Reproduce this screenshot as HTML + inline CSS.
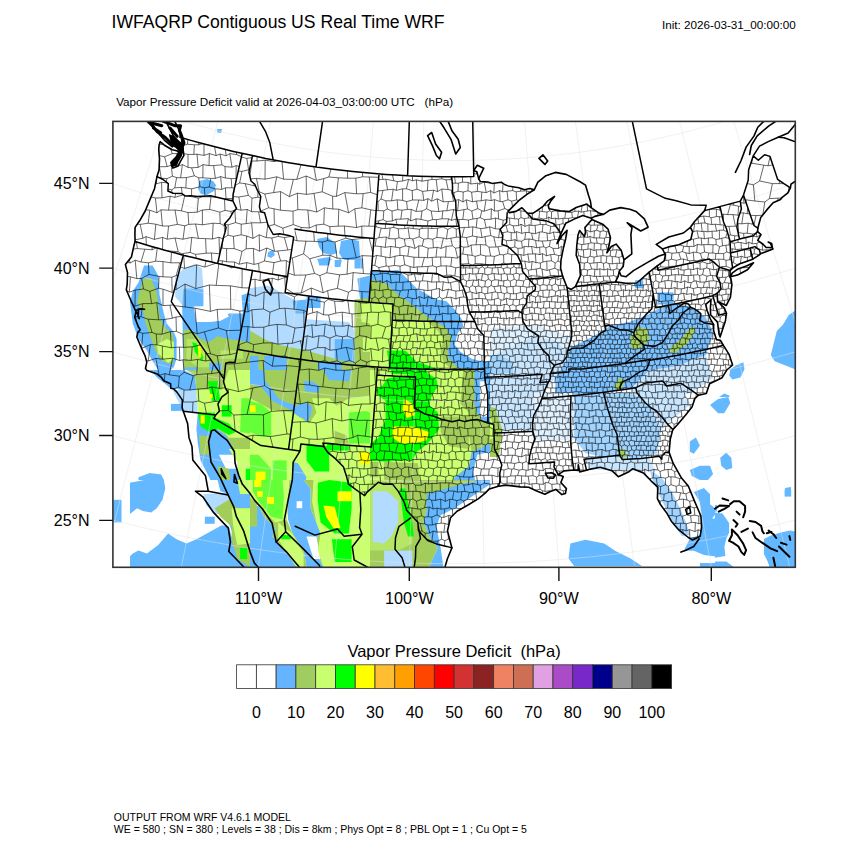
<!DOCTYPE html>
<html><head><meta charset="utf-8"><style>html,body{margin:0;padding:0;background:#fff;width:850px;height:850px;overflow:hidden}</style></head>
<body><svg width="850" height="850" viewBox="0 0 850 850" style="position:absolute;left:0;top:0"><defs><clipPath id="fr"><rect x="112.9" y="121.4" width="682.4" height="445.9"/></clipPath></defs><g clip-path="url(#fr)"><defs><clipPath id="ft0"><rect x="113" y="121" width="170" height="139"/></clipPath><clipPath id="ft1"><rect x="283" y="121" width="170" height="139"/></clipPath><clipPath id="ft2"><rect x="113" y="260" width="137" height="110"/></clipPath><clipPath id="ft3"><rect x="250" y="260" width="120" height="110"/></clipPath><clipPath id="ft4"><rect x="370" y="260" width="120" height="110"/></clipPath><clipPath id="ft5"><rect x="113" y="370" width="137" height="110"/></clipPath><clipPath id="ft6"><rect x="250" y="370" width="120" height="110"/></clipPath><clipPath id="ft7"><rect x="370" y="370" width="120" height="110"/></clipPath><clipPath id="ft8"><rect x="113" y="480" width="137" height="87"/></clipPath><clipPath id="ft9"><rect x="250" y="480" width="120" height="87"/></clipPath><clipPath id="ft10"><rect x="370" y="480" width="120" height="87"/></clipPath><clipPath id="ft11"><rect x="490" y="260" width="305" height="307"/></clipPath><clipPath id="ft12"><rect x="623" y="260" width="172" height="137"/></clipPath><clipPath id="ft13"><rect x="623" y="397" width="172" height="170"/></clipPath><clipPath id="ft14"><rect x="715" y="490" width="80" height="77"/></clipPath></defs><g clip-path="url(#ft0)"><path d="M199.0,181.0 L207.0,179.0 L213.0,181.0 L216.0,185.0 L214.0,191.0 L207.0,195.0 L201.0,194.0 L198.0,189.0Z" fill="#63b8ff"/><path d="M268.0,252.0 L273.0,250.0 L275.0,255.0 L271.0,258.0 L267.4,256.6Z" fill="#63b8ff"/><path d="M217.0,129.0 L222.0,129.0 L221.0,133.0 L217.4,132.6Z" fill="#63b8ff"/><path d="M143.0,265.0 L153.0,265.0 L156.0,281.0 L145.0,281.0Z" fill="#63b8ff"/></g><g clip-path="url(#ft1)"><path d="M317.0,239.0 L327.0,237.0 L335.0,243.0 L337.0,253.0 L331.0,255.0 L323.0,253.0 L319.0,247.0Z" fill="#63b8ff"/><path d="M317.0,259.0 L329.0,257.0 L333.0,261.0 L329.0,265.0 L319.0,265.0Z" fill="#63b8ff"/><path d="M334.0,261.0 L341.0,259.0 L342.0,267.0 L336.0,269.0Z" fill="#63b8ff"/><path d="M341.0,241.0 L351.0,239.0 L359.0,241.0 L360.0,257.0 L365.0,261.0 L364.0,269.0 L357.0,269.0 L351.0,263.0 L343.0,259.0 L339.0,253.0Z" fill="#63b8ff"/></g><g clip-path="url(#ft2)"><path d="M144.1,265.6 L152.6,265.6 L158.2,275.5 L159.6,295.3 L163.9,313.6 L166.7,323.5 L173.8,332.0 L176.6,339.1 L176.6,358.8 L173.8,367.3 L166.7,372.9 L158.2,370.1 L151.2,358.8 L146.9,350.4 L138.5,339.1 L132.8,323.5 L130.0,302.4 L132.8,291.1 L138.5,282.6Z" fill="#63b8ff"/><path d="M175.2,276.9 L183.6,268.5 L194.9,264.2 L202.0,268.5 L203.4,288.2 L200.6,306.6 L183.6,306.6 L175.2,296.7Z" fill="#b1dbff"/><path d="M183.6,288.2 L203.4,289.6 L203.4,306.6 L194.9,306.6 L196.4,322.1 L206.2,322.1 L220.4,320.7 L228.8,313.6 L242.9,313.6 L250.0,309.4 L250.0,380.0 L183.6,380.0 L182.2,306.6Z" fill="#63b8ff"/><path d="M193.5,306.6 L209.1,306.6 L226.0,310.8 L228.8,316.5 L220.4,320.7 L206.2,322.1 L196.4,322.1Z" fill="#ffffff"/><path d="M241.5,295.3 L250.0,292.5 L250.0,313.6 L242.9,313.6Z" fill="#63b8ff"/><path d="M143.4,278.4 L151.2,278.4 L156.8,292.5 L159.6,316.5 L163.9,326.4 L172.4,333.4 L173.8,341.9 L173.8,358.8 L172.4,364.5 L162.5,361.6 L155.4,350.4 L151.2,339.1 L145.5,323.5 L144.1,313.6 L137.1,302.4 L138.5,295.3Z" fill="#a2cd5a"/><path d="M183.6,329.2 L192.1,330.6 L200.6,339.1 L209.1,341.9 L217.5,336.2 L228.8,339.1 L250.0,341.9 L250.0,380.0 L183.6,380.0Z" fill="#a2cd5a"/><path d="M185.1,367.3 L197.8,367.3 L197.8,380.0 L185.1,380.0Z" fill="#63b8ff"/><path d="M209.1,363.1 L221.8,363.1 L221.8,380.0 L209.1,380.0Z" fill="#63b8ff"/><path d="M156.8,344.7 L166.7,339.1 L173.8,341.9 L173.8,358.8 L168.1,363.1 L158.2,353.2Z" fill="#caff70"/><path d="M186.5,339.1 L197.8,339.1 L209.1,350.4 L209.1,367.3 L197.8,367.3 L186.5,358.8Z" fill="#b6e665"/><path d="M220.4,350.4 L242.9,350.4 L242.9,358.8 L220.4,358.8Z" fill="#b6e665"/><path d="M192.1,341.9 L196.4,343.3 L203.4,357.4 L202.0,361.6 L194.9,351.8Z" fill="#00ff00"/><path d="M197.8,346.1 L200.6,346.1 L201.3,357.4 L198.5,357.4Z" fill="#ffff00"/></g><g clip-path="url(#ft3)"><path d="M317.8,260.0 L330.5,260.0 L329.1,265.6 L319.2,265.6Z" fill="#63b8ff"/><path d="M334.7,260.0 L341.8,260.0 L340.4,267.1 L334.7,267.1Z" fill="#63b8ff"/><path d="M354.5,260.0 L362.9,260.0 L362.9,268.5 L354.5,268.5Z" fill="#63b8ff"/><path d="M357.3,278.4 L370.0,275.5 L370.0,299.5 L360.1,299.5Z" fill="#63b8ff"/><path d="M250.0,288.2 L268.4,285.4 L296.6,300.9 L306.5,299.5 L306.5,351.8 L250.0,351.8Z" fill="#b1dbff"/><path d="M250.0,288.2 L261.3,286.8 L266.9,302.4 L265.5,322.1 L258.5,339.1 L250.0,339.1Z" fill="#b1dbff"/><path d="M292.4,300.9 L306.5,299.5 L306.5,313.6 L295.2,313.6Z" fill="#63b8ff"/><path d="M278.2,319.3 L296.6,319.3 L302.2,334.8 L292.4,344.7 L275.4,343.3Z" fill="#b1dbff"/><path d="M306.5,319.3 L329.1,320.7 L348.8,322.1 L354.5,330.6 L354.5,363.1 L306.5,358.8Z" fill="#b1dbff"/><path d="M334.7,339.1 L354.5,339.1 L354.5,363.1 L334.7,363.1Z" fill="#63b8ff"/><path d="M306.5,296.7 L320.6,296.7 L320.6,308.0 L306.5,308.0Z" fill="#63b8ff"/><path d="M354.5,299.5 L370.0,298.1 L370.0,380.0 L354.5,380.0Z" fill="#a2cd5a"/><path d="M250.0,330.6 L264.1,339.1 L278.2,344.7 L306.5,350.4 L334.7,358.8 L354.5,363.1 L354.5,380.0 L250.0,380.0Z" fill="#a2cd5a"/><path d="M250.0,356.0 L258.5,356.0 L258.5,380.0 L250.0,380.0Z" fill="#63b8ff"/><path d="M264.1,356.0 L286.7,356.0 L286.7,380.0 L264.1,380.0Z" fill="#63b8ff"/><path d="M317.8,361.6 L341.8,361.6 L341.8,380.0 L317.8,380.0Z" fill="#63b8ff"/><path d="M360.1,302.4 L370.0,302.4 L370.0,323.5 L361.5,322.1Z" fill="#caff70"/><path d="M362.9,337.6 L370.0,337.6 L370.0,351.8 L362.9,351.8Z" fill="#caff70"/></g><g clip-path="url(#ft4)"><path d="M370.0,271.3 L378.5,271.3 L398.2,269.9 L406.7,278.4 L416.6,288.2 L426.5,293.9 L436.4,299.5 L446.2,300.9 L454.7,309.4 L461.8,319.3 L463.2,326.4 L457.5,333.4 L454.7,344.7 L460.4,351.8 L471.6,358.8 L482.9,361.6 L490.0,361.6 L490.0,380.0 L370.0,380.0Z" fill="#63b8ff"/><path d="M370.0,279.8 L378.5,281.2 L386.9,284.0 L395.4,292.5 L405.3,299.5 L416.6,308.0 L426.5,316.5 L436.4,322.1 L446.2,327.8 L451.9,339.1 L447.6,351.8 L449.1,358.8 L457.5,367.3 L468.8,370.1 L477.3,380.0 L370.0,380.0Z" fill="#a2cd5a"/><path d="M370.0,302.4 L391.2,302.4 L392.6,319.3 L426.5,320.7 L437.8,330.6 L443.4,339.1 L440.6,351.8 L443.4,361.6 L449.1,367.3 L370.0,367.3Z" fill="#caff70"/><path d="M386.9,350.4 L405.3,350.4 L416.6,361.6 L440.6,370.1 L443.4,380.0 L389.8,380.0 L388.4,361.6Z" fill="#00ff00"/></g><g clip-path="url(#ft5)"><path d="M149.8,370.0 L183.6,370.0 L194.9,375.6 L196.4,389.8 L186.5,392.6 L176.6,388.4 L172.4,389.8 L165.3,384.1 L158.2,378.5Z" fill="#63b8ff"/><path d="M172.4,389.8 L196.4,389.8 L197.8,412.4 L183.6,410.9 L176.6,398.2Z" fill="#b1dbff"/><path d="M170.9,403.9 L182.2,403.9 L182.2,410.9 L170.9,410.9Z" fill="#63b8ff"/><path d="M197.8,412.4 L210.5,416.6 L217.5,429.3 L226.0,434.9 L231.6,443.4 L237.3,454.7 L237.3,468.8 L242.9,477.3 L245.8,490.0 L214.7,490.0 L209.1,477.3 L200.6,460.4 L197.8,443.4 L196.4,429.3Z" fill="#63b8ff"/><path d="M138.5,477.3 L149.8,473.1 L161.1,474.5 L165.3,482.9 L165.3,490.0 L138.5,490.0Z" fill="#63b8ff"/><path d="M218.9,454.7 L237.3,454.7 L237.3,468.8 L226.0,468.8Z" fill="#ffffff"/><path d="M186.5,370.0 L250.0,370.0 L250.0,490.0 L245.8,490.0 L242.9,477.3 L237.3,454.7 L226.0,434.9 L217.5,429.3 L210.5,416.6 L199.2,412.4 L196.4,389.8 L194.9,375.6Z" fill="#a2cd5a"/><path d="M199.2,434.9 L209.1,436.4 L209.1,454.7 L200.6,454.7Z" fill="#a2cd5a"/><path d="M217.5,466.0 L228.8,468.8 L231.6,490.0 L221.8,490.0Z" fill="#a2cd5a"/><path d="M196.4,389.8 L221.8,389.8 L228.8,370.0 L250.0,370.0 L250.0,437.8 L228.8,437.8 L220.4,426.5 L211.9,418.0 L197.8,412.4Z" fill="#caff70"/><path d="M228.8,449.1 L250.0,449.1 L250.0,490.0 L240.1,490.0 L237.3,461.8Z" fill="#caff70"/><path d="M207.6,381.3 L217.5,381.3 L220.4,401.1 L211.9,401.1Z" fill="#00ff00"/><path d="M197.8,412.4 L214.7,412.4 L217.5,429.3 L209.1,432.1 L200.6,426.5Z" fill="#00ff00"/><path d="M211.9,416.6 L228.8,423.6 L235.9,432.1 L228.8,434.9 L214.7,426.5Z" fill="#00ff00"/><path d="M241.5,398.2 L250.0,398.2 L250.0,433.5 L240.1,432.1Z" fill="#65ff38"/><path d="M245.8,468.8 L250.0,468.8 L250.0,490.0 L245.8,490.0Z" fill="#00ff00"/><path d="M221.8,405.3 L231.6,405.3 L231.6,416.6 L221.8,416.6Z" fill="#00ff00"/><path d="M200.6,415.2 L204.8,415.2 L204.8,423.6 L200.6,423.6Z" fill="#ffff00"/><path d="M209.8,394.0 L212.6,394.0 L212.6,398.2 L209.8,398.2Z" fill="#ffff00"/></g><g clip-path="url(#ft6)"><path d="M250.0,370.0 L370.0,370.0 L370.0,490.0 L250.0,490.0Z" fill="#a2cd5a"/><path d="M250.0,370.0 L264.1,370.0 L265.5,381.3 L272.6,389.8 L278.2,398.2 L286.7,402.5 L296.6,405.3 L306.5,402.5 L312.1,406.7 L310.7,415.2 L306.5,423.6 L303.6,418.0 L296.6,416.6 L292.4,410.9 L283.9,406.7 L272.6,401.1 L261.3,386.9 L250.0,384.1Z" fill="#63b8ff"/><path d="M303.6,381.3 L312.1,381.3 L320.6,386.9 L317.8,392.6 L305.1,391.2Z" fill="#63b8ff"/><path d="M323.4,370.0 L351.6,370.0 L348.8,381.3 L329.1,379.9Z" fill="#63b8ff"/><path d="M334.7,420.8 L340.4,420.8 L340.4,432.1 L334.7,432.1Z" fill="#63b8ff"/><path d="M292.4,461.8 L298.0,463.2 L306.5,477.3 L303.6,490.0 L292.4,490.0Z" fill="#63b8ff"/><path d="M250.0,398.2 L271.2,409.5 L292.4,412.4 L309.3,423.6 L316.4,412.4 L334.7,406.7 L348.8,398.2 L370.0,395.4 L370.0,490.0 L303.6,490.0 L306.5,477.3 L298.0,463.2 L292.4,461.8 L292.4,490.0 L250.0,490.0Z" fill="#caff70"/><path d="M312.1,398.2 L329.1,398.2 L337.5,406.7 L316.4,412.4Z" fill="#caff70"/><path d="M334.7,430.7 L346.0,434.9 L348.8,443.4 L334.7,443.4Z" fill="#a2cd5a"/><path d="M250.0,401.1 L261.3,403.9 L271.2,412.4 L271.2,436.4 L261.3,436.4 L250.0,432.1Z" fill="#65ff38"/><path d="M306.5,443.4 L329.1,446.2 L329.1,471.6 L314.9,471.6 L306.5,460.4Z" fill="#00ff00"/><path d="M348.8,412.4 L365.8,410.9 L370.0,412.4 L370.0,443.4 L348.8,443.4Z" fill="#65ff38"/><path d="M250.0,454.7 L258.5,454.7 L271.2,468.8 L271.2,490.0 L250.0,490.0Z" fill="#65ff38"/><path d="M272.6,460.4 L286.7,460.4 L286.7,490.0 L272.6,490.0Z" fill="#65ff38"/><path d="M326.2,443.4 L348.8,446.2 L348.8,450.5 L329.1,450.5Z" fill="#00ff00"/><path d="M250.0,405.3 L255.6,405.3 L255.6,412.4 L250.0,412.4Z" fill="#ffff00"/><path d="M255.6,471.6 L265.5,471.6 L265.5,487.2 L255.6,487.2Z" fill="#ffff00"/><path d="M358.7,451.9 L370.0,451.9 L370.0,464.6 L360.1,464.6Z" fill="#ffff00"/><path d="M347.4,484.4 L351.6,484.4 L351.6,488.6 L347.4,488.6Z" fill="#ffff00"/></g><g clip-path="url(#ft7)"><path d="M370.0,370.0 L490.0,370.0 L490.0,490.0 L370.0,490.0Z" fill="#a2cd5a"/><path d="M474.5,370.0 L490.0,370.0 L490.0,423.6 L481.5,419.4 L477.3,412.4 L474.5,403.9Z" fill="#63b8ff"/><path d="M471.6,451.9 L490.0,443.4 L490.0,490.0 L446.2,490.0 L454.7,477.3 L468.8,466.0Z" fill="#63b8ff"/><path d="M477.3,454.7 L490.0,451.9 L490.0,490.0 L477.3,490.0 L473.1,471.6Z" fill="#ffffff"/><path d="M480.1,381.3 L487.2,381.3 L487.2,416.6 L480.1,416.6Z" fill="#ffffff"/><path d="M370.0,370.0 L463.2,370.0 L460.4,403.9 L468.8,412.4 L468.8,433.5 L471.6,451.9 L468.8,466.0 L454.7,477.3 L446.2,490.0 L370.0,490.0Z" fill="#caff70"/><path d="M440.6,416.6 L468.8,416.6 L468.8,449.1 L449.1,446.2 L440.6,432.1Z" fill="#a2cd5a"/><path d="M384.1,461.8 L418.0,463.2 L419.4,480.1 L405.3,490.0 L384.1,490.0Z" fill="#a2cd5a"/><path d="M370.0,461.8 L378.5,461.8 L378.5,477.3 L370.0,477.3Z" fill="#a2cd5a"/><path d="M386.9,378.5 L412.4,374.2 L416.6,370.0 L426.5,372.8 L436.4,378.5 L437.8,386.9 L432.1,394.0 L429.3,405.3 L437.8,412.4 L439.2,429.3 L426.5,444.8 L416.6,451.9 L412.4,460.4 L398.2,460.4 L386.9,461.8 L370.0,460.4 L370.0,443.4 L378.5,437.8 L381.3,429.3 L385.5,419.4 L385.5,401.1 L378.5,395.4 L375.6,389.8 L382.7,385.5Z" fill="#00ff00"/><path d="M391.2,370.0 L426.5,370.0 L426.5,374.2 L391.2,374.2Z" fill="#00ff00"/><path d="M416.6,378.5 L433.5,378.5 L434.9,391.2 L426.5,402.5 L416.6,399.6Z" fill="#00ff00"/><path d="M403.9,398.2 L412.4,403.9 L415.2,415.2 L406.7,418.0 L402.5,409.5Z" fill="#ffff00"/><path d="M392.6,426.5 L412.4,426.5 L429.3,432.1 L426.5,440.6 L412.4,443.4 L401.1,443.4 L392.6,437.8Z" fill="#ffff00"/></g><g clip-path="url(#ft8)"><path d="M130.0,482.8 L144.1,480.0 L163.9,480.0 L165.3,488.5 L162.5,499.8 L156.8,508.2 L151.2,512.5 L142.7,511.1 L137.1,508.2 L130.0,513.9Z" fill="#63b8ff"/><path d="M132.8,553.4 L138.5,550.6 L146.9,553.4 L158.2,544.9 L168.1,533.6 L176.6,539.3 L186.5,543.5 L196.4,539.3 L209.1,532.2 L221.8,525.2 L228.8,526.6 L231.6,536.5 L237.3,547.8 L250.0,559.1 L250.0,567.0 L130.0,567.0 L130.0,556.2Z" fill="#63b8ff"/><path d="M204.8,516.7 L214.7,516.7 L214.7,523.8 L204.8,523.8Z" fill="#63b8ff"/><path d="M203.4,494.1 L228.8,492.7 L231.6,513.9 L214.7,513.9 L206.2,505.4Z" fill="#b1dbff"/><path d="M217.5,480.0 L250.0,480.0 L250.0,522.4 L231.6,522.4 L228.8,494.1 L220.4,491.3Z" fill="#63b8ff"/><path d="M228.8,522.4 L240.1,522.4 L240.1,530.8 L231.6,530.8Z" fill="#63b8ff"/><path d="M113.1,499.8 L121.5,499.8 L121.5,522.4 L113.1,522.4Z" fill="#63b8ff"/><path d="M214.7,508.2 L228.8,499.8 L237.3,508.2 L250.0,508.2 L250.0,567.0 L237.3,559.1 L231.6,539.3 L231.6,526.6 L220.4,516.7Z" fill="#a2cd5a"/><path d="M240.1,480.0 L250.0,480.0 L250.0,494.1 L240.1,494.1Z" fill="#a2cd5a"/><path d="M231.6,508.2 L250.0,508.2 L250.0,543.5 L237.3,544.9 L233.1,525.2Z" fill="#caff70"/><path d="M237.3,480.0 L250.0,480.0 L250.0,494.1 L240.1,494.1Z" fill="#caff70"/><path d="M240.1,547.8 L247.2,547.8 L247.2,559.1 L240.1,559.1Z" fill="#00ff00"/></g><g clip-path="url(#ft9)"><path d="M250.0,508.2 L258.5,505.4 L264.1,516.7 L275.4,528.0 L272.6,536.5 L285.3,550.6 L296.6,567.0 L250.0,567.0Z" fill="#63b8ff"/><path d="M290.9,480.0 L303.6,480.0 L310.7,488.5 L310.7,508.2 L316.4,522.4 L320.6,533.6 L313.5,542.1 L317.8,556.2 L323.4,567.0 L306.5,567.0 L303.6,550.6 L292.4,533.6 L288.1,519.5 L286.7,501.2Z" fill="#63b8ff"/><path d="M250.0,480.0 L290.9,480.0 L288.1,501.2 L286.7,519.5 L292.4,533.6 L303.6,550.6 L306.5,567.0 L296.6,567.0 L285.3,550.6 L272.6,536.5 L275.4,528.0 L264.1,516.7 L258.5,505.4 L250.0,498.4Z" fill="#a2cd5a"/><path d="M250.0,498.4 L257.1,498.4 L257.1,526.6 L250.0,526.6Z" fill="#a2cd5a"/><path d="M303.6,480.0 L370.0,480.0 L370.0,567.0 L323.4,567.0 L317.8,556.2 L313.5,542.1 L320.6,533.6 L316.4,522.4 L310.7,508.2 L310.7,488.5Z" fill="#a2cd5a"/><path d="M365.8,504.0 L370.0,504.0 L370.0,511.1 L365.8,511.1Z" fill="#63b8ff"/><path d="M364.4,529.4 L370.0,529.4 L370.0,539.3 L364.4,539.3Z" fill="#63b8ff"/><path d="M296.6,501.2 L302.2,501.2 L302.2,508.2 L296.6,508.2Z" fill="#ffffff"/><path d="M306.5,536.5 L316.4,536.5 L320.6,559.1 L313.5,559.1Z" fill="#ffffff"/><path d="M250.0,480.0 L289.5,480.0 L286.7,519.5 L275.4,522.4 L258.5,505.4 L250.0,496.9Z" fill="#caff70"/><path d="M278.2,522.4 L292.4,533.6 L303.6,553.4 L303.6,567.0 L296.6,567.0 L285.3,550.6 L278.2,539.3Z" fill="#caff70"/><path d="M313.5,480.0 L370.0,480.0 L370.0,567.0 L323.4,567.0 L317.8,550.6 L320.6,533.6 L316.4,522.4 L312.1,501.2Z" fill="#caff70"/><path d="M252.8,480.0 L282.5,480.0 L283.9,496.9 L282.5,519.5 L271.2,516.7 L258.5,501.2 L252.8,491.3Z" fill="#65ff38"/><path d="M317.8,482.8 L329.1,480.0 L351.6,482.8 L351.6,508.2 L348.8,533.6 L334.7,533.6 L320.6,522.4 L317.8,501.2Z" fill="#00ff00"/><path d="M331.9,539.3 L351.6,539.3 L351.6,561.9 L334.7,561.9Z" fill="#00ff00"/><path d="M281.1,535.1 L290.9,535.1 L290.9,539.3 L281.1,539.3Z" fill="#00ff00"/><path d="M254.2,480.0 L261.3,480.0 L261.3,487.1 L254.2,487.1Z" fill="#ffff00"/><path d="M257.1,491.3 L262.7,491.3 L262.7,496.9 L257.1,496.9Z" fill="#ffff00"/><path d="M266.9,496.9 L274.0,496.9 L274.0,504.0 L266.9,504.0Z" fill="#ffff00"/><path d="M337.5,491.3 L351.6,491.3 L351.6,501.2 L337.5,501.2Z" fill="#ffff00"/><path d="M323.4,505.4 L334.7,506.8 L340.4,528.0 L333.3,528.0 L326.2,516.7Z" fill="#ffff00"/></g><g clip-path="url(#ft10)"><path d="M370.0,480.0 L477.3,480.0 L449.1,494.1 L432.1,502.6 L426.5,511.1 L423.6,522.4 L429.3,536.5 L437.8,547.8 L429.3,567.0 L370.0,567.0Z" fill="#a2cd5a"/><path d="M426.5,494.1 L477.3,480.0 L490.0,480.0 L490.0,484.2 L454.7,508.2 L440.6,515.3 L436.4,526.6 L440.6,547.8 L443.4,567.0 L429.3,567.0 L437.8,547.8 L429.3,536.5 L423.6,522.4 L426.5,511.1Z" fill="#63b8ff"/><path d="M370.0,480.0 L402.5,480.0 L412.4,515.3 L412.4,543.5 L398.2,550.6 L370.0,550.6Z" fill="#b6e665"/><path d="M372.8,491.3 L386.9,491.3 L398.2,501.2 L398.2,522.4 L391.2,536.5 L384.1,543.5 L372.8,542.1Z" fill="#b1dbff"/><path d="M384.1,550.6 L412.4,550.6 L412.4,567.0 L384.1,567.0Z" fill="#b1dbff"/><path d="M399.6,488.5 L405.3,488.5 L412.4,522.4 L413.8,536.5 L408.1,536.5 L403.9,522.4Z" fill="#00ff00"/></g><g clip-path="url(#ft11)"><path d="M480.0,328.9 L536.5,325.2 L570.4,336.5 L574.1,355.3 L555.3,370.4 L480.0,366.6Z" fill="#e0f1ff"/><path d="M555.3,370.4 L570.4,347.8 L592.9,336.5 L611.8,325.2 L630.6,321.4 L649.4,313.9 L668.2,302.6 L690.8,306.4 L705.9,317.6 L713.4,332.7 L705.9,355.3 L675.8,366.6 L649.4,370.4 L630.6,389.2 L604.2,392.9 L574.1,394.8 L555.3,392.9Z" fill="#7dc2ff"/><path d="M630.6,389.2 L649.4,370.4 L675.8,366.6 L705.9,355.3 L713.4,377.9 L690.8,392.9 L660.7,400.5 L638.1,400.5Z" fill="#c9e6ff"/><path d="M480.0,359.1 L502.6,351.5 L532.7,336.5 L555.3,340.2 L570.4,355.3 L555.3,377.9 L544.0,392.9 L532.7,430.6 L502.6,430.6 L480.0,430.6Z" fill="#c9e6ff"/><path d="M532.7,392.9 L574.1,392.9 L574.1,440.0 L532.7,440.0Z" fill="#e0f1ff"/><path d="M574.1,394.8 L604.2,392.9 L630.6,392.9 L649.4,404.2 L660.7,430.6 L656.9,453.2 L630.6,460.7 L604.2,456.9 L585.4,453.2 L574.1,438.1Z" fill="#a1d4ff"/><path d="M638.1,400.5 L660.7,400.5 L683.3,392.9 L690.8,404.2 L668.2,423.1 L660.7,430.6 L649.4,404.2Z" fill="#c9e6ff"/><path d="M649.8,470.1 L661.8,478.0 L672.0,492.0 L679.9,508.1 L685.9,522.1 L690.1,534.9 L681.8,536.0 L672.0,522.1 L664.1,505.1 L656.9,490.1 L652.0,478.0Z" fill="#a1d4ff"/><path d="M585.0,455.8 L649.8,458.8 L655.1,470.9 L620.0,470.9 L589.9,469.0Z" fill="#c9e6ff"/><path d="M570.4,543.5 L585.4,539.8 L604.2,543.5 L615.5,551.1 L630.6,558.6 L641.9,566.1 L574.1,566.1 L568.5,558.6Z" fill="#63b8ff"/><path d="M484.9,356.8 L500.0,354.9 L513.1,362.1 L513.1,373.0 L484.9,373.0Z" fill="#a1d4ff"/><path d="M630.6,336.5 L638.1,327.1 L647.5,328.9 L649.4,340.2 L638.1,349.6 L630.6,347.8Z" fill="#a2cd5a"/><path d="M668.2,349.6 L679.5,340.2 L690.8,327.1 L696.5,328.9 L687.1,344.0 L673.9,353.4Z" fill="#a2cd5a"/><path d="M613.6,387.3 L619.3,377.9 L624.9,379.8 L621.2,391.1Z" fill="#a2cd5a"/><path d="M617.4,449.4 L624.9,449.4 L626.8,456.9 L619.3,457.7Z" fill="#a2cd5a"/><path d="M480.0,404.2 L495.1,408.0 L502.6,430.6 L498.8,456.9 L480.0,456.9Z" fill="#a2cd5a"/><path d="M480.0,415.5 L491.3,419.3 L495.1,438.1 L480.0,441.9Z" fill="#caff70"/></g><g clip-path="url(#ft12)"><path d="M770.8,355.1 L776.8,330.9 L782.9,324.8 L789.0,314.7 L795.1,310.6 L795.1,369.3 L784.9,365.3 L774.8,361.2Z" fill="#63b8ff"/><path d="M730.3,369.3 L736.4,365.3 L743.4,362.2 L744.5,369.3 L740.4,377.4 L732.3,379.4 L729.3,375.4Z" fill="#63b8ff"/><path d="M712.1,405.7 L718.1,397.7 L724.2,393.6 L729.3,395.6 L730.3,403.7 L724.2,409.8 L720.2,413.8 L714.1,409.8Z" fill="#63b8ff"/><path d="M657.4,292.4 L673.6,292.4 L673.6,304.5 L657.4,304.5Z" fill="#63b8ff"/><path d="M635.1,280.2 L643.2,280.2 L643.2,288.3 L635.1,288.3Z" fill="#63b8ff"/></g><g clip-path="url(#ft13)"><path d="M710.0,405.1 L718.1,399.0 L728.3,397.0 L730.3,403.1 L724.2,413.2 L718.1,413.2Z" fill="#63b8ff"/><path d="M689.8,441.5 L695.9,437.5 L699.9,445.6 L693.9,453.7 L689.8,451.7Z" fill="#63b8ff"/><path d="M720.2,457.7 L726.2,452.7 L731.3,457.7 L732.3,467.9 L726.2,469.9 L721.2,465.8Z" fill="#63b8ff"/><path d="M689.8,469.9 L699.9,465.8 L710.0,465.8 L713.1,473.9 L708.0,480.0 L699.9,480.0 L691.8,475.9Z" fill="#63b8ff"/><path d="M693.9,492.1 L704.0,488.1 L710.0,494.2 L710.0,504.3 L718.1,510.4 L712.1,518.5 L722.2,518.5 L728.3,526.6 L732.3,538.7 L736.4,550.8 L724.2,554.9 L720.2,556.9 L704.0,554.9 L693.9,550.8 L683.7,550.8 L689.8,538.7 L699.9,534.7 L701.9,518.5 L699.9,502.3Z" fill="#63b8ff"/><path d="M764.7,538.7 L776.8,534.7 L789.0,530.6 L795.1,530.6 L795.1,567.0 L772.8,567.0 L768.7,554.9Z" fill="#63b8ff"/><path d="M784.9,488.1 L791.0,487.1 L791.0,496.2 L784.9,496.2Z" fill="#63b8ff"/><path d="M699.9,563.0 L736.4,563.0 L736.4,567.0 L699.9,567.0Z" fill="#63b8ff"/></g><g clip-path="url(#ft14)"><path d="M715.0,490.0 L795.0,490.0 L795.0,567.0 L715.0,567.0Z" fill="#ffffff"/><path d="M715.0,512.6 L722.5,513.5 L729.1,522.9 L729.1,532.4 L726.3,538.9 L724.4,546.5 L725.4,555.9 L715.0,557.8Z" fill="#63b8ff"/><path d="M715.0,561.5 L726.3,561.5 L733.8,567.0 L715.0,567.0Z" fill="#63b8ff"/><path d="M763.9,538.9 L771.5,535.2 L780.9,532.4 L790.3,530.5 L795.0,531.4 L795.0,567.0 L769.6,567.0 L767.7,561.5 L763.9,554.0Z" fill="#63b8ff"/><path d="M784.6,490.0 L791.2,490.0 L791.2,496.6 L784.6,496.6Z" fill="#63b8ff"/><path d="M715.0,505.1 L716.9,505.1 L716.9,511.6 L715.0,511.6Z" fill="#63b8ff"/></g><path d="M-240.5,564.9 L-225.6,572.5 L-210.5,579.9 L-195.4,587.1 L-180.2,594.2 L-164.9,601.1 L-149.5,607.8 L-134.1,614.3 L-118.5,620.7 L-103.0,626.9 L-87.3,633.0 L-71.6,638.9 L-55.8,644.6 L-40.0,650.1 L-24.1,655.4 L-8.1,660.6 L7.9,665.6 L23.9,670.4 L40.0,675.1 L56.2,679.5 L72.4,683.8 L88.7,687.9 L105.0,691.9 L121.3,695.6 L137.7,699.2 L154.2,702.6 L170.6,705.8 L187.1,708.8 L203.6,711.7 L220.2,714.3 L236.8,716.8 L253.4,719.1 L270.0,721.2 L286.7,723.2 L303.4,724.9 L320.1,726.5 L336.8,727.9 L353.5,729.1 L370.3,730.1 L387.0,730.9 L403.8,731.6 L420.6,732.0 L437.3,732.3 L454.1,732.4 L470.9,732.3 L487.6,732.0 L504.4,731.6 L521.2,730.9 L537.9,730.1 L554.7,729.1 L571.4,727.9 L588.1,726.5 L604.8,724.9 L621.5,723.2 L638.2,721.2 L654.8,719.1 L671.4,716.8 L688.0,714.3 L704.6,711.7 L721.1,708.8 L737.6,705.8 L754.0,702.6 L770.5,699.2 L786.9,695.6 L803.2,691.9 L819.5,687.9 L835.8,683.8 L852.0,679.5 L868.2,675.1 L884.3,670.4 L900.3,665.6 L916.3,660.6 L932.3,655.4 L948.2,650.1 L964.0,644.6 L979.8,638.9 L995.5,633.0 L1011.2,626.9 L1026.7,620.7 L1042.3,614.3 L1057.7,607.8 L1073.1,601.1 L1088.4,594.2 L1103.6,587.1 L1118.7,579.9 L1133.8,572.5 M-201.6,488.8 L-187.4,496.0 L-173.2,502.9 L-158.9,509.8 L-144.6,516.4 L-130.2,522.9 L-115.6,529.3 L-101.1,535.5 L-86.4,541.5 L-71.7,547.4 L-57.0,553.1 L-42.1,558.6 L-27.2,564.0 L-12.3,569.2 L2.7,574.3 L17.8,579.2 L32.9,583.9 L48.1,588.4 L63.3,592.8 L78.5,597.0 L93.8,601.1 L109.2,605.0 L124.6,608.7 L140.0,612.2 L155.5,615.6 L171.0,618.8 L186.5,621.8 L202.1,624.7 L217.7,627.4 L233.3,629.9 L249.0,632.2 L264.7,634.4 L280.4,636.4 L296.1,638.2 L311.8,639.9 L327.6,641.3 L343.4,642.6 L359.2,643.8 L375.0,644.7 L390.8,645.5 L406.6,646.1 L422.4,646.6 L438.3,646.8 L454.1,646.9 L469.9,646.8 L485.8,646.6 L501.6,646.1 L517.4,645.5 L533.2,644.7 L549.0,643.8 L564.8,642.6 L580.6,641.3 L596.4,639.9 L612.1,638.2 L627.8,636.4 L643.5,634.4 L659.2,632.2 L674.9,629.9 L690.5,627.4 L706.1,624.7 L721.7,621.8 L737.2,618.8 L752.7,615.6 L768.2,612.2 L783.6,608.7 L799.0,605.0 L814.4,601.1 L829.7,597.0 L844.9,592.8 L860.1,588.4 L875.3,583.9 L890.4,579.2 L905.5,574.3 L920.5,569.2 L935.4,564.0 L950.3,558.6 L965.2,553.1 L979.9,547.4 L994.6,541.5 L1009.3,535.5 L1023.8,529.3 L1038.4,522.9 L1052.8,516.4 L1067.1,509.8 L1081.4,502.9 L1095.6,496.0 M-163.6,414.8 L-150.3,421.5 L-136.9,428.1 L-123.5,434.5 L-110.0,440.8 L-96.4,446.9 L-82.7,452.9 L-69.0,458.7 L-55.2,464.4 L-41.3,469.9 L-27.4,475.3 L-13.4,480.5 L0.6,485.6 L14.7,490.5 L28.8,495.3 L43.0,499.9 L57.2,504.3 L71.5,508.6 L85.9,512.7 L100.2,516.7 L114.7,520.5 L129.1,524.2 L143.6,527.7 L158.2,531.0 L172.7,534.2 L187.4,537.2 L202.0,540.0 L216.7,542.7 L231.4,545.3 L246.1,547.6 L260.8,549.8 L275.6,551.9 L290.4,553.8 L305.2,555.5 L320.1,557.1 L334.9,558.4 L349.8,559.7 L364.7,560.7 L379.6,561.6 L394.5,562.4 L409.4,563.0 L424.3,563.4 L439.2,563.6 L454.1,563.7 L469.0,563.6 L483.9,563.4 L498.8,563.0 L513.7,562.4 L528.6,561.6 L543.5,560.7 L558.4,559.7 L573.3,558.4 L588.1,557.1 L603.0,555.5 L617.8,553.8 L632.6,551.9 L647.4,549.8 L662.1,547.6 L676.8,545.3 L691.5,542.7 L706.2,540.0 L720.8,537.2 L735.5,534.2 L750.0,531.0 L764.6,527.7 L779.1,524.2 L793.5,520.5 L808.0,516.7 L822.3,512.7 L836.7,508.6 L851.0,504.3 L865.2,499.9 L879.4,495.3 L893.5,490.5 L907.6,485.6 L921.6,480.5 L935.6,475.3 L949.5,469.9 L963.4,464.4 L977.2,458.7 L990.9,452.9 L1004.6,446.9 L1018.2,440.8 L1031.7,434.5 L1045.1,428.1 L1058.5,421.5 M-126.5,342.1 L-114.0,348.5 L-101.4,354.6 L-88.7,360.7 L-76.0,366.6 L-63.2,372.4 L-50.4,378.0 L-37.5,383.5 L-24.5,388.8 L-11.5,394.0 L1.6,399.0 L14.7,404.0 L27.9,408.7 L41.1,413.3 L54.4,417.8 L67.7,422.1 L81.1,426.3 L94.6,430.3 L108.0,434.2 L121.5,438.0 L135.1,441.5 L148.7,445.0 L162.3,448.3 L176.0,451.4 L189.7,454.4 L203.4,457.2 L217.2,459.9 L231.0,462.4 L244.8,464.8 L258.6,467.0 L272.5,469.1 L286.4,471.0 L300.3,472.8 L314.2,474.4 L328.1,475.9 L342.1,477.2 L356.1,478.3 L370.0,479.3 L384.0,480.2 L398.0,480.9 L412.1,481.4 L426.1,481.8 L440.1,482.0 L454.1,482.1 L468.1,482.0 L482.1,481.8 L496.1,481.4 L510.2,480.9 L524.2,480.2 L538.2,479.3 L552.1,478.3 L566.1,477.2 L580.1,475.9 L594.0,474.4 L607.9,472.8 L621.8,471.0 L635.7,469.1 L649.6,467.0 L663.4,464.8 L677.2,462.4 L691.0,459.9 L704.8,457.2 L718.5,454.4 L732.2,451.4 L745.9,448.3 L759.5,445.0 L773.1,441.5 L786.7,438.0 L800.2,434.2 L813.6,430.3 L827.1,426.3 L840.5,422.1 L853.8,417.8 L867.1,413.3 L880.3,408.7 L893.5,404.0 L906.6,399.0 L919.7,394.0 L932.7,388.8 L945.7,383.5 L958.6,378.0 L971.4,372.4 L984.2,366.6 L996.9,360.7 L1009.6,354.6 L1022.2,348.5 M-89.8,270.5 L-78.1,276.4 L-66.3,282.2 L-54.4,287.9 L-42.5,293.4 L-30.5,298.8 L-18.5,304.1 L-6.4,309.2 L5.7,314.2 L17.9,319.1 L30.2,323.8 L42.5,328.4 L54.8,332.9 L67.2,337.2 L79.7,341.4 L92.2,345.4 L104.7,349.3 L117.3,353.1 L129.9,356.7 L142.6,360.2 L155.2,363.6 L168.0,366.8 L180.7,369.9 L193.6,372.8 L206.4,375.6 L219.2,378.3 L232.1,380.8 L245.1,383.2 L258.0,385.4 L271.0,387.5 L283.9,389.4 L297.0,391.2 L310.0,392.9 L323.0,394.4 L336.1,395.8 L349.2,397.0 L362.3,398.1 L375.4,399.0 L388.5,399.8 L401.6,400.5 L414.7,401.0 L427.8,401.3 L441.0,401.5 L454.1,401.6 L467.2,401.5 L480.4,401.3 L493.5,401.0 L506.6,400.5 L519.7,399.8 L532.8,399.0 L545.9,398.1 L559.0,397.0 L572.1,395.8 L585.2,394.4 L598.2,392.9 L611.2,391.2 L624.3,389.4 L637.2,387.5 L650.2,385.4 L663.1,383.2 L676.1,380.8 L689.0,378.3 L701.8,375.6 L714.6,372.8 L727.5,369.9 L740.2,366.8 L753.0,363.6 L765.6,360.2 L778.3,356.7 L790.9,353.1 L803.5,349.3 L816.0,345.4 L828.5,341.4 L841.0,337.2 L853.4,332.9 L865.7,328.4 L878.0,323.8 L890.3,319.1 L902.5,314.2 L914.6,309.2 L926.7,304.1 L938.7,298.8 L950.7,293.4 L962.6,287.9 L974.5,282.2 L986.3,276.4 M-53.3,199.3 L-42.4,204.8 L-31.4,210.2 L-20.3,215.5 L-9.2,220.6 L1.9,225.7 L13.2,230.6 L24.4,235.4 L35.8,240.0 L47.2,244.6 L58.6,249.0 L70.1,253.3 L81.6,257.4 L93.2,261.5 L104.8,265.4 L116.4,269.2 L128.1,272.8 L139.9,276.3 L151.6,279.7 L163.4,283.0 L175.3,286.1 L187.2,289.1 L199.1,292.0 L211.0,294.7 L223.0,297.4 L235.0,299.8 L247.0,302.2 L259.1,304.4 L271.1,306.5 L283.2,308.4 L295.4,310.2 L307.5,311.9 L319.6,313.5 L331.8,314.9 L344.0,316.1 L356.2,317.3 L368.4,318.3 L380.6,319.2 L392.9,319.9 L405.1,320.5 L417.3,321.0 L429.6,321.3 L441.8,321.5 L454.1,321.6 L466.4,321.5 L478.6,321.3 L490.9,321.0 L503.1,320.5 L515.3,319.9 L527.6,319.2 L539.8,318.3 L552.0,317.3 L564.2,316.1 L576.4,314.9 L588.6,313.5 L600.7,311.9 L612.8,310.2 L625.0,308.4 L637.1,306.5 L649.1,304.4 L661.2,302.2 L673.2,299.8 L685.2,297.4 L697.2,294.7 L709.1,292.0 L721.0,289.1 L732.9,286.1 L744.8,283.0 L756.6,279.7 L768.3,276.3 L780.1,272.8 L791.8,269.2 L803.4,265.4 L815.0,261.5 L826.6,257.4 L838.1,253.3 L849.6,249.0 L861.0,244.6 L872.4,240.0 L883.8,235.4 L895.0,230.6 L906.3,225.7 L917.4,220.6 L928.5,215.5 L939.6,210.2 L950.6,204.8 M-16.8,127.9 L-6.7,133.1 L3.5,138.1 L13.8,143.0 L24.1,147.8 L34.5,152.4 L44.9,157.0 L55.4,161.4 L65.9,165.8 L76.4,170.0 L87.1,174.1 L97.7,178.1 L108.4,181.9 L119.1,185.7 L129.9,189.3 L140.7,192.8 L151.6,196.2 L162.5,199.5 L173.4,202.6 L184.4,205.6 L195.4,208.5 L206.4,211.3 L217.4,214.0 L228.5,216.5 L239.6,219.0 L250.8,221.3 L261.9,223.4 L273.1,225.5 L284.3,227.4 L295.5,229.2 L306.8,230.9 L318.0,232.5 L329.3,233.9 L340.6,235.2 L351.9,236.4 L363.3,237.5 L374.6,238.4 L385.9,239.2 L397.3,239.9 L408.6,240.5 L420.0,240.9 L431.4,241.2 L442.7,241.4 L454.1,241.5 L465.5,241.4 L476.8,241.2 L488.2,240.9 L499.6,240.5 L510.9,239.9 L522.3,239.2 L533.6,238.4 L544.9,237.5 L556.3,236.4 L567.6,235.2 L578.9,233.9 L590.2,232.5 L601.4,230.9 L612.7,229.2 L623.9,227.4 L635.1,225.5 L646.3,223.4 L657.4,221.3 L668.6,219.0 L679.7,216.5 L690.8,214.0 L701.8,211.3 L712.8,208.5 L723.8,205.6 L734.8,202.6 L745.7,199.5 L756.6,196.2 L767.5,192.8 L778.3,189.3 L789.1,185.7 L799.8,181.9 L810.5,178.1 L821.1,174.1 L831.8,170.0 L842.3,165.8 L852.8,161.4 L863.3,157.0 L873.7,152.4 L884.1,147.8 L894.4,143.0 L904.7,138.1 L914.9,133.1 M20.1,55.9 L29.4,60.6 L38.8,65.3 L48.3,69.8 L57.8,74.2 L67.3,78.5 L76.9,82.7 L86.6,86.8 L96.3,90.8 L106.0,94.7 L115.8,98.5 L125.6,102.1 L135.5,105.7 L145.4,109.1 L155.3,112.5 L165.3,115.7 L175.3,118.8 L185.3,121.8 L195.4,124.8 L205.5,127.5 L215.6,130.2 L225.8,132.8 L236.0,135.2 L246.2,137.6 L256.4,139.8 L266.7,141.9 L277.0,143.9 L287.3,145.8 L297.6,147.6 L308.0,149.3 L318.3,150.8 L328.7,152.3 L339.1,153.6 L349.5,154.8 L359.9,155.9 L370.4,156.9 L380.8,157.7 L391.3,158.5 L401.7,159.1 L412.2,159.6 L422.7,160.0 L433.1,160.3 L443.6,160.5 L454.1,160.6 L464.6,160.5 L475.1,160.3 L485.5,160.0 L496.0,159.6 L506.5,159.1 L516.9,158.5 L527.4,157.7 L537.8,156.9 L548.3,155.9 L558.7,154.8 L569.1,153.6 L579.5,152.3 L589.9,150.8 L600.2,149.3 L610.6,147.6 L620.9,145.8 L631.2,143.9 L641.5,141.9 L651.8,139.8 L662.0,137.6 L672.2,135.2 L682.4,132.8 L692.6,130.2 L702.7,127.5 L712.8,124.8 L722.9,121.8 L732.9,118.8 L742.9,115.7 L752.9,112.5 L762.8,109.1 L772.7,105.7 L782.6,102.1 L792.4,98.5 L802.2,94.7 L811.9,90.8 L821.6,86.8 L831.3,82.7 L840.9,78.5 L850.4,74.2 L859.9,69.8 L869.4,65.3 L878.8,60.6 M57.6,-17.4 L66.2,-13.1 L74.8,-8.9 L83.4,-4.8 L92.1,-0.7 L100.8,3.2 L109.6,7.0 L118.4,10.8 L127.2,14.4 L136.1,18.0 L145.1,21.4 L154.0,24.8 L163.0,28.0 L172.1,31.2 L181.1,34.2 L190.3,37.2 L199.4,40.0 L208.6,42.8 L217.8,45.4 L227.0,48.0 L236.2,50.4 L245.5,52.8 L254.8,55.0 L264.2,57.2 L273.5,59.2 L282.9,61.1 L292.3,63.0 L301.7,64.7 L311.1,66.3 L320.6,67.8 L330.1,69.3 L339.5,70.6 L349.0,71.8 L358.6,72.9 L368.1,73.9 L377.6,74.8 L387.1,75.6 L396.7,76.3 L406.3,76.8 L415.8,77.3 L425.4,77.7 L435.0,77.9 L444.5,78.1 L454.1,78.1 L463.7,78.1 L473.2,77.9 L482.8,77.7 L492.4,77.3 L501.9,76.8 L511.5,76.3 L521.1,75.6 L530.6,74.8 L540.1,73.9 L549.6,72.9 L559.2,71.8 L568.7,70.6 L578.1,69.3 L587.6,67.8 L597.1,66.3 L606.5,64.7 L615.9,63.0 L625.3,61.1 L634.7,59.2 L644.0,57.2 L653.4,55.0 L662.7,52.8 L672.0,50.4 L681.2,48.0 L690.4,45.4 L699.6,42.8 L708.8,40.0 L717.9,37.2 L727.1,34.2 L736.1,31.2 L745.2,28.0 L754.2,24.8 L763.1,21.4 L772.1,18.0 L781.0,14.4 L789.8,10.8 L798.6,7.0 L807.4,3.2 L816.1,-0.7 L824.8,-4.8 L833.4,-8.9 L842.0,-13.1 M-280.8,643.6 L-264.5,611.8 L-248.5,580.4 L-232.6,549.5 L-217.0,519.0 L-201.6,488.8 L-186.3,459.0 L-171.2,429.4 L-156.2,400.1 L-141.3,371.0 L-126.5,342.1 L-111.8,313.4 L-97.1,284.8 L-82.5,256.2 L-67.9,227.7 L-53.3,199.3 L-38.7,170.8 L-24.1,142.2 L-9.5,113.6 L5.3,84.8 L20.1,55.9 L35.0,26.8 L50.0,-2.6 L65.2,-32.3 L80.7,-62.4 L96.3,-93.0 M-200.8,681.8 L-186.2,649.2 L-171.9,617.0 L-157.8,585.2 L-143.9,553.9 L-130.2,522.9 L-116.5,492.3 L-103.1,462.0 L-89.7,431.9 L-76.4,402.0 L-63.2,372.4 L-50.1,342.8 L-37.1,313.5 L-24.0,284.1 L-11.0,254.9 L1.9,225.7 L14.9,196.4 L28.0,167.1 L41.0,137.7 L54.1,108.2 L67.3,78.5 L80.6,48.6 L94.0,18.4 L107.6,-12.1 L121.3,-43.0 L135.3,-74.3 M-118.7,715.6 L-106.0,682.2 L-93.5,649.3 L-81.2,616.8 L-69.0,584.8 L-57.0,553.1 L-45.1,521.7 L-33.3,490.7 L-21.6,459.9 L-10.0,429.4 L1.6,399.0 L13.0,368.9 L24.5,338.8 L35.9,308.8 L47.2,278.9 L58.6,249.0 L70.0,219.1 L81.3,189.1 L92.8,159.0 L104.2,128.8 L115.8,98.5 L127.4,67.9 L139.2,37.0 L151.0,5.8 L163.0,-25.8 L175.2,-57.9 M-35.0,744.8 L-24.1,710.8 L-13.4,677.2 L-2.9,644.1 L7.5,611.4 L17.8,579.2 L27.9,547.2 L38.0,515.6 L48.0,484.2 L57.9,453.1 L67.7,422.1 L77.5,391.4 L87.3,360.7 L97.0,330.1 L106.7,299.6 L116.4,269.2 L126.1,238.7 L135.9,208.1 L145.6,177.5 L155.4,146.7 L165.3,115.7 L175.2,84.5 L185.2,53.0 L195.3,21.2 L205.6,-11.0 L216.0,-43.7 M50.3,769.4 L59.2,734.8 L68.1,700.7 L76.8,667.1 L85.3,633.9 L93.8,601.1 L102.2,568.6 L110.5,536.5 L118.8,504.6 L127.0,473.0 L135.1,441.5 L143.2,410.3 L151.2,379.1 L159.3,348.1 L167.3,317.1 L175.3,286.1 L183.3,255.1 L191.3,224.1 L199.4,193.0 L207.5,161.7 L215.6,130.2 L223.8,98.5 L232.1,66.5 L240.4,34.2 L248.9,1.5 L257.5,-31.7 M136.8,789.3 L143.8,754.2 L150.7,719.7 L157.6,685.6 L164.3,652.0 L171.0,618.8 L177.6,585.9 L184.1,553.4 L190.6,521.1 L197.0,489.0 L203.4,457.2 L209.8,425.6 L216.1,394.0 L222.4,362.6 L228.7,331.2 L235.0,299.8 L241.3,268.5 L247.6,237.0 L253.9,205.5 L260.3,173.8 L266.7,141.9 L273.1,109.8 L279.6,77.5 L286.2,44.7 L292.8,11.6 L299.6,-22.0 M224.2,804.3 L229.3,768.9 L234.3,734.1 L239.3,699.7 L244.1,665.8 L249.0,632.2 L253.8,599.0 L258.5,566.2 L263.2,533.6 L267.8,501.2 L272.5,469.1 L277.1,437.1 L281.7,405.3 L286.2,373.6 L290.8,341.9 L295.4,310.2 L299.9,278.6 L304.5,246.8 L309.1,215.0 L313.7,183.0 L318.3,150.8 L323.0,118.4 L327.7,85.7 L332.5,52.7 L337.3,19.2 L342.2,-14.7 M312.3,814.5 L315.5,778.9 L318.6,743.8 L321.6,709.2 L324.6,675.1 L327.6,641.3 L330.6,607.9 L333.5,574.9 L336.4,542.1 L339.2,509.5 L342.1,477.2 L344.9,445.0 L347.8,413.0 L350.6,381.0 L353.4,349.2 L356.2,317.3 L359.0,285.4 L361.8,253.5 L364.7,221.4 L367.5,189.2 L370.4,156.9 L373.2,124.3 L376.1,91.4 L379.1,58.1 L382.1,24.4 L385.1,-9.7 M400.9,819.9 L402.1,784.2 L403.2,749.0 L404.4,714.3 L405.5,680.0 L406.6,646.1 L407.7,612.6 L408.8,579.4 L409.9,546.5 L411.0,513.9 L412.1,481.4 L413.1,449.2 L414.2,417.0 L415.2,385.0 L416.3,353.0 L417.3,321.0 L418.4,289.0 L419.5,257.0 L420.5,224.8 L421.6,192.5 L422.7,160.0 L423.7,127.3 L424.8,94.3 L425.9,60.9 L427.1,27.2 L428.2,-7.1 M489.6,820.4 L488.8,784.7 L488.0,749.4 L487.3,714.7 L486.5,680.4 L485.8,646.6 L485.0,613.0 L484.3,579.9 L483.6,546.9 L482.9,514.3 L482.1,481.8 L481.4,449.5 L480.7,417.4 L480.0,385.3 L479.3,353.3 L478.6,321.3 L477.9,289.3 L477.2,257.3 L476.5,225.1 L475.8,192.8 L475.1,160.3 L474.3,127.6 L473.6,94.6 L472.9,61.2 L472.1,27.4 L471.4,-6.9 M578.2,816.0 L575.4,780.4 L572.7,745.2 L570.1,710.6 L567.4,676.4 L564.8,642.6 L562.2,609.2 L559.7,576.1 L557.1,543.3 L554.6,510.7 L552.1,478.3 L549.7,446.1 L547.2,414.1 L544.7,382.1 L542.2,350.2 L539.8,318.3 L537.3,286.4 L534.9,254.4 L532.4,222.4 L529.9,190.1 L527.4,157.7 L524.9,125.1 L522.3,92.2 L519.8,58.9 L517.2,25.2 L514.5,-9.0 M666.4,806.7 L661.7,771.3 L657.1,736.4 L652.5,702.0 L648.0,668.0 L643.5,634.4 L639.1,601.2 L634.8,568.2 L630.4,535.6 L626.1,503.2 L621.8,471.0 L617.6,439.0 L613.4,407.1 L609.1,375.3 L604.9,343.6 L600.7,311.9 L596.5,280.2 L592.3,248.4 L588.0,216.5 L583.8,184.5 L579.5,152.3 L575.2,119.8 L570.8,87.1 L566.4,54.0 L562.0,20.5 L557.5,-13.5 M754.0,792.7 L747.4,757.5 L740.8,722.9 L734.4,688.8 L728.0,655.1 L721.7,621.8 L715.4,588.9 L709.3,556.2 L703.2,523.9 L697.1,491.8 L691.0,459.9 L685.0,428.2 L679.0,396.6 L673.1,365.1 L667.1,333.6 L661.2,302.2 L655.2,270.7 L649.3,239.2 L643.3,207.6 L637.3,175.9 L631.2,143.9 L625.1,111.8 L619.0,79.3 L612.8,46.5 L606.5,13.3 L600.1,-20.4 M840.7,773.8 L832.1,739.0 L823.7,704.9 L815.4,671.1 L807.1,637.9 L799.0,605.0 L791.0,572.4 L783.0,540.2 L775.1,508.2 L767.3,476.5 L759.5,445.0 L751.8,413.6 L744.1,382.4 L736.4,351.3 L728.7,320.2 L721.0,289.1 L713.4,258.1 L705.7,226.9 L698.0,195.7 L690.2,164.3 L682.4,132.8 L674.6,101.0 L666.7,68.9 L658.7,36.5 L650.6,3.7 L642.3,-29.6 M926.2,750.1 L915.7,715.9 L905.4,682.3 L895.3,649.1 L885.2,616.3 L875.3,583.9 L865.5,551.8 L855.8,520.1 L846.1,488.6 L836.6,457.4 L827.1,426.3 L817.6,395.4 L808.2,364.7 L798.8,334.0 L789.4,303.4 L780.1,272.8 L770.7,242.2 L761.3,211.6 L751.9,180.8 L742.4,149.9 L732.9,118.8 L723.3,87.5 L713.7,55.9 L703.9,24.0 L694.0,-8.3 L684.0,-41.1 M1010.3,721.8 L998.0,688.3 L985.8,655.2 L973.8,622.6 L962.0,590.4 L950.3,558.6 L938.8,527.2 L927.3,496.0 L916.0,465.1 L904.7,434.4 L893.5,404.0 L882.4,373.6 L871.3,343.4 L860.2,313.3 L849.2,283.3 L838.1,253.3 L827.1,223.2 L816.0,193.1 L804.9,163.0 L793.8,132.6 L782.6,102.1 L771.3,71.4 L759.9,40.4 L748.4,9.0 L736.7,-22.7 L724.9,-54.9 M1092.7,689.0 L1078.5,656.1 L1064.6,623.8 L1050.8,591.9 L1037.3,560.4 L1023.8,529.3 L1010.6,498.5 L997.4,468.0 L984.4,437.8 L971.5,407.8 L958.6,378.0 L945.8,348.3 L933.1,318.8 L920.4,289.3 L907.7,260.0 L895.0,230.6 L882.4,201.2 L869.7,171.7 L856.9,142.2 L844.1,112.5 L831.3,82.7 L818.3,52.6 L805.2,22.3 L792.0,-8.3 L778.6,-39.4 L765.0,-70.9 M1173.2,651.6 L1157.2,619.6 L1141.5,588.1 L1126.0,557.0 L1110.7,526.3 L1095.6,496.0 L1080.7,466.0 L1065.9,436.2 L1051.2,406.8 L1036.6,377.5 L1022.2,348.5 L1007.8,319.6 L993.4,290.8 L979.1,262.1 L964.9,233.4 L950.6,204.8 L936.3,176.1 L922.0,147.4 L907.7,118.6 L893.3,89.7 L878.8,60.6 L864.2,31.3 L849.5,1.8 L834.6,-28.1 L819.5,-58.4 L804.2,-89.1" fill="none" stroke="#e3e3e3" stroke-width="0.5"/><defs>
<clipPath id="cWA"><path d="M160.1,141.7 L159.1,145.0 L158.7,149.4 L159.5,159.0 L159.2,165.7 L159.1,169.8 L157.0,176.6 L157.0,176.6 L163.1,179.5 L168.3,183.6 L167.9,191.0 L173.1,193.3 L181.8,193.6 L185.2,195.9 L191.1,195.8 L197.3,196.6 L206.7,196.0 L210.5,195.8 L232.9,201.0 L233.1,194.1 L242.2,153.4 L242.2,153.4 L233.4,151.4 L222.7,148.8 L212.1,146.1 L201.4,143.3 L190.8,140.4 L180.2,137.3 L183.3,138.2 L184.7,142.9 L182.8,147.4 L183.9,155.3 L180.6,161.1 L178.1,165.9 L172.9,168.1 L172.3,162.0 L176.8,156.6 L179.2,152.2 L176.8,150.7 L172.2,149.8 L164.4,145.2 L160.1,141.7 Z "/></clipPath>
<clipPath id="cOR"><path d="M157.0,176.6 L163.1,179.5 L168.3,183.6 L167.9,191.0 L173.1,193.3 L181.8,193.6 L185.2,195.9 L191.1,195.8 L197.3,196.6 L206.7,196.0 L210.5,195.8 L232.9,201.0 L232.9,201.0 L236.5,208.4 L232.9,212.6 L230.0,217.7 L224.5,223.9 L226.1,227.5 L224.8,233.0 L223.4,237.6 L217.7,263.4 L217.7,263.4 L216.6,263.2 L210.7,261.8 L204.8,260.5 L199.0,259.1 L193.1,257.6 L187.3,256.2 L181.4,254.7 L175.6,253.1 L169.8,251.6 L164.0,250.0 L158.2,248.3 L152.4,246.7 L146.6,245.0 L140.9,243.2 L135.1,241.5 L135.1,241.5 L134.9,233.9 L135.1,227.4 L139.9,220.3 L145.2,211.0 L148.9,202.1 L154.5,188.7 L157.0,176.6 Z "/></clipPath>
<clipPath id="cCA"><path d="M135.1,241.5 L140.9,243.2 L146.6,245.0 L152.4,246.7 L158.2,248.3 L164.0,250.0 L169.8,251.6 L175.6,253.1 L181.4,254.7 L183.3,255.1 L183.3,255.1 L171.3,301.6 L224.0,379.2 L224.0,379.2 L223.5,381.6 L225.6,388.5 L228.1,392.3 L221.9,396.8 L217.9,404.2 L219.5,411.1 L215.8,414.9 L183.3,411.2 L183.3,411.2 L182.2,408.1 L182.3,399.9 L176.9,392.1 L173.6,388.8 L170.8,388.3 L170.6,383.8 L163.7,380.8 L161.4,377.3 L156.7,373.7 L147.0,370.6 L145.5,368.5 L146.8,362.2 L145.1,355.9 L141.8,348.9 L136.8,337.0 L137.8,332.4 L140.2,329.7 L138.2,326.5 L134.7,317.2 L136.0,311.7 L131.6,302.2 L126.3,289.8 L127.2,284.2 L127.5,272.6 L125.4,264.6 L131.4,257.1 L134.0,245.3 L135.1,241.5 Z "/></clipPath>
<clipPath id="cNV"><path d="M183.3,255.1 L187.3,256.2 L193.1,257.6 L199.0,259.1 L204.8,260.5 L210.7,261.8 L216.6,263.2 L222.4,264.5 L228.3,265.8 L234.2,267.0 L240.1,268.2 L246.0,269.4 L252.0,270.5 L252.5,270.6 L252.5,270.6 L234.9,362.6 L229.1,362.3 L225.7,363.2 L224.9,371.2 L224.0,379.2 L224.0,379.2 L171.3,301.6 L183.3,255.1 Z "/></clipPath>
<clipPath id="cID"><path d="M242.2,153.4 L244.2,153.8 L252.5,155.6 L252.5,155.6 L249.1,171.5 L249.0,172.3 L251.0,181.0 L254.8,184.3 L257.1,189.7 L260.8,196.5 L259.4,206.6 L260.7,211.7 L264.6,212.7 L268.0,225.1 L273.2,234.5 L279.8,233.8 L288.8,235.5 L293.7,237.1 L287.6,276.7 L287.6,276.7 L281.6,275.8 L275.7,274.8 L269.7,273.8 L263.8,272.7 L257.9,271.6 L252.0,270.5 L246.0,269.4 L240.1,268.2 L234.2,267.0 L228.3,265.8 L222.4,264.5 L217.7,263.4 L217.7,263.4 L223.4,237.6 L224.8,233.0 L226.1,227.5 L224.5,223.9 L230.0,217.7 L232.9,212.6 L236.5,208.4 L232.9,201.0 L232.9,201.0 L233.1,194.1 L242.2,153.4 Z "/></clipPath>
<clipPath id="cMT"><path d="M252.5,155.6 L254.9,156.1 L265.7,158.4 L276.6,160.4 L287.4,162.4 L298.3,164.2 L309.1,165.9 L320.0,167.5 L331.0,169.0 L341.9,170.3 L352.8,171.5 L363.8,172.6 L374.8,173.6 L379.0,173.9 L379.0,173.9 L374.0,238.4 L374.0,238.4 L368.3,237.9 L362.7,237.4 L357.0,236.9 L351.4,236.3 L345.7,235.8 L340.1,235.2 L334.4,234.5 L328.8,233.8 L323.1,233.1 L317.5,232.4 L311.8,231.6 L306.2,230.8 L300.6,230.0 L295.0,229.1 L293.7,237.1 L288.8,235.5 L279.8,233.8 L273.2,234.5 L268.0,225.1 L264.6,212.7 L260.7,211.7 L259.4,206.6 L260.8,196.5 L257.1,189.7 L254.8,184.3 L251.0,181.0 L249.0,172.3 L249.1,171.5 L252.5,155.6 Z "/></clipPath>
<clipPath id="cWY"><path d="M285.1,292.5 L291.1,293.4 L297.0,294.3 L303.0,295.2 L309.0,296.0 L315.0,296.8 L321.0,297.5 L327.0,298.2 L333.0,298.9 L339.0,299.5 L345.0,300.2 L351.0,300.8 L357.0,301.3 L363.0,301.8 L369.0,302.3 L369.0,302.3 L374.0,238.4 L374.0,238.4 L368.3,237.9 L362.7,237.4 L357.0,236.9 L351.4,236.3 L345.7,235.8 L340.1,235.2 L334.4,234.5 L328.8,233.8 L323.1,233.1 L317.5,232.4 L311.8,231.6 L306.2,230.8 L300.6,230.0 L295.0,229.1 L293.1,236.9 L293.7,237.1 L285.1,292.5 Z "/></clipPath>
<clipPath id="cUT"><path d="M252.5,270.6 L257.9,271.6 L263.8,272.7 L269.7,273.8 L275.7,274.8 L281.6,275.8 L287.6,276.7 L287.6,276.7 L285.1,292.5 L285.1,292.5 L291.1,293.4 L297.0,294.3 L303.0,295.2 L309.0,296.0 L309.0,296.0 L300.5,359.4 L300.5,359.4 L295.5,358.7 L289.0,357.8 L282.6,356.9 L276.1,355.9 L269.6,354.8 L263.2,353.8 L256.8,352.7 L250.3,351.6 L243.9,350.4 L237.5,349.2 Z "/></clipPath>
<clipPath id="cCO"><path d="M309.0,296.0 L315.0,296.8 L321.0,297.5 L327.0,298.2 L333.0,298.9 L339.0,299.5 L345.0,300.2 L351.0,300.8 L357.0,301.3 L363.0,301.8 L369.0,302.3 L375.1,302.8 L381.1,303.2 L387.1,303.6 L393.1,303.9 L393.1,303.9 L389.6,367.8 L389.6,367.8 L386.5,367.6 L380.0,367.2 L373.5,366.8 L367.0,366.3 L360.5,365.8 L353.9,365.3 L347.4,364.7 L340.9,364.1 L334.4,363.4 L327.9,362.7 L321.4,362.0 L314.9,361.2 L308.5,360.4 L302.0,359.6 L300.5,359.4 L300.5,359.4 L309.0,296.0 Z "/></clipPath>
<clipPath id="cAZ"><path d="M237.5,349.2 L243.9,350.4 L250.3,351.6 L256.8,352.7 L263.2,353.8 L269.6,354.8 L276.1,355.9 L282.6,356.9 L289.0,357.8 L295.5,358.7 L300.5,359.4 L300.5,359.4 L288.5,449.6 L288.5,449.6 L261.0,445.6 L213.8,418.3 L215.8,414.9 L215.8,414.9 L219.5,411.1 L217.9,404.2 L221.9,396.8 L228.1,392.3 L225.6,388.5 L223.5,381.6 L224.0,379.2 L224.0,379.2 L224.9,371.2 L225.7,363.2 L229.1,362.3 L234.9,362.6 L237.5,349.2 Z "/></clipPath>
<clipPath id="cNM"><path d="M300.5,359.4 L302.0,359.6 L308.5,360.4 L314.9,361.2 L321.4,362.0 L327.9,362.7 L334.4,363.4 L340.9,364.1 L347.4,364.7 L353.9,365.3 L360.5,365.8 L367.0,366.3 L373.5,366.8 L377.5,367.1 L377.5,367.1 L371.4,447.1 L371.4,447.1 L364.4,446.6 L357.5,446.1 L350.6,445.5 L343.6,444.9 L336.7,444.3 L329.8,443.6 L322.9,442.9 L323.8,446.5 L323.8,446.5 L300.9,443.9 L300.0,451.1 L288.5,449.6 L288.5,449.6 L300.5,359.4 Z "/></clipPath>
<clipPath id="cTX"><path d="M376.9,375.0 L383.4,375.5 L389.8,375.8 L396.2,376.2 L402.6,376.5 L409.1,376.7 L415.5,377.0 L415.5,377.0 L414.5,408.0 L414.5,408.0 L419.7,410.8 L424.9,414.1 L432.8,415.9 L441.4,419.2 L452.1,421.7 L459.4,420.1 L464.8,421.6 L471.4,419.9 L477.4,419.4 L487.8,423.0 L493.7,424.2 L494.5,449.3 L494.5,449.3 L498.8,457.1 L501.8,465.1 L499.8,473.2 L500.1,481.3 L498.4,486.2 L498.4,486.2 L489.3,488.9 L485.2,493.1 L478.2,498.9 L468.4,504.8 L457.0,511.3 L450.5,517.8 L447.5,530.9 L450.4,542.3 L451.9,547.9 L451.9,547.9 L446.7,546.4 L436.5,543.9 L427.7,540.5 L418.4,530.4 L417.9,522.2 L406.8,510.5 L404.2,502.2 L398.3,491.4 L392.3,483.9 L383.8,484.2 L378.3,482.3 L372.3,487.6 L367.1,492.1 L364.7,495.7 L359.9,492.5 L355.9,489.7 L348.5,484.2 L346.4,475.9 L343.4,466.8 L335.4,458.7 L327.7,452.3 L323.8,446.5 L322.9,442.9 L322.9,442.9 L329.8,443.6 L336.7,444.3 L343.6,444.9 L350.6,445.5 L357.5,446.1 L364.4,446.6 L371.4,447.1 L371.4,447.1 L376.9,375.0 Z "/></clipPath>
<clipPath id="cOK"><path d="M377.5,367.1 L380.0,367.2 L386.5,367.6 L393.1,368.0 L399.6,368.3 L406.1,368.6 L412.6,368.8 L419.2,369.1 L425.7,369.2 L432.2,369.4 L438.8,369.5 L445.3,369.6 L451.8,369.6 L458.4,369.6 L464.9,369.5 L471.4,369.5 L478.0,369.3 L484.5,369.2 L484.5,369.2 L484.7,377.2 L487.7,394.7 L487.8,423.0 L487.8,423.0 L477.4,419.4 L471.4,419.9 L464.8,421.6 L459.4,420.1 L452.1,421.7 L441.4,419.2 L432.8,415.9 L424.9,414.1 L419.7,410.8 L414.5,408.0 L414.5,408.0 L415.5,377.0 L415.5,377.0 L409.1,376.7 L402.6,376.5 L396.2,376.2 L389.8,375.8 L383.4,375.5 L376.9,375.0 Z "/></clipPath>
<clipPath id="cKS"><path d="M392.3,319.9 L398.6,320.2 L404.9,320.5 L411.3,320.8 L417.6,321.0 L424.0,321.2 L430.3,321.3 L436.7,321.5 L443.0,321.5 L449.4,321.6 L455.7,321.6 L462.1,321.6 L468.5,321.5 L474.8,321.4 L474.8,321.4 L477.5,328.6 L483.8,335.6 L484.5,369.2 L484.5,369.2 L478.0,369.3 L471.4,369.5 L464.9,369.5 L458.4,369.6 L451.8,369.6 L445.3,369.6 L438.8,369.5 L432.2,369.4 L425.7,369.2 L419.2,369.1 L412.6,368.8 L406.1,368.6 L399.6,368.3 L393.1,368.0 L389.6,367.8 L389.6,367.8 L393.1,303.9 Z "/></clipPath>
<clipPath id="cNE"><path d="M371.5,270.4 L377.4,270.8 L383.3,271.2 L389.2,271.6 L395.1,271.9 L401.0,272.3 L407.0,272.5 L412.9,272.8 L418.8,273.0 L424.7,273.2 L430.6,273.3 L436.5,273.4 L436.5,273.4 L444.7,277.2 L451.7,276.8 L460.6,281.6 L464.2,289.5 L466.9,297.5 L467.7,305.5 L469.3,312.2 L474.8,321.4 L474.8,321.4 L468.5,321.5 L462.1,321.6 L455.7,321.6 L449.4,321.6 L443.0,321.5 L436.7,321.5 L430.3,321.3 L424.0,321.2 L417.6,321.0 L411.3,320.8 L404.9,320.5 L398.6,320.2 L392.3,319.9 L393.1,303.9 L393.1,303.9 L387.1,303.6 L381.1,303.2 L375.1,302.8 L369.0,302.3 L369.0,302.3 L371.5,270.4 Z "/></clipPath>
<clipPath id="cSD"><path d="M375.2,223.3 L381.2,223.7 L387.1,224.1 L393.1,224.5 L399.1,224.9 L405.1,225.2 L411.1,225.4 L417.1,225.7 L423.1,225.9 L429.1,226.0 L435.1,226.2 L441.0,226.3 L447.0,226.3 L453.0,226.3 L459.0,226.3 L459.0,226.3 L460.3,236.6 L460.5,265.5 L460.6,281.6 L460.6,281.6 L451.7,276.8 L444.7,277.2 L436.5,273.4 L436.5,273.4 L430.6,273.3 L424.7,273.2 L418.8,273.0 L412.9,272.8 L407.0,272.5 L401.0,272.3 L395.1,271.9 L389.2,271.6 L383.3,271.2 L377.4,270.8 L371.5,270.4 L371.5,270.4 L375.2,223.3 Z "/></clipPath>
<clipPath id="cND"><path d="M379.0,173.9 L385.8,174.4 L396.7,175.1 L407.7,175.7 L418.8,176.2 L429.8,176.5 L440.8,176.7 L451.6,176.8 L451.6,176.8 L452.5,185.0 L452.5,193.1 L455.7,201.2 L456.0,209.2 L456.3,215.7 L459.0,226.3 L459.0,226.3 L453.0,226.3 L447.0,226.3 L441.0,226.3 L435.1,226.2 L429.1,226.0 L423.1,225.9 L417.1,225.7 L411.1,225.4 L405.1,225.2 L399.1,224.9 L393.1,224.5 L387.1,224.1 L381.2,223.7 L375.2,223.3 L375.2,223.3 L379.0,173.9 Z "/></clipPath>
<clipPath id="cMN"><path d="M451.6,176.8 L451.8,176.8 L462.8,176.8 L473.8,176.6 L473.8,176.6 L473.7,170.5 L476.9,171.7 L478.7,179.0 L480.3,181.4 L487.9,181.9 L492.2,183.4 L501.3,182.2 L504.6,184.5 L508.0,185.9 L518.9,187.7 L524.4,189.7 L529.8,188.5 L534.2,189.8 L534.2,189.8 L526.9,194.4 L519.7,199.8 L513.5,205.9 L508.2,211.3 L507.2,212.7 L506.6,222.4 L500.2,229.2 L502.7,235.5 L502.0,244.4 L507.9,246.5 L517.6,255.6 L521.3,263.4 L521.3,263.4 L515.2,263.8 L509.2,264.1 L503.1,264.4 L497.0,264.7 L490.9,264.9 L484.8,265.1 L478.8,265.3 L472.7,265.4 L466.6,265.5 L460.5,265.5 L460.5,265.5 L460.3,236.6 L459.0,226.3 L456.3,215.7 L456.0,209.2 L455.7,201.2 L452.5,193.1 L452.5,185.0 L451.6,176.8 Z "/></clipPath>
<clipPath id="cIA"><path d="M460.5,265.5 L466.6,265.5 L472.7,265.4 L478.8,265.3 L484.8,265.1 L490.9,264.9 L497.0,264.7 L503.1,264.4 L509.2,264.1 L515.2,263.8 L521.3,263.4 L521.3,263.4 L522.6,271.4 L529.0,279.0 L535.5,286.5 L535.2,289.8 L527.2,295.9 L526.5,303.2 L522.1,309.9 L522.1,313.4 L522.1,313.4 L518.1,310.5 L512.0,310.8 L505.9,311.1 L499.8,311.4 L493.7,311.6 L487.6,311.8 L481.5,312.0 L475.4,312.1 L469.3,312.2 L469.3,312.2 L467.7,305.5 L466.9,297.5 L464.2,289.5 L460.6,281.6 L460.5,265.5 Z "/></clipPath>
<clipPath id="cMO"><path d="M469.3,312.2 L475.4,312.1 L481.5,312.0 L487.6,311.8 L493.7,311.6 L499.8,311.4 L505.9,311.1 L512.0,310.8 L518.1,310.5 L522.1,313.4 L522.1,313.4 L522.8,321.1 L527.6,328.8 L538.7,336.0 L537.9,342.5 L542.9,350.1 L549.1,356.1 L549.5,360.9 L554.3,365.3 L550.5,373.6 L550.3,378.5 L548.6,381.8 L548.6,381.8 L539.9,382.5 L542.2,374.3 L535.0,374.8 L527.8,375.3 L520.6,375.7 L513.5,376.1 L506.3,376.4 L499.1,376.7 L491.9,377.0 L484.7,377.2 L484.5,369.2 L484.5,369.2 L483.8,335.6 L477.5,328.6 L474.8,321.4 L474.8,321.4 L469.3,312.2 Z "/></clipPath>
<clipPath id="cAR"><path d="M484.7,377.2 L491.9,377.0 L499.1,376.7 L506.3,376.4 L513.5,376.1 L520.6,375.7 L527.8,375.3 L535.0,374.8 L542.2,374.3 L539.9,382.5 L548.6,381.8 L548.6,381.8 L544.7,390.1 L542.0,398.4 L538.6,406.7 L533.9,415.0 L532.4,423.2 L532.9,431.2 L532.9,431.2 L525.2,431.7 L517.4,432.1 L509.6,432.5 L501.8,432.8 L494.0,433.1 L494.0,433.1 L493.7,424.2 L487.8,423.0 L487.8,423.0 L487.7,394.7 L484.7,377.2 Z "/></clipPath>
<clipPath id="cLA"><path d="M494.0,433.1 L501.8,432.8 L509.6,432.5 L517.4,432.1 L525.2,431.7 L532.9,431.2 L532.9,431.2 L534.8,439.1 L531.9,447.4 L529.7,455.6 L528.8,463.7 L528.8,463.7 L537.4,463.2 L546.0,462.6 L554.6,461.9 L554.0,466.8 L558.2,474.6 L558.2,474.6 L563.2,476.6 L560.9,482.5 L566.4,488.6 L565.4,493.5 L561.9,494.6 L555.8,489.4 L550.3,491.5 L544.8,494.3 L536.1,490.8 L528.8,487.2 L520.3,486.9 L506.1,485.1 L498.4,486.2 L498.4,486.2 L500.1,481.3 L499.8,473.2 L501.8,465.1 L498.8,457.1 L494.5,449.3 L494.5,449.3 L494.0,433.1 Z "/></clipPath>
<clipPath id="cMS"><path d="M542.0,398.4 L548.7,397.9 L555.5,397.3 L562.2,396.7 L568.9,396.1 L569.5,396.0 L569.5,396.0 L571.0,397.5 L570.4,412.1 L570.8,444.3 L572.3,460.4 L573.9,470.0 L573.9,470.0 L564.1,470.9 L558.2,474.6 L558.2,474.6 L554.0,466.8 L554.6,461.9 L546.0,462.6 L537.4,463.2 L528.8,463.7 L528.8,463.7 L529.7,455.6 L531.9,447.4 L534.8,439.1 L532.9,431.2 L532.4,423.2 L533.9,415.0 L538.6,406.7 L542.0,398.4 Z "/></clipPath>
<clipPath id="cAL"><path d="M569.5,396.0 L575.7,395.4 L582.4,394.7 L589.1,394.0 L595.8,393.2 L602.5,392.4 L603.4,392.2 L603.4,392.2 L607.4,407.9 L613.1,425.8 L617.0,434.2 L619.7,455.0 L619.7,455.0 L612.6,455.9 L605.4,456.8 L598.3,457.7 L591.1,458.5 L584.0,459.2 L586.5,470.3 L586.5,470.3 L579.7,471.9 L578.3,464.7 L578.1,470.4 L573.9,470.0 L573.9,470.0 L572.3,460.4 L570.8,444.3 L570.4,412.1 L571.0,397.5 L569.5,396.0 Z "/></clipPath>
<clipPath id="cGA"><path d="M603.4,392.2 L609.2,391.5 L615.9,390.6 L622.6,389.7 L629.3,388.7 L635.9,387.7 L635.9,387.7 L636.7,392.4 L641.6,398.2 L645.0,402.5 L651.3,408.0 L655.7,410.5 L662.4,417.5 L666.8,423.3 L672.8,429.6 L672.8,429.6 L670.3,439.0 L669.1,452.4 L669.1,452.4 L665.5,452.2 L662.0,456.0 L661.8,459.3 L659.2,456.2 L641.2,458.5 L622.3,459.6 L619.7,455.0 L617.0,434.2 L613.1,425.8 L607.4,407.9 L603.4,392.2 Z "/></clipPath>
<clipPath id="cFL"><path d="M586.5,470.3 L584.0,459.2 L591.1,458.5 L598.3,457.7 L605.4,456.8 L612.6,455.9 L619.7,455.0 L619.7,455.0 L622.3,459.6 L641.2,458.5 L659.2,456.2 L661.8,459.3 L662.0,456.0 L665.5,452.2 L669.1,452.4 L669.1,452.4 L673.1,463.2 L681.5,478.1 L688.3,486.0 L694.3,500.6 L700.9,516.0 L701.6,527.5 L700.2,536.2 L692.6,540.0 L688.3,537.5 L678.8,529.9 L671.3,521.2 L667.1,513.6 L660.6,504.8 L657.4,498.7 L657.8,487.1 L651.0,480.8 L643.4,472.9 L632.8,468.7 L629.0,471.7 L618.3,476.7 L611.9,470.7 L600.2,467.2 L590.6,469.1 L586.5,470.3 Z "/></clipPath>
<clipPath id="cSC"><path d="M672.8,429.6 L666.8,423.3 L662.4,417.5 L655.7,410.5 L651.3,408.0 L645.0,402.5 L641.6,398.2 L636.7,392.4 L635.9,387.7 L635.9,387.7 L645.8,382.9 L662.1,380.9 L664.4,382.9 L666.3,385.9 L680.8,383.2 L698.5,395.2 L698.5,395.2 L695.0,398.3 L692.0,407.1 L684.8,415.9 L677.4,424.7 L672.8,429.6 Z "/></clipPath>
<clipPath id="cNC"><path d="M650.2,360.2 L656.9,359.1 L663.6,357.9 L670.2,356.6 L676.9,355.4 L683.6,354.0 L690.2,352.7 L696.9,351.3 L703.5,349.9 L710.2,348.4 L716.8,346.9 L723.4,345.3 L723.4,345.3 L729.2,354.7 L732.6,365.0 L726.8,370.0 L722.1,377.7 L709.6,383.8 L706.3,393.5 L698.5,395.2 L698.5,395.2 L680.8,383.2 L666.3,385.9 L664.4,382.9 L662.1,380.9 L645.8,382.9 L635.9,387.7 L635.9,387.7 L629.3,388.7 L622.6,389.7 L620.3,390.0 L620.3,390.0 L619.9,386.8 L622.5,381.6 L629.3,379.0 L640.0,371.6 L646.3,369.8 L648.2,365.4 L650.0,359.4 Z "/></clipPath>
<clipPath id="cTN"><path d="M550.5,373.6 L569.1,371.9 L568.8,369.1 L582.4,368.9 L624.7,363.5 L650.0,359.4 L650.0,359.4 L648.2,365.4 L646.3,369.8 L640.0,371.6 L629.3,379.0 L622.5,381.6 L619.9,386.8 L620.3,390.0 L620.3,390.0 L615.9,390.6 L609.2,391.5 L602.5,392.4 L595.8,393.2 L589.1,394.0 L582.4,394.7 L575.7,395.4 L568.9,396.1 L562.2,396.7 L555.5,397.3 L548.7,397.9 L542.0,398.4 L542.0,398.4 L544.7,390.1 L548.6,381.8 L550.3,378.5 L550.5,373.6 Z "/></clipPath>
<clipPath id="cKY"><path d="M550.5,373.6 L569.1,371.9 L568.8,369.1 L582.4,368.9 L624.7,363.5 L624.7,363.5 L635.5,355.3 L644.2,349.4 L643.9,345.1 L634.3,336.1 L633.8,332.6 L633.8,332.6 L628.4,330.5 L619.4,329.5 L608.8,325.3 L604.8,325.9 L605.7,330.6 L601.0,332.8 L594.3,340.1 L592.0,342.0 L582.6,348.0 L572.5,348.3 L567.3,351.2 L566.9,356.1 L562.4,362.9 L554.3,365.3 L554.3,365.3 L550.5,373.6 Z "/></clipPath>
<clipPath id="cVA"><path d="M723.4,345.3 L716.8,346.9 L710.2,348.4 L703.5,349.9 L696.9,351.3 L690.2,352.7 L683.6,354.0 L676.9,355.4 L670.2,356.6 L663.6,357.9 L656.9,359.1 L650.2,360.2 L650.0,359.4 L624.7,363.5 L624.7,363.5 L635.5,355.3 L644.2,349.4 L643.9,345.1 L643.9,345.1 L654.1,346.6 L662.4,342.6 L668.4,333.4 L672.1,326.1 L678.5,320.0 L683.3,312.5 L690.7,307.3 L690.7,307.3 L693.9,308.6 L698.4,311.7 L700.8,313.6 L699.7,320.4 L704.1,322.7 L713.6,324.6 L713.6,324.6 L713.6,330.4 L716.4,339.6 L720.5,340.3 L723.4,345.3 Z "/></clipPath>
<clipPath id="cWV"><path d="M653.1,293.3 L655.7,307.7 L655.7,307.7 L662.1,306.6 L668.3,305.4 L668.3,305.4 L669.9,313.5 L675.1,309.2 L684.0,303.3 L688.5,304.0 L690.7,307.3 L690.7,307.3 L683.3,312.5 L678.5,320.0 L672.1,326.1 L668.4,333.4 L662.4,342.6 L654.1,346.6 L643.9,345.1 L643.9,345.1 L634.3,336.1 L633.8,332.6 L633.8,332.6 L638.1,324.1 L645.9,314.7 L651.8,308.8 L652.5,302.2 L653.1,293.3 Z "/></clipPath>
<clipPath id="cOH"><path d="M615.4,281.9 L625.9,283.2 L636.8,283.0 L649.2,272.2 L653.1,293.3 L653.1,293.3 L652.5,302.2 L651.8,308.8 L645.9,314.7 L638.1,324.1 L633.8,332.6 L628.4,330.5 L619.4,329.5 L608.8,325.3 L604.8,325.9 L604.8,325.9 L599.1,283.7 L599.1,283.7 L615.4,281.9 Z "/></clipPath>
<clipPath id="cIN"><path d="M575.4,286.6 L599.1,283.7 L599.1,283.7 L604.8,325.9 L604.8,325.9 L605.7,330.6 L601.0,332.8 L594.3,340.1 L592.0,342.0 L582.6,348.0 L572.5,348.3 L567.3,351.2 L567.3,351.2 L568.6,347.9 L570.9,339.6 L571.8,333.1 L567.1,287.5 L567.1,287.5 L571.2,289.4 L575.4,286.6 Z "/></clipPath>
<clipPath id="cIL"><path d="M529.0,279.0 L535.8,278.5 L542.5,277.9 L549.2,277.4 L555.9,276.8 L562.6,276.1 L562.6,276.1 L567.1,287.5 L567.1,287.5 L571.8,333.1 L570.9,339.6 L568.6,347.9 L567.3,351.2 L567.3,351.2 L566.9,356.1 L562.4,362.9 L554.3,365.3 L554.3,365.3 L549.5,360.9 L549.1,356.1 L542.9,350.1 L537.9,342.5 L538.7,336.0 L527.6,328.8 L522.8,321.1 L522.1,313.4 L522.1,309.9 L526.5,303.2 L527.2,295.9 L535.2,289.8 L535.5,286.5 L529.0,279.0 Z "/></clipPath>
<clipPath id="cWI"><path d="M560.6,234.3 L557.0,243.6 L561.9,235.8 L567.1,230.4 L565.7,238.7 L563.3,248.6 L561.0,260.1 L560.6,268.2 L562.6,276.1 L562.6,276.1 L555.9,276.8 L549.2,277.4 L542.5,277.9 L535.8,278.5 L529.0,279.0 L529.0,279.0 L522.6,271.4 L521.3,263.4 L521.3,263.4 L517.6,255.6 L507.9,246.5 L502.0,244.4 L502.7,235.5 L500.2,229.2 L506.6,222.4 L507.2,212.7 L508.2,211.3 L509.4,212.6 L516.0,211.4 L521.9,207.8 L527.2,213.0 L527.2,213.0 L532.7,219.1 L546.9,221.1 L553.9,223.7 L559.1,230.5 L560.6,234.3 Z "/></clipPath>
<clipPath id="cMI"><path d="M591.4,207.9 L599.4,213.3 L603.6,214.3 L594.8,216.4 L591.3,218.2 L582.8,215.6 L574.2,219.1 L565.7,223.3 L560.6,234.3 L560.6,234.3 L559.1,230.5 L553.9,223.7 L546.9,221.1 L532.7,219.1 L527.2,213.0 L527.2,213.0 L532.8,213.4 L538.1,209.8 L543.3,206.1 L547.8,200.8 L554.5,196.4 L550.6,201.3 L548.2,205.6 L549.1,208.8 L560.4,210.9 L569.4,211.5 L576.2,207.5 L586.8,204.1 L591.4,207.9 Z M575.4,286.6 L580.4,275.7 L579.7,264.5 L576.2,255.3 L576.8,245.5 L577.9,235.6 L579.6,230.6 L584.4,236.5 L585.5,232.3 L584.9,227.5 L588.9,222.9 L591.8,219.6 L602.7,224.2 L608.0,229.1 L610.5,237.7 L608.9,246.1 L606.9,252.8 L611.3,246.5 L616.1,244.1 L621.3,250.6 L624.0,259.9 L623.2,266.6 L619.2,271.2 L618.2,276.3 L615.4,281.9 L615.4,281.9 L599.1,283.7 L575.4,286.6 Z "/></clipPath>
<clipPath id="cPA"><path d="M649.2,272.2 L657.2,265.9 L657.2,265.9 L658.0,270.2 L709.3,259.1 L713.7,262.1 L719.4,267.3 L719.4,267.3 L716.6,276.2 L720.1,282.8 L721.0,289.1 L717.0,293.4 L712.8,295.7 L712.8,295.7 L706.5,297.2 L700.2,298.7 L693.8,300.1 L687.5,301.4 L681.2,302.8 L674.8,304.1 L668.5,305.3 L662.1,306.6 L655.7,307.7 L649.2,272.2 Z "/></clipPath>
<clipPath id="cNY"><path d="M657.2,265.9 L664.2,260.8 L665.4,254.9 L665.4,254.9 L662.4,248.9 L662.4,248.9 L668.5,246.9 L678.8,244.7 L690.8,239.5 L692.6,231.7 L690.4,227.3 L694.8,221.3 L704.6,210.6 L704.6,210.6 L720.0,206.7 L720.0,206.7 L723.6,222.3 L726.3,228.3 L730.1,241.4 L730.5,252.9 L732.6,268.0 L730.1,270.5 L730.1,270.5 L719.4,267.3 L713.7,262.1 L709.3,259.1 L658.0,270.2 L657.2,265.9 Z "/></clipPath>
<clipPath id="cLI"><path d="M730.5,276.8 L737.6,275.0 L747.5,269.8 L753.5,262.8 L746.4,266.0 L737.3,269.3 L732.1,273.1 L730.5,276.8 Z "/></clipPath>
<clipPath id="cNJ"><path d="M719.4,267.3 L730.1,270.5 L730.1,270.5 L729.9,277.0 L731.0,278.9 L731.9,284.7 L730.4,297.3 L726.3,305.4 L717.7,301.5 L717.0,293.4 L717.0,293.4 L721.0,289.1 L720.1,282.8 L716.6,276.2 L719.4,267.3 Z "/></clipPath>
<clipPath id="cDE"><path d="M717.0,293.4 L712.8,295.7 L718.5,315.3 L726.4,313.3 L724.4,308.1 L717.7,301.5 Z "/></clipPath>
<clipPath id="cMD"><path d="M668.3,305.4 L668.5,305.3 L674.8,304.1 L681.2,302.8 L687.5,301.4 L693.8,300.1 L700.2,298.7 L706.5,297.2 L712.8,295.7 L718.5,315.3 L726.4,313.3 L726.4,313.3 L725.5,320.5 L724.8,322.8 L720.1,337.1 L719.0,334.0 L717.5,322.1 L710.6,314.7 L710.4,308.1 L711.0,299.8 L705.7,304.3 L707.1,310.5 L710.3,318.8 L713.6,324.6 L713.6,324.6 L704.1,322.7 L699.7,320.4 L700.8,313.6 L698.4,311.7 L693.9,308.6 L690.7,307.3 L690.7,307.3 L688.5,304.0 L684.0,303.3 L675.1,309.2 L669.9,313.5 L668.3,305.4 Z "/></clipPath>
<clipPath id="cVT"><path d="M720.0,206.7 L740.3,201.1 L740.3,201.1 L741.4,209.1 L738.1,218.4 L736.9,227.1 L739.5,239.1 L730.2,241.7 L730.1,241.4 L726.3,228.3 L723.6,222.3 L720.0,206.7 Z "/></clipPath>
<clipPath id="cNH"><path d="M740.3,201.1 L743.5,195.1 L743.5,195.1 L750.3,214.9 L754.0,225.5 L757.8,228.2 L757.8,228.2 L757.6,231.6 L757.6,231.6 L753.3,235.7 L739.5,239.1 L739.5,239.1 L736.9,227.1 L738.1,218.4 L741.4,209.1 L740.3,201.1 Z "/></clipPath>
<clipPath id="cME"><path d="M743.5,195.1 L748.2,180.2 L748.6,170.0 L753.2,155.9 L758.3,160.2 L764.6,154.8 L770.0,156.4 L777.6,179.3 L784.3,183.9 L790.4,187.8 L790.4,187.8 L787.9,192.9 L782.2,197.3 L780.5,199.6 L773.1,202.8 L766.8,209.9 L760.7,217.6 L757.8,228.2 L757.8,228.2 L754.0,225.5 L750.3,214.9 L743.5,195.1 Z "/></clipPath>
<clipPath id="cMA"><path d="M730.1,241.4 L730.5,252.9 L730.5,252.9 L750.1,248.0 L754.9,246.6 L759.3,249.8 L760.4,253.7 L760.4,253.7 L765.3,251.9 L773.0,249.0 L770.4,243.2 L768.2,242.1 L771.7,243.6 L772.3,247.3 L766.1,247.5 L763.3,244.5 L757.7,240.3 L761.0,234.6 L757.6,231.6 L757.6,231.6 L753.3,235.7 L739.5,239.1 L730.2,241.7 Z "/></clipPath>
<clipPath id="cCT"><path d="M730.5,252.9 L732.6,268.0 L732.6,268.0 L740.7,263.4 L752.7,259.2 L752.7,259.2 L750.1,248.0 L730.5,252.9 Z "/></clipPath>
<clipPath id="cRI"><path d="M750.1,248.0 L752.7,259.2 L752.7,259.2 L759.5,254.8 L760.4,253.7 L759.3,249.8 L754.9,246.6 Z "/></clipPath>
</defs>
<g clip-path="url(#cWA)"><path transform="scale(0.2)" d="M767,723l27,-2l35,2l18,1l27,-6l36,11l27,-8l35,3l22,0l26,-8l27,-2l23,6l24,6l30,1M778,783l16,-6l29,7l38,-16l21,0l34,0l24,4l29,0l16,-1l35,6l27,-9l34,10l19,-8l31,9l18,-11l34,5l26,11l24,-7M778,837l19,-3l39,-1l20,-7l28,7l28,-10l28,14l18,2l33,-2l24,-14l30,5l23,0l42,-4l15,9l35,3l21,-8l38,10M766,880l40,11l29,2l27,-12l21,7l20,1l29,-1l40,-9l21,10l21,0l40,3l23,0l26,-9l24,7l29,3l24,0l24,-13M824,942l35,7l15,-10l33,-2l22,3l29,4l42,-10l22,5l24,-4l29,9l34,3l18,-8l32,0l29,3M914,993l29,-4l15,12l33,-11l34,0l14,0l38,-1l30,14l23,-11l31,1l19,9M824,667l5,56M942,669l-5,52M989,669l5,55M1043,663l4,51M1102,661l-8,65M794,721l0,56M847,724l14,44M910,729l6,39M972,724l-3,48M1020,716l0,61M1070,720l11,58M1124,727l7,52M1179,714l4,59M823,784l13,49M882,768l2,65M940,772l0,65M985,771l6,66M1047,768l-2,60M1100,770l10,54M1149,768l11,68M1209,784l10,54M797,834l9,57M856,826l6,55M912,823l-9,66M958,839l14,40M1015,823l-1,66M1068,828l9,64M1125,833l2,57M1181,828l-1,65M835,893l-11,49M883,888l-9,51M932,888l-3,52M993,889l7,45M1054,892l-8,43M1103,883l6,64M1156,893l3,46M859,949l3,52M907,937l7,56M958,944l0,57M1022,939l3,51M1075,944l2,45M1127,939l3,53M943,989l2,67M991,990l10,64M1039,990l8,54M1107,1003l-1,53M1161,993l-5,54" fill="none" stroke="#000" stroke-width="3.0"/></g>
<g clip-path="url(#cOR)"><path transform="scale(0.2)" d="M742,914l39,5l27,-7l45,3l37,5M733,980l44,10l33,-1l41,-8l23,6l51,-15l19,8l48,11l19,-7l44,0l25,2l42,1l35,-3M661,1048l56,0l32,3l36,13l20,-15l38,2l32,-1l32,4l33,9l46,-2l26,-11l36,-3l51,14l26,-9l29,5l46,-14M630,1131l41,-13l30,4l40,-6l38,5l33,9l31,0l44,-8l37,7l20,-7l34,-2l34,4l54,-8l35,2l19,9l51,2M636,1198l35,2l44,-9l15,-8l42,14l41,-10l23,9l39,-6l40,6l44,-9l33,5l36,1l34,2l33,-9l39,17M785,1267l28,-11l29,-2l49,5l17,10l43,-7l26,10l54,-6l26,-1l41,4l23,-1M1011,1325l50,0l19,7M786,844l-5,75M852,852l1,63M808,912l2,77M890,920l-16,67M943,916l1,64M1032,914l-21,70M1096,918l-16,68M697,990l20,58M777,990l8,74M851,981l-8,70M925,972l-18,82M992,991l-6,70M1055,984l-7,63M1122,987l3,65M661,1048l10,70M749,1051l-8,65M805,1049l7,81M875,1050l12,72M940,1063l4,59M1012,1050l0,74M1099,1061l2,57M1154,1057l17,72M701,1122l14,69M779,1121l-7,76M843,1130l-7,66M924,1129l-9,67M978,1120l14,72M1066,1116l-4,79M1120,1127l14,76M671,1200l-8,53M730,1183l3,86M813,1187l0,69M875,1190l16,69M959,1187l-8,75M1028,1193l3,73M1095,1186l3,83M842,1254l0,70M908,1269l1,59M977,1272l15,50M1057,1265l4,60" fill="none" stroke="#000" stroke-width="3.0"/></g>
<g clip-path="url(#cCA)"><path transform="scale(0.2)" d="M634,1248l53,-5l37,3l37,3l26,-13l37,0l35,1M618,1307l33,8l25,-14l29,9l37,4l36,-8l37,2l39,6l45,0l21,-10l49,12M602,1377l50,7l32,9l24,-1l37,-20l50,10l20,2l44,2l22,-8l51,0M616,1441l31,20l29,-11l42,-5l31,12l44,-16l22,5l46,16l32,-1M603,1513l47,1l25,17l39,-13l44,0l26,-5l31,15l35,-2l30,-3l39,1M646,1601l34,-19l25,2l36,12l52,3l26,-1l43,-7l18,-6l47,-4M652,1661l27,-6l35,12l46,-5l21,8l29,1l42,-13l30,-1l33,15l46,-10l44,-9M681,1742l27,0l44,-19l33,1l27,6l45,9l40,-4l20,2l44,-3l39,-9l28,14l32,-18M687,1792l37,8l17,5l38,-13l33,4l51,-5l36,12l16,-4l41,3l32,-5l41,8l45,-10M707,1879l40,-12l49,10l29,-9l21,6l51,7l24,-19l45,17l18,-6l54,-4l19,-1l42,-6l39,4M819,1935l33,17l40,-17l28,15l29,0l42,-5l45,-3l23,-7l39,7l43,-5l27,-4M857,2005l43,9l17,-4l48,0l29,-5l28,11l53,-9l29,3l22,1M961,2093l39,-22l34,6l42,15l16,-21l50,3M678,1183l9,60M757,1171l4,78M829,1182l-5,54M634,1248l17,67M724,1246l-19,64M787,1236l-9,70M859,1237l-5,77M935,1248l-15,56M676,1301l8,92M742,1314l3,58M815,1308l0,76M899,1314l-18,64M652,1384l-5,77M708,1392l10,53M795,1382l-2,59M859,1386l2,76M676,1450l-1,81M749,1457l9,61M815,1446l0,82M893,1461l-13,62M650,1514l-4,87M714,1518l-9,66M784,1513l9,86M850,1526l12,65M680,1582l-1,73M741,1596l19,66M819,1598l-9,73M880,1585l2,72M968,1600l-7,62M714,1667l-6,75M781,1670l4,54M852,1658l5,81M915,1672l2,65M1005,1653l-5,72M752,1723l-11,82M812,1730l0,66M897,1735l2,68M961,1734l-5,68M1028,1739l1,66M724,1800l-17,79M779,1792l17,85M863,1791l-17,83M915,1799l6,63M988,1797l-4,76M1074,1795l-17,73M747,1867l-4,84M825,1868l-6,67M897,1881l-5,54M966,1879l-17,71M1038,1869l-2,73M1099,1862l-1,80M852,1952l5,53M920,1950l-3,60M991,1945l3,60M1059,1935l16,72M1141,1937l-15,74M900,2014l-9,59M965,2010l-4,83M1022,2016l12,61M1104,2010l-12,61" fill="none" stroke="#000" stroke-width="3.0"/></g>
<g clip-path="url(#cNV)"><path transform="scale(0.2)" d="M885,1329l38,13l60,-18l41,11l71,-24l62,28l54,-11l38,11M835,1446l45,2l45,-28l54,23l68,-18l34,2l71,2l58,10l48,1M831,1561l40,-33l55,7l49,6l77,16l34,-10l68,-1l45,9l74,-4M856,1641l89,13l41,15l36,-10l70,-19l40,13l72,-2l42,7M994,1762l59,7l33,10l64,-6l35,-9l68,13M1030,1887l72,-19l38,20M914,1214l9,128M1048,1216l-24,119M1135,1217l22,122M1262,1228l-13,111M885,1329l-5,119M983,1324l-4,119M1095,1311l-14,116M1211,1328l-1,111M925,1420l1,115M1047,1425l5,132M1152,1429l2,117M1258,1440l15,111M871,1528l-15,113M975,1541l11,128M1086,1547l6,93M1199,1555l5,96M945,1654l-14,106M1022,1659l31,110M1132,1653l18,120M1086,1779l16,89M1185,1764l31,115" fill="none" stroke="#000" stroke-width="3.0"/></g>
<g clip-path="url(#cID)"><path transform="scale(0.2)" d="M1179,794l14,-12l41,10l41,-6l22,4M1132,849l45,5l33,3l33,-8l18,4l27,0M1144,929l32,-2l22,-12l28,3l45,11l20,3l38,-7M1134,996l31,-13l29,2l48,-8l18,14l29,-5l50,7M1136,1046l38,-2l31,7l31,-4l21,11l36,1l47,2M1105,1121l36,3l37,-11l28,8l25,-3l27,-4l45,0l38,-4l13,7M1074,1186l40,6l26,-16l27,6l39,-8l27,6l32,12l31,-18l35,14l28,2l32,-8l31,6l38,-7l30,-2M1078,1247l33,-6l22,2l38,0l39,14l21,-13l36,-2l31,14l36,-16l39,17l16,-2l50,-5l26,-4l35,-5M1074,1304l38,0l21,5l40,1l23,11l38,-8l36,9l23,-5l29,-12l48,8l33,-8l29,-2l26,18l39,-12M1298,1383l38,-6l25,1l27,-2l42,5l34,6M1194,731l-1,51M1266,724l9,62M1179,794l-2,60M1234,792l9,57M1210,857l-12,58M1261,853l10,76M1176,927l-11,56M1226,918l16,59M1291,932l-2,54M1194,985l11,66M1260,991l-3,67M1174,1044l4,69M1236,1047l-5,71M1293,1059l10,55M1141,1124l-1,52M1206,1121l0,53M1258,1114l7,78M1341,1110l-10,78M1402,1115l-11,67M1461,1125l-1,56M1114,1192l-3,49M1167,1182l4,61M1233,1180l-2,64M1296,1174l2,82M1359,1190l14,67M1422,1188l17,62M1133,1243l0,66M1210,1257l-14,64M1267,1242l3,80M1334,1240l-12,65M1389,1255l14,50M1465,1246l-7,75M1112,1304l-5,65M1173,1310l-2,66M1234,1313l-6,69M1293,1317l5,66M1370,1313l-9,65M1432,1303l-2,78" fill="none" stroke="#000" stroke-width="3.0"/></g>
<g clip-path="url(#cMT)"><path transform="scale(0.2)" d="M1218,816l42,-11l25,0l41,-4l44,7l39,-9l52,16l46,2l32,1l24,-17M1211,887l36,8l35,-3l43,4l59,-12l34,12l49,1l17,0l47,-17l51,22l37,-9l25,-8l48,4l46,2l41,0l34,-7l34,1l60,2M1260,969l36,-10l28,11l44,-7l35,-5l44,25l40,-17l45,6l38,-5l41,-8l52,22l19,1l42,-19l59,6l33,-1l37,-6l36,13M1248,1058l56,-3l39,-16l27,5l32,7l63,5l24,-8l50,2l45,10l38,-21l42,6l30,1l49,18l31,-20l35,-5l45,10l36,6M1326,1136l46,-14l42,19l52,-18l40,14l41,3l34,-15l38,-4l30,12l42,-2l31,-1l61,8l26,-8l35,1l46,0M1287,728l-2,77M1386,728l-16,80M1464,731l-3,84M1530,738l9,80M1260,805l-13,90M1326,801l-1,95M1409,799l9,97M1507,817l-23,80M1563,801l19,101M1662,820l-18,65M1737,803l1,88M1811,810l2,74M1904,812l3,75M1282,892l14,67M1384,884l-16,79M1467,897l-20,86M1531,880l1,92M1619,893l-8,66M1692,889l-10,93M1779,891l4,78M1847,885l6,77M1324,970l19,69M1403,958l-1,93M1487,966l2,82M1570,967l14,93M1663,981l1,64M1724,963l19,101M1816,968l-7,71M1889,975l1,80M1304,1055l-19,68M1370,1044l2,78M1465,1056l1,67M1539,1050l8,90M1622,1039l-3,82M1694,1046l-3,85M1774,1044l9,94M1854,1049l-10,82M1414,1141l10,63M1506,1137l-10,64M1581,1125l3,87M1649,1133l6,71M1722,1130l5,81M1809,1130l1,93" fill="none" stroke="#000" stroke-width="3.0"/></g>
<g clip-path="url(#cWY)"><path transform="scale(0.2)" d="M1430,1187l56,17l44,2l42,1l40,3l26,-7l37,7l54,-19l32,7l67,-8l17,-4M1425,1288l37,2l56,-21l31,25l65,-18l37,1l34,14l55,2l41,-4l30,-11l57,3M1402,1377l34,-13l36,12l57,-1l44,-8l26,11l35,-14l64,10l37,-3l31,-8l51,5l36,2M1402,1453l27,-11l38,24l39,-1l50,-25l60,24l22,-11l49,-11l56,19l17,-10l50,7l57,3M1810,1533l39,-9M1464,1109l22,95M1565,1112l7,95M1640,1108l-2,95M1728,1108l1,83M1805,1125l23,65M1530,1206l-12,63M1612,1210l2,66M1675,1210l10,81M1761,1198l20,91M1845,1186l23,95M1462,1290l10,86M1549,1294l24,73M1651,1277l-17,87M1740,1293l-5,78M1811,1278l6,90M1436,1364l-7,78M1529,1375l-23,90M1599,1378l17,86M1698,1374l-11,68M1766,1363l-6,88M1853,1370l14,91M1467,1466l18,80M1556,1440l7,109M1638,1453l13,92M1743,1461l-15,72M1810,1458l0,75" fill="none" stroke="#000" stroke-width="3.0"/></g>
<g clip-path="url(#cUT)"><path transform="scale(0.2)" d="M1231,1402l44,-6l25,7l62,-12l29,9l33,-13l53,6M1180,1480l51,-12l46,13l44,-21l33,6l39,-2l35,2l44,18l40,-24M1197,1558l44,1l18,-10l58,-4l33,16l47,-18l28,-2l45,5l49,6l20,12M1190,1634l50,-1l25,4l54,-1l25,-8l42,-6l46,3l43,15l45,-4l40,4M1144,1701l53,22l37,-14l34,14l50,-8l43,-1l29,7l51,-5l20,1l41,-13l55,11M1357,1799l24,-16l43,-3l54,25l43,-17M1305,1312l-5,91M1397,1304l-6,96M1275,1396l2,85M1362,1391l-8,75M1424,1387l4,79M1231,1468l10,91M1321,1460l-4,85M1393,1464l4,79M1472,1484l-2,62M1561,1467l-22,97M1259,1549l6,88M1350,1561l-6,67M1425,1541l7,84M1519,1552l1,84M1240,1633l-6,76M1319,1636l-1,79M1386,1622l4,99M1475,1640l-14,77M1197,1723l-4,59M1268,1723l-6,69M1361,1714l-4,85M1441,1716l-17,64M1502,1704l19,84" fill="none" stroke="#000" stroke-width="3.0"/></g>
<g clip-path="url(#cCO)"><path transform="scale(0.2)" d="M1523,1501l35,-3l24,5l40,8l19,-14l32,9l41,2l25,-10l33,4l31,12l28,2l22,-3l40,-13l19,11l33,-6l33,-5M1491,1574l41,-1l32,-9l22,-6l31,16l26,1l36,-9l32,-5l36,6l13,3l47,-4l31,-3l18,-2l37,1l32,-4l27,3l23,14M1506,1631l15,1l38,-8l21,4l46,-7l28,8l16,1l44,1l29,-5l19,9l37,-2l34,-5l23,2l33,-8l39,13l24,-6l27,5M1492,1695l44,-16l28,8l31,-8l25,1l30,11l30,-13l33,6l23,-4l33,13l29,-15l34,5l22,10l26,-3l31,0l32,6l43,-19M1473,1749l31,2l24,0l23,-1l37,-12l38,0l23,13l33,-3l25,-6l25,-5l39,10l28,-9l27,13l28,-8l39,9l22,-14l35,8l24,-8M1474,1812l23,-5l32,-6l38,14l26,-5l31,-7l22,10l40,-9l21,11l41,-13l29,13l25,-17l33,13l25,-9l33,3l19,4l46,-12l27,4M1598,1453l-16,50M1646,1450l-5,47M1703,1447l11,61M1776,1444l-4,58M1834,1454l-3,62M1880,1451l13,49M1953,1440l-8,65M1558,1498l6,66M1622,1511l-5,63M1673,1506l6,60M1739,1498l8,69M1803,1514l4,52M1853,1513l3,48M1912,1511l13,47M1978,1500l-3,75M1532,1573l-11,59M1586,1558l-6,70M1643,1575l11,54M1711,1561l3,70M1760,1570l2,65M1838,1563l-5,65M1893,1562l-4,60M1952,1561l0,68M1559,1624l5,63M1626,1621l-6,59M1670,1630l10,48M1743,1626l-7,54M1799,1633l-1,45M1856,1630l-2,63M1928,1635l-17,55M1536,1679l-8,72M1595,1679l-7,59M1650,1691l-1,60M1713,1684l-6,58M1769,1693l2,54M1832,1683l-6,68M1880,1690l13,62M1943,1696l7,50M1504,1751l-7,56M1551,1750l16,65M1626,1738l-2,65M1682,1748l4,56M1732,1737l16,65M1799,1738l3,60M1854,1743l6,59M1915,1738l-3,71M1529,1801l1,60M1593,1810l-11,53M1646,1813l0,62M1707,1815l7,54M1777,1815l-11,57M1835,1811l-14,47M1893,1805l1,55M1958,1797l-12,77" fill="none" stroke="#000" stroke-width="3.0"/></g>
<g clip-path="url(#cAZ)"><path transform="scale(0.2)" d="M1054,1817l78,3l39,-1l58,-7l87,-10l45,29l74,-3l63,6M1072,1931l69,14l52,13l71,-18l59,-11l27,16l68,13l65,-3M1055,2057l87,-5l27,23l66,-3l82,2l40,-17l61,-4l87,-2M1179,2195l87,-19l53,3l32,4l84,-13l48,2M1115,1716l17,104M1265,1699l-36,113M1380,1718l-19,113M1480,1693l18,141M1171,1819l22,139M1316,1802l7,127M1435,1828l-17,130M1141,1945l1,107M1264,1940l-29,132M1350,1945l7,112M1483,1955l22,96M1169,2075l10,120M1317,2074l2,105M1418,2053l17,117M1266,2176l-26,136M1351,2183l31,116" fill="none" stroke="#000" stroke-width="3.0"/></g>
<g clip-path="url(#cNM)"><path transform="scale(0.2)" d="M1466,1857l35,-7l45,-5l48,7l30,-12l56,11l42,1l40,-4l31,-8l47,-7l33,6M1467,1924l23,-4l58,5l41,7l25,2l66,8l31,0l37,3l36,-3l63,-11l30,-9M1448,2009l54,11l37,-10l53,15l39,-16l44,6l30,-6l37,18l65,-7l44,0l34,-8M1425,2093l37,19l40,-3l37,-1l41,7l46,-12l35,-10l48,12l45,-9l30,6l52,-1l40,3M1418,2198l47,-3l37,-10l44,10l41,2l33,-3l46,-6l55,10l45,-11l22,-11l38,5l68,10M1507,1775l-6,75M1593,1769l1,83M1674,1751l6,100M1753,1774l9,74M1847,1773l-7,60M1546,1845l2,80M1624,1840l-10,94M1722,1852l-11,90M1793,1840l-9,102M1873,1839l4,83M1490,1920l12,100M1589,1932l3,93M1680,1942l-5,73M1748,1945l-6,82M1847,1931l4,89M1448,2009l14,103M1539,2010l0,98M1631,2009l-5,94M1705,2009l4,96M1807,2020l-23,82M1885,2012l-9,92M1502,2109l0,76M1580,2115l7,82M1661,2093l5,95M1754,2096l12,91M1836,2101l-10,80M1465,2195l-6,75M1546,2195l-2,68M1620,2194l-1,66M1721,2198l-5,69M1788,2176l14,108" fill="none" stroke="#000" stroke-width="3.0"/></g>
<g clip-path="url(#cTX)"><path transform="scale(0.2)" d="M1924,1857l19,8l26,-4M1865,1897l14,4l23,-2l19,5l16,-4l33,5l13,-1l16,-4l30,-1l21,-2l18,1l12,1l20,0M1861,1939l26,-3l19,6l17,-5l25,2l18,2l24,5l16,-10l23,-1l15,6l22,5l22,-11l10,7M1840,1978l26,-1l19,0l16,-3l20,9l22,-8l26,2l15,-2l24,9l17,-3l19,-1l19,1l23,3l17,-2M1844,2017l18,8l20,-3l19,-7l20,-1l19,11l18,-8l26,-2l19,7l23,1l19,2l24,-5l13,-2l26,0M1838,2056l22,2l22,-1l16,-1l25,2l17,-1l28,4l13,4l21,1l25,-10l17,5l14,2l22,-7l25,5l15,-4l20,2l25,-1M1846,2105l16,-4l20,-4l25,-1l11,2l30,-2l18,8l17,-3l23,-6l16,10l17,-3l24,-2l15,-4l20,4l25,6l25,-4l12,-2l24,2l26,-1l18,1l21,-5l17,-1l19,-2l20,11l20,-11l18,3l19,5l18,-2l18,6l24,-9l25,-2M1818,2140l32,1l16,4l12,-5l29,-5l17,8l22,-6l21,8l23,-8l9,1l31,-2l13,2l17,4l22,-5l20,-2l27,7l15,1l14,-8l28,4l18,-4l24,-1l10,5l30,-1l21,7l8,-11l26,8l16,1l25,-4l14,1l31,-3l11,0l26,-2l20,11l15,-12l19,2M1844,2181l21,-1l18,4l26,-9l11,6l28,3l18,-9l23,6l20,-1l11,-1l29,2l13,1l24,1l23,3l16,-4l20,5l13,-4l27,-6l15,-1l22,-1l20,2l28,-1l15,7l21,0l13,-1l22,-3l27,1l11,-3l30,9l14,-12l19,4l22,3l19,-5l20,9M1606,2219l15,-4l18,3l24,4l15,-4l25,-3l21,6l23,-3l12,7l23,-2l25,0l15,2l26,-1l18,-6l12,3l24,-4l25,0l17,0l22,-2l24,2l16,0l18,6l24,-6l15,-2l14,4l24,-2l24,6l24,-6l16,4l16,-5l29,4l12,5l18,-7l24,3l18,-1l17,-5l27,-1l20,11l24,-7l9,5l30,-4l18,6l13,-8l23,3l22,1l16,3M1619,2260l24,2l20,-6l26,5l15,2l19,0l27,-6l12,3l24,-2l14,1l27,0l20,7l21,-12l15,12l17,-12l25,1l24,2l12,1l16,7l23,0l29,1l8,-7l21,-5l20,8l31,4l13,-11l24,10l20,-11l17,9l24,-3l16,6l21,-1l17,-10l16,5l28,-3l16,3l20,-5l27,4l14,0l16,-5l27,6l19,5l14,-10l24,11l23,-6M1644,2300l25,-1l9,6l22,-9l29,1l15,1l15,-3l25,10l23,-5l18,2l13,3l20,-5l24,-2l15,3l21,-1l27,-2l18,-1l15,2l30,4l14,-7l26,11l17,-10l20,1l18,-2l23,3l14,0l20,4l28,3l12,-9l22,7l25,-6l14,1l21,-3l27,9l11,-6l20,4l29,-9l12,9l20,-6l27,3l13,3l29,-7l18,5l20,4l12,-9M1700,2342l19,3l24,-2l21,-5l21,2l13,3l22,2l19,-2l22,-3l19,-4l29,9l13,-7l17,1l27,6l24,-8l17,9l18,-9l17,-2l20,6l19,3l26,-5l20,6l16,-6l25,5l18,-9l20,3l15,-2l19,7l20,-3l29,2l18,-5l22,6l19,4l19,-12l16,3l24,7l12,0l27,0l12,-8l32,4l18,-6l11,5M1705,2375l24,9l17,-10l14,13l24,-1l20,1l13,-3l22,-10l23,2l17,2l21,-2l26,-1l23,11l14,0l22,-2l22,-7l19,8l20,0l11,-7l31,-2l11,0l20,3l25,6l21,-10l22,5l14,-1l28,6l16,-9l23,6l15,-4l15,4l19,3l28,0l18,0l20,-7l18,0l18,-2l24,1l17,-1l29,8l10,-9l31,1M1708,2424l20,-6l12,6l29,-10l9,0l19,8l26,1l18,-2l22,0l20,1l20,-6l26,-1l20,4l13,2l19,-4l25,-1l14,4l22,-1l24,-2l11,9l30,0l20,-11l15,5l18,-3l24,1l17,-4l27,1l17,-1l16,2l27,6l17,-7l14,10l23,-1l21,-7l26,6l12,3l22,-10l27,5l13,-1l25,-2l10,0l24,-3M1767,2461l14,-4l18,5l23,-3l17,2l29,-2M1967,2458l12,0l28,-2l22,2l15,0l21,-2l16,1l18,1l28,7l21,-5l12,5l19,-10l23,1l23,10l17,-11l28,0l17,6l22,-3l16,-1l22,5l22,0l9,-6l27,5l15,-1l27,5l13,-10l27,2M1987,2498l21,-2l22,2l20,1l14,-4l18,11l25,-9l23,4l15,-6l13,6l20,1l25,-7l24,12l22,-11l13,1l22,6l20,-5l14,7l19,-8l27,1l20,5l24,2M2009,2542l18,1l15,-4l18,1l29,5l14,1l20,-7l23,-4l20,10l20,-5l19,6l19,-2l23,-5l15,6l19,-4l28,2l19,2l18,-4M2027,2585l13,-7l19,5l26,3l23,-7l13,6l20,-1l18,1l26,-10l22,11l12,1l25,-10l20,5l15,-7l25,7M2069,2619l18,-4l14,2l23,3l15,5l23,0l16,-6l28,-3l19,1l16,6l16,-4l32,2M2065,2657l18,1l27,-3l16,11l23,-1l17,-10l20,6l20,-2l13,3l21,-4l18,8M2110,2701l14,-3l17,0l18,8l28,0l21,-10l16,7l18,-7l24,2M2202,2747l20,-13l19,11l24,-1l19,-6M1880,1860l-1,41M1924,1857l-3,47M1969,1861l1,44M1998,1864l1,36M2045,1856l5,41M2083,1854l-3,45M1902,1899l4,43M1937,1900l11,39M1983,1904l7,42M2029,1899l0,36M2068,1898l-2,48M1887,1936l-2,41M1923,1937l-2,46M1966,1941l3,36M2006,1936l2,48M2044,1941l0,39M2088,1935l-2,49M1866,1977l-4,48M1901,1974l0,41M1943,1975l-3,50M1984,1975l0,40M2025,1981l1,42M2063,1981l6,39M1882,2022l0,35M1921,2014l2,44M1958,2017l10,44M2003,2022l-1,44M2045,2025l-1,36M2082,2018l-2,38M2122,2017l-2,40M1860,2058l2,43M1898,2056l9,40M1940,2057l8,39M1981,2065l2,36M2027,2056l-5,49M2058,2063l5,37M2105,2061l-7,39M2140,2059l8,43M2184,2064l0,38M2224,2061l4,41M2258,2058l8,38M2301,2058l4,47M2338,2063l5,34M2380,2063l0,37M2428,2056l-6,41M1846,2105l4,36M1882,2097l-4,43M1918,2098l6,45M1966,2104l1,41M2006,2095l-7,43M2039,2102l4,36M2078,2096l4,41M2123,2106l6,36M2160,2100l-2,35M2210,2101l-6,34M2249,2097l-11,42M2285,2094l4,51M2325,2094l-2,48M2362,2102l2,37M2398,2106l11,31M2447,2095l-1,40M2479,2100l2,34M1866,2145l-1,35M1907,2135l2,40M1946,2137l2,47M1990,2137l-1,44M2030,2136l-10,43M2060,2142l2,40M2102,2135l7,51M2144,2143l1,44M2186,2139l-1,38M2228,2134l-6,41M2268,2138l2,38M2297,2134l9,49M2339,2143l2,36M2378,2140l1,37M2420,2137l3,37M2466,2146l-2,35M1598,2180l8,39M1641,2178l-2,40M1682,2184l-4,34M1724,2178l0,43M1766,2178l-7,47M1801,2176l6,47M1844,2181l4,43M1883,2184l-5,37M1920,2181l7,36M1966,2175l0,40M2009,2180l-3,37M2049,2181l-1,36M2086,2183l-9,36M2125,2182l0,41M2158,2183l7,38M2200,2176l10,44M2242,2177l-2,41M2285,2183l-3,37M2319,2182l7,32M2368,2180l2,38M2409,2186l0,33M2442,2178l-2,39M2483,2176l2,45M1621,2215l-2,45M1663,2222l0,34M1703,2215l1,48M1747,2218l3,39M1782,2223l4,35M1822,2225l5,34M1866,2218l2,36M1902,2217l-2,37M1944,2217l5,40M1990,2217l-13,48M2024,2223l5,43M2063,2215l-5,39M2101,2217l8,49M2149,2217l-3,48M2181,2216l2,47M2222,2225l1,41M2264,2221l-3,34M2299,2215l6,42M2346,2225l-5,30M2379,2223l3,36M2427,2225l-2,35M2463,2220l-5,35M1643,2262l1,38M1689,2261l-11,44M1723,2263l6,34M1762,2260l-3,35M1800,2259l7,41M1847,2266l-9,39M1883,2266l-1,32M1925,2255l-7,45M1961,2258l2,39M2000,2265l8,38M2037,2259l11,48M2078,2262l7,36M2122,2255l4,44M2166,2254l-6,49M2207,2260l-7,37M2244,2265l3,33M2277,2260l5,36M2321,2260l-1,39M2368,2259l1,35M2398,2254l3,43M2444,2265l-3,38M2482,2266l6,35M1669,2299l-9,41M1700,2296l0,46M1744,2298l-1,45M1784,2305l1,35M1825,2302l-5,43M1858,2300l3,40M1897,2301l12,44M1945,2298l-6,41M1978,2299l12,38M2022,2296l3,41M2065,2297l-3,44M2103,2296l4,43M2140,2299l3,40M2188,2306l-2,29M2222,2304l-1,32M2261,2299l-1,41M2309,2305l-2,32M2340,2303l8,44M2381,2303l2,35M2428,2300l-9,45M2470,2296l-12,41M2508,2305l0,30M1719,2345l10,39M1764,2338l-4,49M1798,2343l6,44M1839,2343l0,31M1880,2336l-1,42M1922,2338l4,37M1966,2345l-3,41M2007,2346l0,31M2042,2335l4,50M2081,2344l7,32M2127,2345l-8,34M2168,2344l-3,31M2206,2338l-5,41M2240,2343l5,33M2289,2342l-6,36M2329,2343l-12,42M2367,2335l-4,50M2407,2345l-6,33M2446,2345l-3,32M2490,2341l-1,43M2519,2340l11,36M1746,2374l-6,50M1784,2386l-6,28M1817,2384l6,39M1862,2376l1,45M1900,2376l3,40M1949,2386l0,33M1985,2384l-4,33M2026,2385l-6,35M2057,2378l9,39M2099,2376l8,50M2144,2385l-2,35M2187,2380l-3,38M2229,2385l-1,30M2268,2382l-7,34M2298,2382l7,33M2345,2385l-3,39M2383,2378l6,45M2419,2376l4,40M2460,2376l3,44M2499,2375l-1,43M1728,2418l-10,48M1769,2414l-2,47M1797,2422l2,40M1841,2421l-2,40M1883,2422l-5,33M1929,2415l-8,48M1962,2421l5,37M2006,2416l1,40M2042,2419l2,39M2077,2426l4,31M2127,2415l0,50M2160,2417l0,48M2201,2414l1,42M2245,2414l-3,41M2288,2422l-1,39M2319,2425l6,32M2363,2417l6,45M2401,2426l4,35M2450,2421l-3,44M2488,2418l-1,39M1781,2457l6,43M1822,2459l3,48M1979,2458l8,40M2029,2458l1,40M2065,2456l-1,39M2099,2458l8,39M2148,2460l-3,35M2179,2455l-1,47M2225,2466l2,41M2270,2455l-8,42M2309,2458l-5,40M2347,2462l-10,35M2378,2456l6,47M2420,2460l0,45M2460,2455l1,46M2008,2496l1,46M2050,2499l-8,40M2082,2506l7,39M2130,2501l-7,38M2158,2501l8,44M2203,2495l2,51M2249,2496l-2,43M2284,2503l-3,38M2318,2505l10,40M2364,2498l-5,48M2027,2543l0,42M2060,2540l-1,43M2103,2546l5,33M2146,2535l-5,49M2186,2540l-1,35M2224,2544l-5,43M2262,2545l2,37M2309,2543l-5,39M2040,2578l1,38M2085,2586l2,29M2121,2585l3,35M2159,2585l3,40M2207,2586l-1,30M2244,2577l-3,46M2279,2575l10,46M2101,2617l9,38M2139,2625l10,40M2178,2619l8,42M2225,2617l-6,45M2257,2619l1,47M2083,2658l-2,40M2126,2666l-2,32M2166,2655l-7,51M2206,2659l2,37M2240,2658l2,38M2141,2698l4,39M2187,2706l-6,32M2224,2703l-2,31M2266,2698l-1,46M2241,2745l2,35" fill="none" stroke="#000" stroke-width="3.0"/></g>
<g clip-path="url(#cOK)"><path transform="scale(0.2)" d="M1907,1817l16,7l23,-5M1869,1854l25,-4l14,1l22,0l13,8l20,-2l22,4l22,-3l11,-1l16,-4l18,0l24,9l21,-1l8,-6l22,5l17,-1l27,-5l9,-1l17,6l27,3l20,0l16,-7l11,-4l21,3l20,-3l23,11l16,-8l10,6l23,-7l22,9l16,-6l19,4M1879,1896l17,-8l15,0l15,3l17,6M1961,1897l24,-2l20,-1l19,-7l19,11l11,-3l18,-1l17,3l22,-7l23,4l16,1l15,1l15,-8l26,7l19,2l17,-3l12,-5l20,9l20,-10l23,2l10,7l20,-3l14,-3l18,5l21,-2l25,-6l16,2M2054,1933l26,-2l18,-4l9,0l25,-2l17,3l15,0l23,-1l17,7l13,-2l22,-3l20,6l18,-4l17,3l20,-1l12,-2l17,0l18,1l25,0l16,2l23,-7l20,1l8,-2M2057,1969l17,1l20,0l18,-6l18,2l20,5l11,-5l26,3l17,-3l19,4l14,-9l15,-1l28,1l17,4l20,-1l12,7l24,1l18,-11l14,9l23,-4l17,4l10,-6l18,5M2050,2008l26,-4l12,-5l23,4l24,-2l7,-2l27,1l15,-1l24,4l17,-6l9,6l25,-2l20,-5l12,4l23,8l13,-5l18,-6l19,6l18,2l26,-7l10,3l21,-2l18,4M2034,2041l26,-8l15,5l17,-2l14,3l28,-4l14,-1l22,10l9,-1l25,-9l15,9l20,-9l19,3l21,7l19,0l10,-6l26,3l10,-4l17,6l21,-6l18,-2l24,0l16,5l16,-1M2106,2077l22,-6l18,8l15,-2l24,-5l17,6l14,-5l26,2l14,1l14,-3l28,1l13,5l14,0l21,0l18,-3l15,4l22,-9l16,10l19,-11l24,10M2187,2117l10,-9l27,5l9,4l23,0l20,-5l21,-4l9,4l26,-3l14,1l15,0l22,-2l22,-2l11,9l27,-9l9,7M1907,1817l1,34M1946,1819l-3,40M1981,1824l4,37M2014,1816l4,41M2054,1825l-2,28M2090,1816l7,45M2126,1824l1,36M2168,1822l3,32M2205,1818l-8,41M2237,1821l7,41M2272,1823l-1,28M2311,1814l1,37M2345,1816l6,38M2387,1815l-3,38M2425,1814l-3,42M1894,1850l2,38M1930,1851l-4,40M1963,1857l-2,40M2007,1858l-2,36M2034,1853l9,45M2076,1862l-4,32M2105,1855l6,35M2144,1859l6,36M2180,1853l0,35M2224,1862l1,35M2260,1855l-6,34M2292,1854l2,34M2335,1862l-8,35M2361,1860l0,31M2406,1862l-6,32M1911,1888l2,41M1985,1895l4,33M2024,1887l1,45M2054,1895l0,38M2089,1897l9,30M2134,1894l-2,31M2165,1896l-1,32M2206,1895l-2,39M2242,1894l-3,35M2274,1898l3,33M2317,1890l-3,43M2347,1894l-4,37M2379,1896l7,36M2425,1888l0,39M2080,1931l-6,39M2107,1927l5,37M2149,1928l1,43M2187,1927l0,42M2217,1932l6,38M2259,1935l-7,25M2294,1934l3,31M2326,1931l3,40M2361,1932l10,29M2402,1934l6,32M2445,1928l-10,36M2094,1970l-6,29M2130,1966l5,35M2161,1966l8,34M2204,1966l4,37M2237,1961l-3,42M2280,1961l-1,35M2317,1964l-3,44M2353,1972l-8,25M2385,1970l-3,35M2425,1970l-7,31M2076,2004l-1,34M2111,2003l-5,36M2142,1999l6,35M2184,1999l-5,44M2225,1997l-6,46M2259,2001l-1,36M2291,2000l7,44M2327,2003l7,38M2364,2003l-3,40M2408,1998l-8,37M2439,1999l1,41M2060,2033l-8,38M2092,2036l1,34M2134,2035l-6,36M2170,2044l-9,33M2204,2034l-2,44M2239,2034l3,41M2279,2044l-9,29M2308,2038l3,41M2344,2037l2,42M2382,2037l-3,43M2424,2035l-7,46M2146,2079l2,32M2185,2072l2,45M2216,2073l8,40M2256,2076l0,41M2298,2074l-1,34M2325,2079l7,30M2364,2076l-3,34M2401,2071l4,35M2436,2070l7,36M2197,2108l5,36M2233,2117l1,34M2276,2112l-2,31M2306,2112l4,34M2346,2110l6,34M2383,2108l-1,35M2416,2115l7,28M2452,2113l3,38" fill="none" stroke="#000" stroke-width="3.0"/></g>
<g clip-path="url(#cKS)"><path transform="scale(0.2)" d="M1946,1543l19,-1l15,-9M1934,1577l18,-4l18,-5l8,4M1930,1602l17,1l18,-1l18,4l15,2l13,0l25,-5l10,1l25,-2l10,5l18,-2l20,-2l21,0l11,8l18,-5l16,5l14,-7l19,-1l24,5l17,2l10,-8l24,8l7,-3l25,3l9,1l21,-6l17,6l18,-9M1927,1640l24,3l10,-7l16,4l19,0l25,-4l12,5l13,-4l23,4l14,0l19,2l22,2l13,-1l16,-4l22,-3l11,0l17,6l21,0l18,0l15,0l13,-2l17,3l13,-2l19,-1l23,2l14,-2l21,2l15,1l16,-5M1933,1674l15,4l16,1l21,0l10,-2l26,1l17,0l16,-3l13,-4l17,-2l16,8l18,0l14,-1l23,-1l18,1l13,0l21,-2l11,2l23,-5l18,3l14,1l20,0l15,-4l16,-1l15,5l12,-5l18,7l25,-7l10,7l22,-5l12,6M1934,1705l19,-1l14,6l10,1l25,-5l14,1l21,3l9,-4l19,1l24,2l16,-3l18,-2l12,8l19,-8l20,9l14,-1l11,-5l17,5l16,-9l18,5l16,-2l21,0l19,6l20,-9l12,9l15,-9l25,7l17,-5l17,3l7,4l23,-1M1933,1737l16,3l13,2l25,2l13,-8l11,10l21,0l21,1l11,-8l23,0l11,6l19,-3l16,-3l15,-2l25,2l11,5l22,0l18,-4l11,6l14,-4l23,0l13,-1l24,0l10,-1l23,5l9,-4l20,-2l16,2l24,5l14,-3l18,-6M1927,1775l19,0l23,-4l14,10l19,-1l14,-9l14,5l25,-2l10,-1l16,0l22,-2l11,7l24,-4l17,4l13,1l18,-2l17,-3l13,-2l17,5l20,1l13,1l19,-7l19,-1l20,9l15,-3l14,-6l23,7l17,-7l16,6l17,-1l13,2M1935,1805l14,9l13,1l22,0l17,-2l16,-5l16,7l20,-4l17,1l15,0l12,-5l18,7l25,-3l11,-4l20,1l11,-2l22,3l17,6l19,-6l19,0l12,4l15,-8l16,1l18,6l19,-6l22,5l12,2l19,-3l18,-5l9,2l19,3M1932,1849l11,-4l18,1l24,-1l16,-3l11,3l17,-7l25,5l13,4l15,-6l22,4l16,1l21,-6l7,8l24,-7l14,8l14,-7l20,3l12,4l18,-2l17,-3l23,-4l17,5l12,0l18,-6l22,4l13,5l17,-4l23,-4l13,5l17,-2M1960,1500l5,42M1946,1543l6,30M1970,1568l-5,34M1995,1576l3,32M2031,1567l5,36M2069,1567l2,35M2097,1575l2,30M2137,1574l3,29M2170,1570l-1,36M2201,1568l-2,36M2243,1571l-1,37M2272,1575l-3,27M2304,1573l-4,34M2342,1573l-8,38M2370,1571l2,40M1947,1603l4,40M1983,1606l-6,34M2011,1608l10,28M2046,1604l0,33M2081,1607l2,34M2119,1603l5,42M2151,1611l2,29M2185,1611l1,26M2218,1603l6,40M2259,1610l-2,33M2293,1610l-6,34M2325,1610l-6,31M2355,1605l1,36M2390,1602l2,42M1961,1636l3,43M1996,1640l-1,37M2033,1641l5,37M2069,1641l-2,30M2102,1643l-2,34M2137,1644l-5,32M2175,1637l-2,39M2203,1643l4,31M2242,1643l-1,28M2270,1641l3,34M2300,1642l8,29M2342,1643l-3,32M2377,1643l-8,34M2408,1639l-4,38M1948,1678l5,26M1985,1679l-8,32M2021,1678l-5,29M2054,1675l-8,31M2084,1669l5,40M2118,1677l5,27M2155,1675l-1,29M2186,1676l2,36M2218,1676l-2,36M2259,1674l-9,34M2293,1675l-6,31M2324,1670l2,33M2351,1670l2,33M2394,1670l1,35M2426,1672l-7,40M1967,1710l-5,32M2002,1706l-2,30M2037,1710l-5,36M2065,1707l-1,32M2105,1706l-7,39M2135,1712l-2,27M2174,1713l-1,26M2199,1707l7,37M2232,1703l3,43M2266,1706l6,36M2306,1712l3,29M2338,1712l4,33M2378,1710l-7,29M2412,1708l-1,38M1949,1740l-3,35M1987,1744l-4,37M2011,1746l5,25M2053,1747l2,27M2087,1739l-6,34M2117,1742l-3,36M2148,1737l7,41M2184,1744l2,33M2224,1740l-8,32M2249,1742l4,36M2285,1741l0,31M2319,1740l5,40M2351,1741l2,30M2387,1741l6,30M2425,1743l1,33M1927,1775l8,30M1969,1771l-7,44M2002,1780l-1,33M2030,1776l3,39M2065,1773l5,39M2103,1771l-6,36M2138,1774l2,37M2168,1779l3,29M2203,1774l1,35M2233,1777l7,32M2266,1779l5,34M2304,1771l-2,35M2339,1777l0,29M2376,1778l-3,35M2409,1777l1,28M1949,1814l-6,31M1984,1815l1,30M2017,1808l-5,37M2053,1811l1,32M2085,1812l-3,29M2115,1814l5,32M2151,1807l-3,41M2182,1806l4,43M2221,1815l-1,30M2259,1809l-9,38M2286,1805l4,35M2320,1812l-1,33M2361,1811l-2,32M2392,1810l-3,34M2419,1807l6,38M1961,1846l3,27M2001,1842l0,32M2029,1838l2,38M2067,1847l-3,36M2104,1845l-7,34M2141,1840l-9,42M2172,1841l-4,36M2200,1842l6,38M2232,1849l7,25M2267,1844l2,30M2307,1845l0,30M2337,1839l6,36M2372,1848l3,28M2412,1840l-3,40" fill="none" stroke="#000" stroke-width="3.0"/></g>
<g clip-path="url(#cNE)"><path transform="scale(0.2)" d="M1821,1374l20,-1l19,-5l11,6l30,-4l10,-5l31,4l9,4l30,-2l18,2l12,-10l29,12l18,-1l14,-5l30,5l16,-9l19,2l26,-2l10,6l20,3l29,0l11,-11l28,9l12,-2M1817,1411l22,2l13,-8l30,5l19,-6l12,10l21,-11l22,12l25,-5l16,2l18,-1l26,-2l12,-1l27,-3l20,1l12,-2l26,2l20,5l25,-2l12,1l22,-1l26,6l9,-2l30,-7l13,4l20,5l28,-9M1813,1451l27,-1l19,2l15,-5l23,7l17,-4l27,-3l14,4l24,0l23,3l12,-3l29,-2l14,-2l22,1l15,-2l26,4l20,3l18,-3l24,-5l15,-2l14,11l31,-8l16,5l21,4l19,-1l13,-4l23,4l18,-6M1822,1491l17,-8l22,10l14,-9l16,11l25,-12l17,9l22,-8l19,5l19,-2l26,7l19,-8l23,6l22,2l11,-11l29,9l18,-9l17,9l25,1l14,-9l14,10l21,-6l23,-2l25,9l18,-8l21,-2l12,2l23,7M1875,1533l25,-10l20,10M1934,1535l29,-7l8,0l23,7l22,-7l25,-1l17,6l21,-5l24,3l12,-5l18,5l23,-4l22,5l14,-3l19,5l29,-5l23,4l20,-5l13,3l21,-5l24,4l22,1M1937,1563l24,6l14,-1l24,6l20,-3l18,1l22,-5l18,7l22,-1l18,-9l25,7l10,3l30,-3l18,4l11,-9l29,4l15,-1l22,-3l20,6l23,-4l17,3l22,1l15,0M1939,1609l15,-4l26,9l16,-9l25,9l13,-2l21,-2l24,1l13,0l31,-5l15,3l25,-6l10,0l27,11l13,-1l19,-1l24,-8l21,6l21,2l19,-4l16,-1l26,5l15,-9M1851,1331l9,37M1902,1334l-1,36M1933,1325l9,44M1981,1329l0,42M2023,1326l-12,37M2058,1330l0,44M2098,1332l4,42M2136,1331l1,36M2183,1330l-10,41M2219,1330l3,44M2263,1332l-2,40M1841,1373l-2,40M1871,1374l11,36M1911,1365l2,49M1951,1373l5,42M1999,1373l-2,39M2040,1375l1,34M2072,1369l8,36M2118,1365l-6,39M2163,1365l-5,46M2193,1374l2,36M2233,1363l10,52M2273,1370l9,36M2316,1374l-1,41M1852,1405l7,47M1901,1404l-4,50M1934,1403l7,44M1981,1410l-2,41M2015,1411l-1,40M2053,1408l4,39M2100,1406l-6,40M2138,1406l2,47M2183,1409l-1,36M2217,1409l-6,45M2252,1413l6,38M2295,1410l3,44M2343,1406l-9,48M1840,1450l-1,33M1874,1447l1,37M1914,1450l2,33M1955,1451l0,33M2002,1454l-9,33M2043,1449l-5,37M2079,1448l4,46M2120,1450l3,42M2158,1450l0,42M2197,1443l0,41M2242,1446l-10,42M2279,1455l1,40M2311,1450l8,35M1861,1493l-8,37M1891,1495l9,28M1933,1492l1,43M1974,1489l-3,39M2019,1494l-3,34M2061,1492l-3,41M2094,1483l9,48M2141,1483l-8,48M2183,1493l-5,39M2211,1494l0,40M2255,1486l8,47M2298,1487l-2,44M2331,1487l10,43M1963,1528l-2,41M1994,1535l5,39M2041,1527l-4,45M2079,1528l-2,46M2115,1526l2,38M2156,1527l-4,47M2192,1529l8,46M2240,1529l0,41M2283,1528l-6,38M2317,1526l3,42M2363,1531l-4,41M1975,1568l5,46M2019,1571l2,43M2059,1567l-4,43M2099,1573l-7,38M2142,1571l-4,38M2182,1571l-9,32M2211,1566l2,47M2255,1569l1,35M2297,1572l1,40M2337,1571l-4,36M2374,1572l0,31" fill="none" stroke="#000" stroke-width="3.0"/></g>
<g clip-path="url(#cSD)"><path transform="scale(0.2)" d="M1856,1136l25,-2l25,7l20,2l25,-3l17,-3l23,7l34,-1l15,-4l27,4l30,3l13,-4l31,-2l18,3l29,-2l27,-6l24,12l23,-11l19,9l25,-5M1848,1189l33,5l13,-6l38,-3l12,8l32,1l19,-5l27,6l26,-3l16,3l32,-11l23,12l21,-3l24,3l20,-9l33,3l15,5l22,-4l28,-5l29,0M1836,1243l19,-4l21,-9l29,3l21,4l28,-5l24,4l21,3l28,-9l19,3l29,9l19,-13l17,1l30,11l26,-2l18,-3l20,6l26,-10l31,-3l15,12l21,-3M1836,1281l25,4l22,-8l23,4l22,4l22,4l25,-8l25,-4l17,1l22,3l31,5l23,1l29,0l15,2l24,-2l19,-1l23,-1l25,1l31,1l29,4l11,-12M1825,1333l31,-7l18,1l20,11l37,-8l12,2l29,-5l28,4l24,-7l27,9l18,5l17,-4l23,0l32,-2l22,-3l19,6l23,-5l26,-1l23,3l25,7l24,-4M1975,1383l26,-11l15,1l35,2l19,-1l19,8l22,-9l22,0l22,6l27,-7l25,11l27,-7l22,0l18,4l26,6M1876,1091l5,43M1931,1090l-5,53M1977,1092l-9,45M2016,1091l9,52M2062,1089l5,54M2117,1089l-7,53M2158,1091l1,52M2215,1094l0,41M2258,1099l4,37M2306,1092l0,48M1906,1141l-12,47M1951,1140l-7,53M1991,1144l4,45M2040,1139l8,53M2097,1146l-1,38M2141,1140l-1,53M2188,1141l-4,46M2239,1147l-7,48M2281,1145l1,41M1881,1194l-5,36M1932,1185l-6,52M1976,1194l2,42M2022,1195l5,35M2064,1195l11,47M2119,1196l-8,34M2164,1196l3,43M2217,1190l-12,52M2254,1191l8,38M2311,1186l-13,52M1855,1239l6,46M1905,1233l1,48M1954,1232l-4,57M1999,1239l1,38M2046,1233l-7,48M2094,1229l-1,58M2141,1241l-4,48M2185,1236l-5,50M2231,1232l-3,54M2277,1241l11,50M1883,1277l-9,50M1928,1285l3,45M1975,1281l-3,46M2017,1278l7,46M2070,1286l-1,52M2122,1287l-13,47M2161,1287l2,42M2203,1285l2,45M2259,1287l-5,45M2299,1279l4,56M1856,1326l-3,47M1894,1338l7,40M1943,1332l12,48M2000,1331l1,41M2051,1333l0,42M2086,1334l3,48M2141,1332l-8,41M2182,1335l0,37M2231,1329l3,47M2279,1339l-5,41M2016,1373l-3,51M2070,1374l-2,55M2111,1373l11,52M2155,1379l13,54M2207,1383l3,36M2256,1376l-3,55M2300,1386l6,43" fill="none" stroke="#000" stroke-width="3.0"/></g>
<g clip-path="url(#cND)"><path transform="scale(0.2)" d="M1862,904l32,-7l21,0l14,-1l40,8l18,4l26,-3l30,-8l20,7l19,-5l28,7l30,-5l20,-4l21,1l28,-4l21,5l25,-1l25,2M1858,958l23,-2l34,-4l23,-3l28,-3l15,6l32,-8l19,0l29,9l24,-7l28,11l24,-3l31,-3l20,7l21,-13l32,3l15,3l35,7M1857,1003l33,5l15,-13l24,9l29,0l28,-5l27,3l20,6l30,-8l31,0l25,2l21,-9l18,13l28,-12l30,15l26,-1l26,-2l16,1l25,-4M1859,1048l32,5l28,1l18,-9l23,10l29,-7l21,3l27,-4l19,0l24,10l30,-2l23,-11l23,11l38,3l20,-4l20,0l35,-7l11,7l29,-5M1867,1108l27,-4l22,-6l15,9l31,-2l17,-9l25,0l38,-3l11,12l27,-11l25,3l35,8l23,-7l19,0l28,-4l33,0l14,8l22,-7l35,13M2182,1152l36,-7l12,11M1905,852l10,45M1956,848l13,56M2015,855l-2,50M2061,858l2,46M2113,848l-3,58M2158,850l2,47M2211,856l-2,38M2257,857l-2,41M1894,897l-13,59M1929,896l9,53M1987,908l-6,44M2043,897l-11,47M2082,899l3,47M2140,901l-3,53M2181,898l7,60M2230,899l11,49M1915,952l-10,43M1966,946l-8,58M2013,944l0,58M2061,953l2,47M2113,957l6,45M2168,951l-10,55M2209,945l7,64M2256,951l12,55M1890,1008l1,45M1929,1004l8,41M1986,999l3,49M2033,1008l4,39M2094,1000l-14,57M2140,993l-7,51M2186,994l8,64M2242,1008l-8,46M2284,1007l-4,47M1859,1048l8,60M1919,1054l-3,44M1960,1055l2,50M2010,1051l-6,45M2056,1047l-3,58M2110,1055l-5,42M2156,1055l7,43M2214,1054l-4,40M2269,1047l-12,55M1894,1104l-7,44M1931,1107l-2,50M1979,1096l11,49M2042,1093l-11,51M2080,1094l2,61M2140,1105l-6,46M2182,1098l0,54M2243,1094l-13,62M2279,1095l8,59" fill="none" stroke="#000" stroke-width="3.0"/></g>
<g clip-path="url(#cMN)"><path transform="scale(0.2)" d="M2343,865l11,2l30,3l20,6l19,-3M2255,916l22,0l15,0l20,-5l29,1l13,8l34,-4l10,5l23,-11l27,6l24,0l16,-8l27,8l32,-3M2250,966l20,-3l20,-7l26,4l24,-6l18,7l29,-4l22,3l22,3l22,-10l16,12l29,-12l15,6l22,-3l28,-3l18,6l21,-3l30,-2l28,10l9,-8l28,10M2242,1006l29,-3l23,-5l21,12l16,-11l32,10l20,-4l23,-1l24,-5l26,4l16,-5l29,10l12,0l27,-9l18,6l25,-5l31,8M2254,1054l15,-6l19,6l32,-6l18,-3l21,10l30,-12l20,11l12,2l36,-12l15,11l19,-1l33,-11l15,6l26,-3l24,2M2241,1097l36,0l18,1l19,-1l28,3l23,-5l21,-3l15,-4l21,10l33,-2l23,-6l15,5l23,6l23,-5l21,-4M2270,1133l25,6l27,-2l22,0l20,-3l17,4l22,5l28,-3l17,-6l29,10l22,1l13,-6l33,-1M2268,1180l19,11l23,-6l22,3l30,-8l23,4l25,4l15,-5l29,-5l15,6l24,5l27,-5l19,8M2264,1229l27,-2l28,9l23,-2l13,-9l25,-1l22,-1l28,2l15,11l35,-1l10,-1l28,-6l25,1l26,2M2274,1281l19,-10l21,-1l24,4l23,3l15,5l27,-8l26,6l24,0l19,2l27,-9l19,1l20,-6l21,5l31,0l24,-4M2263,1323l34,-3l18,0l28,-2l19,8l14,-8l32,1l20,3l19,4l20,-1l27,0l25,-10l21,11l16,-2l24,-7l30,7l21,2M2382,827l2,43M2271,866l6,50M2314,863l-2,48M2354,867l0,53M2404,876l-6,45M2449,870l-1,46M2491,869l-3,39M2255,916l-5,50M2292,916l-2,40M2341,912l-1,42M2388,916l-1,41M2421,910l10,53M2472,916l-3,49M2515,916l-2,43M2567,914l-4,39M2613,916l-11,40M2660,920l0,44M2270,963l1,40M2316,960l-1,50M2358,961l5,48M2409,960l-3,44M2453,953l3,50M2498,953l3,55M2535,956l5,43M2581,959l2,41M2632,954l5,46M2669,956l3,46M2294,998l-6,56M2331,999l7,46M2383,1005l6,38M2430,999l-9,57M2472,998l0,57M2513,1008l11,35M2558,1005l7,41M2269,1048l8,49M2320,1048l-6,49M2359,1055l6,40M2409,1054l-8,34M2457,1044l-2,52M2491,1054l2,41M2539,1049l0,47M2295,1098l0,41M2342,1100l2,37M2386,1092l-5,46M2422,1098l9,42M2478,1090l-1,54M2516,1101l-4,38M2322,1137l-12,48M2364,1134l-2,46M2403,1143l7,45M2448,1134l6,44M2499,1145l-6,44M2287,1191l4,36M2332,1188l10,46M2385,1184l-5,40M2425,1183l5,42M2469,1184l11,51M2520,1184l-2,44M2319,1236l-5,34M2355,1225l6,52M2402,1223l1,51M2445,1236l8,44M2490,1234l9,39M2543,1229l-5,39M2587,1234l3,39M2293,1271l4,49M2338,1274l5,44M2376,1282l0,36M2429,1280l-1,42M2472,1282l-5,43M2518,1274l1,41M2559,1273l-3,51M2614,1269l-4,55M2315,1320l-2,40M2362,1326l-6,38M2408,1319l-7,46M2447,1326l6,46M2494,1325l-2,42M2540,1326l-3,44M2580,1317l0,42" fill="none" stroke="#000" stroke-width="3.0"/></g>
<g clip-path="url(#cIA)"><path transform="scale(0.2)" d="M2490,1303l18,5l12,0l15,-1l19,4l13,0l14,-1l16,-4l17,3l15,-5M2283,1341l16,-3l20,3l9,-3l21,3l14,-1l17,-1l16,3l16,-8l11,8l14,-4l25,2l15,-1l12,-2l17,1l10,5l20,-5l17,4l17,-9l11,6l14,1l25,-3l14,-3M2287,1373l12,-1l15,1l14,0l20,-6l16,4l15,-2l11,-1l23,0l11,3l15,3l20,-5l11,-1l23,3l13,0l17,-3l12,3l16,0l14,1l16,-6l17,5l20,-3l13,5l19,-3M2288,1397l8,6l20,-7l17,9l11,-2l24,-3l16,3l8,-6l15,5l20,3l15,-9l16,9l16,-6l20,1l13,5l12,-1l20,-4l12,6l21,-10l11,6l11,-1l25,4l9,-9l22,3l13,2l17,-5M2288,1436l15,0l14,-7l13,3l17,5l14,-9l16,6l17,-4l15,6l15,-3l16,3l16,-8l14,5l20,-2l11,-3l17,3l15,4l21,-2l11,0l14,-3l23,2l12,0l20,4l11,0l16,-4l18,0l10,-2M2296,1460l24,8l13,-5l17,-4l10,3l23,6l12,-6l14,1l14,6l15,-2l23,-5l17,-2l10,3l19,0l15,5l14,-4l16,4l16,1l14,-1l20,-5l12,0l17,1l12,2l24,1l7,0l22,-5M2320,1498l7,-8l18,9l16,-2l19,-5l15,1l17,0l18,2l7,4l21,1l14,-4l19,-5l14,9l14,0l12,-9l19,6l17,0l15,0l16,1l18,-8l13,3l21,1M2320,1527l6,-3l26,3l8,-3l23,6l7,-7l24,7l13,-2l17,-5l12,3l16,0l13,0l16,3l21,-7l13,1l12,6l17,-6l16,7l16,-5l18,-3l21,8l12,-6M2318,1554l14,3l20,0l7,0l23,2l15,2l15,0l12,2l13,-3l17,2l21,-8l12,0l22,4l8,4l22,-5l13,-3l14,1l15,1l17,6l16,-5l14,5M2314,1302l5,39M2349,1303l0,38M2377,1303l3,36M2406,1311l6,23M2446,1304l-9,34M2476,1302l1,37M2508,1308l-2,30M2535,1307l1,31M2567,1311l3,22M2597,1306l-2,34M2299,1338l0,34M2328,1338l0,35M2363,1340l1,31M2396,1342l-6,26M2423,1342l1,29M2462,1340l-3,29M2489,1337l4,34M2516,1343l7,25M2553,1342l-2,29M2581,1339l0,27M2620,1337l-2,31M2287,1373l1,24M2314,1373l2,23M2348,1367l-4,36M2379,1369l5,34M2413,1368l-6,34M2439,1374l3,22M2470,1368l4,31M2506,1371l1,34M2535,1371l4,29M2565,1372l7,24M2598,1371l-4,30M2631,1373l-3,23M2658,1372l5,29M2296,1403l7,33M2333,1405l-3,27M2368,1400l-7,28M2392,1397l2,33M2427,1405l-3,28M2458,1405l-2,23M2494,1400l-4,31M2519,1404l-1,27M2551,1406l3,27M2583,1402l-4,28M2619,1405l-5,27M2650,1399l-5,37M2680,1396l-1,36M2317,1429l3,39M2347,1437l3,22M2377,1434l6,34M2409,1436l0,27M2440,1436l-2,31M2470,1433l8,27M2501,1428l6,35M2533,1435l3,29M2565,1433l3,36M2602,1432l0,31M2634,1436l-3,28M2661,1432l6,35M2689,1430l7,32M2333,1463l-6,27M2360,1462l1,35M2395,1462l0,31M2423,1469l7,26M2461,1462l-3,38M2488,1463l3,28M2522,1468l-3,32M2552,1468l-2,29M2582,1468l0,29M2614,1463l2,27M2643,1466l7,28M2674,1467l3,24M2345,1499l7,28M2380,1492l3,38M2412,1493l2,37M2437,1499l7,24M2472,1496l0,30M2505,1500l-4,29M2531,1491l4,32M2567,1497l-3,26M2598,1498l-2,27M2629,1493l6,37M2326,1524l6,33M2360,1524l-1,33M2390,1523l7,38M2427,1528l-3,35M2456,1526l-2,36M2485,1526l2,28M2522,1522l-5,40M2547,1529l5,25M2580,1530l1,26M2614,1522l0,35M2352,1557l-8,30M2382,1559l-6,29M2412,1561l-1,28M2437,1560l0,27M2475,1554l0,32M2509,1558l0,35M2539,1557l-6,28M2566,1555l6,37M2598,1562l1,24" fill="none" stroke="#000" stroke-width="3.0"/></g>
<g clip-path="url(#cMO)"><path transform="scale(0.2)" d="M2329,1558l20,2l12,-1l20,-4l10,5l13,-2l18,6l21,-2l10,1l20,-8l14,7l11,1l15,-4l15,-2l19,3l18,0l11,-1l22,-1l7,4l23,2M2342,1595l20,-4l10,4l16,-5l21,6l15,-5l19,-3l15,0l8,-1l21,0l17,6l15,-3l14,5l14,-7l17,7l13,-7l17,1l19,0l10,0l17,1M2361,1626l14,-8l16,7l20,-7l16,1l14,6l16,-2l17,-3l15,4l9,-6l22,8l8,-3l17,3l21,-3l9,0l23,2l16,-2l6,-5l22,5l18,-3M2374,1654l22,1l10,1l18,-1l13,1l22,-1l8,-3l17,0l16,-3l13,-1l15,8l18,-7l14,7l14,-4l24,-3l10,7l12,-1l21,3l15,-5l17,4l12,-4M2391,1683l21,-3l8,3l23,2l10,2l17,1l20,-2l14,1l17,0l11,0l14,-2l19,3l15,0l9,-9l16,1l24,9l14,-3l16,-6l9,8l24,-8l8,4l14,-1M2391,1719l17,0l13,-2l18,1l13,-7l21,9l9,-4l14,-1l24,2l9,-5l19,3l17,-4l12,8l21,-4l10,-4l14,9l14,-4l24,1l9,1l22,-1l11,-3l20,-1M2404,1742l16,8l14,-2l21,3l14,0l12,-5l20,-2l19,6l8,-6l21,0l11,3l18,-5l14,3l15,-3l13,3l21,5l14,0l18,0l11,-2l23,0l6,-3l17,5l20,-8M2403,1778l24,1l14,0l17,1l9,-3l18,1l18,-4l9,3l23,-4l14,8l17,0l9,-8l22,-1l13,4l11,1l16,0l22,-2l11,3l15,-2l16,0l19,-4l10,6l15,-5l21,7M2406,1813l15,-2l21,-4l10,0l17,4l16,-7l21,0l9,5l19,0l12,0l20,2l11,1l12,-5l21,-1l13,5l15,-6l16,7l12,-2l23,1l14,-2l16,-5l15,6l14,-2l16,-3l16,-1M2391,1843l18,1l15,-5l17,1l15,-5l10,0l18,7l16,-2l12,0l21,1l17,1l8,-1l21,-7l11,5l22,3l13,0l11,1l20,-4l13,0l15,-5l20,5l13,1l21,3l15,0l15,-8l11,0M2403,1874l21,-6l11,1l17,-3l18,4l12,3l21,-3l13,0l13,4l19,-1l14,-5l12,6l22,-2l15,-4l18,-1l16,5l10,-2l18,1l15,-5l10,7l22,0l11,-4l17,-1l18,7l14,0M2412,1903l16,-3l13,-1l17,5M2487,1899l16,-2l17,3M2684,1898l14,5l22,-3l12,-4l22,2l7,4l23,1M2364,1532l-3,27M2397,1530l-6,30M2424,1533l-2,31M2459,1525l-6,38M2487,1524l0,38M2520,1529l-7,30M2543,1525l4,35M2574,1527l2,32M2609,1528l-4,34M2349,1560l-7,35M2381,1555l-9,40M2404,1558l5,38M2443,1562l0,26M2473,1555l-7,32M2498,1563l6,30M2528,1557l5,38M2565,1560l-1,35M2598,1558l-4,31M2628,1564l-5,25M2362,1591l-1,35M2388,1590l3,35M2424,1591l3,28M2458,1588l-1,35M2487,1587l2,37M2519,1590l1,36M2547,1588l-2,38M2577,1588l-2,35M2613,1589l1,34M2640,1590l2,33M2375,1618l-1,36M2411,1618l-5,38M2441,1625l-4,31M2474,1620l-7,32M2498,1618l2,31M2528,1623l0,33M2566,1623l-6,33M2598,1625l0,24M2620,1618l0,37M2660,1620l-4,33M2396,1655l-5,28M2424,1655l-4,28M2459,1655l-6,32M2484,1652l6,34M2513,1648l8,39M2546,1649l0,36M2574,1652l6,36M2608,1656l-3,24M2641,1658l2,28M2673,1657l-5,31M2699,1651l1,33M2412,1680l-4,39M2443,1685l-4,33M2470,1688l3,32M2504,1687l-8,28M2532,1687l-3,25M2565,1688l0,23M2589,1679l9,36M2629,1689l-7,31M2659,1680l1,37M2692,1680l-1,37M2421,1717l-1,33M2452,1711l3,40M2482,1716l-1,30M2520,1717l0,33M2548,1715l1,29M2577,1719l1,23M2608,1711l-1,31M2636,1716l5,34M2669,1718l4,32M2702,1714l5,34M2729,1710l1,40M2434,1748l7,31M2469,1751l-2,26M2501,1744l2,30M2528,1744l7,29M2560,1747l6,34M2592,1745l5,27M2620,1745l1,32M2655,1750l4,25M2684,1748l1,28M2713,1745l7,27M2750,1742l-5,31M2427,1779l-6,32M2458,1780l-6,27M2485,1778l0,26M2512,1777l3,32M2549,1781l-3,28M2575,1773l2,39M2610,1776l0,30M2637,1777l1,28M2670,1778l-4,32M2701,1776l2,33M2730,1778l4,32M2766,1780l-2,25M2406,1813l3,31M2442,1807l-1,33M2469,1811l-3,24M2506,1804l-6,36M2534,1809l-1,32M2566,1811l-8,30M2589,1807l1,32M2623,1811l2,31M2654,1812l2,27M2689,1811l-5,23M2719,1804l-2,36M2748,1808l5,35M2780,1804l-1,31M2424,1839l0,29M2456,1835l-4,31M2484,1842l-2,31M2512,1840l4,30M2550,1842l-2,31M2579,1834l-5,40M2612,1842l-1,26M2636,1843l9,29M2669,1839l4,32M2704,1839l-6,34M2738,1843l-7,26M2768,1835l-2,40M2435,1869l6,30M2470,1870l2,32M2503,1870l0,27M2529,1874l0,31M2562,1868l-2,30M2596,1872l-4,24M2629,1867l-3,38M2655,1870l4,29M2688,1866l-4,32M2720,1873l0,27M2748,1868l6,30M2428,1900l-1,30M2698,1903l5,30M2732,1896l5,37M2761,1902l0,29" fill="none" stroke="#000" stroke-width="3.0"/></g>
<g clip-path="url(#cAR)"><path transform="scale(0.2)" d="M2635,1858l18,3l14,1l16,3l21,-7l19,1M2400,1892l12,-3l18,3l21,0l7,3l21,-6l12,3l22,0l10,-4l22,0l12,1l22,2l10,2l17,2l12,1l18,-8l17,9l21,-6l13,4l18,-5l17,4M2402,1928l15,-9l14,5l14,-3l17,4l11,-4l18,4l18,2l14,-2l17,3l21,-5l16,3l16,-2l14,4l20,-8l9,8l20,-9l14,9l21,-8l10,6l15,-6l21,7l16,-6M2417,1960l10,-3l20,3l16,-1l20,-7l10,0l15,6l16,2l18,-7l21,7l13,-9l17,8l13,-2l15,-2l22,0l11,-1l12,2l23,0l10,-3l18,-2l18,5l19,-3M2416,1986l11,-2l21,8l15,-6l15,4l16,-7l17,7l20,3l10,-2l17,0l13,-4l18,1l13,4l25,-7l10,3l22,2l8,-4l21,2l15,-5l17,7l17,-5M2409,2022l19,-3l22,6l13,-2l20,1l15,-2l12,-5l14,1l15,1l15,-2l23,3l16,3l9,-3l20,-3l20,6l14,2l13,-5l22,-4l11,6l14,-1M2414,2047l12,7l21,-1l16,2l17,-6l12,4l14,-3l22,5l13,-7l18,1l13,8l17,-2l15,-5l18,0l18,1l12,-2l16,-1l18,9l18,-8M2419,2081l12,4l11,4l22,-6l10,-2l19,3l13,-3l21,2l12,4l24,-6l8,3l24,2l16,-5l11,-1l16,9l15,-1l20,0l10,-3M2414,2115l13,-2l17,-1l15,5l15,-5l16,-1l23,2l9,6l24,-1l17,-2l16,-3l8,3l22,-5l14,3l20,2l9,-4l19,5l17,-1M2445,2147l20,5l10,-3l18,-3l16,2l19,5l15,-1l19,-5l7,1l19,0l21,-3l11,8l22,-8l10,0l20,-1l10,9M2433,1865l-3,27M2459,1859l-1,36M2498,1863l-7,29M2530,1861l-7,27M2563,1864l-6,25M2586,1859l3,34M2619,1859l-1,37M2653,1861l0,36M2683,1865l4,30M2412,1889l5,30M2451,1892l-6,29M2479,1889l-6,32M2513,1892l-4,35M2545,1888l-5,40M2579,1891l-2,35M2606,1895l1,33M2636,1888l0,40M2674,1891l-4,37M2705,1890l-4,36M2730,1894l7,33M2431,1924l-4,33M2462,1925l1,34M2491,1925l2,27M2523,1925l1,35M2561,1923l2,37M2593,1924l0,35M2627,1920l-6,35M2656,1919l-2,35M2691,1920l-2,36M2716,1920l1,31M2753,1921l1,32M2447,1960l1,32M2483,1952l-5,38M2508,1958l3,32M2542,1953l-1,38M2576,1951l-5,36M2606,1957l-4,35M2643,1955l-6,33M2666,1956l1,30M2699,1953l4,30M2735,1956l2,29M2427,1984l1,35M2463,1986l0,37M2494,1983l4,39M2531,1993l-7,25M2558,1991l-4,26M2589,1988l4,35M2627,1985l-5,32M2659,1990l-3,35M2688,1988l3,28M2720,1990l-4,31M2450,2025l-3,28M2483,2024l-3,25M2510,2017l-4,33M2539,2019l2,29M2577,2020l-5,37M2602,2020l2,30M2642,2023l-2,28M2669,2020l-1,28M2702,2022l2,27M2426,2054l5,31M2463,2055l1,28M2492,2053l1,31M2528,2055l-1,28M2559,2049l4,32M2589,2055l6,31M2622,2050l0,30M2652,2049l1,39M2686,2057l-3,28M2442,2089l2,23M2474,2081l0,31M2506,2081l7,32M2539,2087l7,31M2571,2084l8,29M2611,2081l-2,30M2638,2089l5,27M2673,2088l-2,29M2427,2113l6,33M2459,2117l6,35M2490,2111l3,35M2522,2119l6,34M2563,2116l-1,31M2587,2116l1,32M2623,2114l-3,39M2652,2112l0,33M2475,2149l6,33M2509,2148l-2,35M2543,2152l-6,30M2569,2148l8,30M2609,2145l-5,39M2642,2145l-7,30M2672,2144l-4,40" fill="none" stroke="#000" stroke-width="3.0"/></g>
<g clip-path="url(#cLA)"><path transform="scale(0.2)" d="M2611,2142l10,4l18,-1l25,-2l18,-7M2451,2171l21,4l13,4l26,0l9,-1l16,-2l19,-4l20,2l16,4l20,1l11,-2l21,3l19,-4l21,3l17,1M2452,2210l17,-4l24,3l14,5l21,-9l7,2l27,4l8,-1l25,3l15,-5l12,-2l19,3l20,5l18,-5l16,0M2456,2241l12,5l16,2l23,-8l20,9l12,-9l23,-1l15,9l10,-3l27,-6l8,7l19,-1l21,5l21,0M2469,2283l21,-1l16,-7l20,4l15,-2l22,-1l13,1l14,4l18,3l22,-10l12,3l24,5M2485,2315l18,-4l19,4l13,-1l19,1l20,2l22,-5l17,3l18,-7l10,9l16,0l25,-1l16,0l12,-2l19,-2l23,5l16,-8l18,5l13,-5M2486,2350l16,-3l18,3l22,-7l17,3l10,-2l27,7l17,-4l18,4l10,0l22,-8l16,6l19,2l19,2l8,-10l26,0l17,4l15,4l15,-7M2472,2382l19,-3l10,5l17,1l18,-1l17,-4l25,-1l10,-1l20,1l20,2l13,0l24,-3l18,8l11,-7l20,-1l19,1l19,3l15,2l14,-6l13,1l24,-2l17,4M2475,2421l14,1l15,-8l16,5l15,-3l25,-1l13,5l23,-2l11,0l17,-4l23,8l13,-3l24,-1l12,2l21,2l9,-9l16,1l17,8l27,-3l13,2l20,-6l15,7M2596,2453l10,-6l17,5l23,-3l17,6l18,-5l19,-4l11,7l14,4l21,-3l16,3l15,-10l24,2l15,5l19,-3l20,-3M2695,2488l22,-4l17,3M2796,2489l24,-7l15,-1M2493,2142l-8,37M2527,2146l-7,32M2555,2138l0,34M2594,2137l-3,41M2621,2146l1,31M2664,2143l-2,33M2472,2175l-3,31M2511,2179l-4,35M2536,2176l-1,31M2575,2174l-5,36M2611,2179l-1,29M2643,2180l-2,29M2683,2179l-4,30M2493,2209l-9,39M2528,2205l-1,44M2562,2211l0,28M2595,2213l-8,32M2622,2206l0,40M2661,2214l1,36M2468,2246l1,37M2507,2240l-1,35M2539,2240l2,37M2577,2248l-1,29M2614,2239l-6,45M2641,2245l1,32M2490,2282l-5,33M2526,2279l-4,36M2563,2276l-9,39M2590,2281l6,31M2630,2274l1,34M2666,2282l-9,35M2700,2278l-2,38M2733,2274l-4,38M2761,2276l7,33M2503,2311l-1,36M2535,2314l7,29M2574,2317l-5,27M2613,2315l0,32M2641,2317l0,34M2682,2316l-3,33M2710,2314l7,39M2752,2317l-1,26M2786,2314l-3,37M2486,2350l5,29M2520,2350l-2,35M2559,2346l-6,34M2596,2351l-8,27M2631,2351l-3,30M2663,2343l2,35M2698,2351l-4,28M2725,2343l8,36M2768,2347l-1,37M2798,2344l-4,35M2501,2384l3,30M2536,2384l-1,32M2578,2379l-5,41M2608,2379l-1,39M2641,2381l6,41M2683,2386l1,32M2714,2378l3,44M2752,2382l-10,32M2781,2378l5,41M2818,2377l1,38M2489,2422l-4,30M2520,2419l2,32M2560,2415l0,32M2596,2418l0,35M2624,2414l-1,38M2660,2419l3,36M2696,2420l4,26M2726,2413l-1,44M2759,2422l3,35M2799,2421l2,28M2834,2422l1,29M2606,2447l2,36M2646,2449l-2,41M2681,2450l0,39M2711,2453l6,31M2746,2454l-3,29M2777,2447l7,37M2816,2454l4,28" fill="none" stroke="#000" stroke-width="3.0"/></g>
<g clip-path="url(#cMS)"><path transform="scale(0.2)" d="M2799,1966l12,4l13,-7M2841,1963l16,6l18,0M2688,1994l15,2l23,0l13,0l11,5l14,-5l14,-2l18,7l20,-3l8,3l16,-5l20,2l9,-3l16,6M2673,2029l18,-1l17,2l13,-6l19,8l10,-5l18,-4l11,6l15,-6l21,5l13,1l15,-5l13,-1l18,0M2660,2055l20,-2l10,5l20,2l9,-1l19,-2l13,-2l17,4l13,1l17,-6l17,5l14,1l13,2l11,-6l22,0M2650,2089l17,-4l12,6l10,-6l23,5l6,-4l15,3l21,-3l17,-2l13,0l17,1l13,-2l9,7l20,1l17,-1l12,-8M2643,2120l23,-2l8,-4l15,1l15,1l17,-2l15,-2l13,9l15,-5l18,2l11,-5l19,7l11,-1l16,-6l15,1l22,5M2637,2142l13,1l12,0l14,7l17,0l15,-2l19,-3l9,5l20,-2l16,-5l15,1l11,5l15,-1l19,-2l9,1l19,-3l8,4M2650,2180l9,-3l21,5l13,-3l11,-1l14,0l18,1l19,3l17,-2l13,-6l10,-1l21,8l8,-2l17,-1l18,-1l12,4M2651,2205l11,7l11,-3l18,-1l17,-3l15,-1l19,-2l10,1l18,1l15,3l12,-1l14,6l16,-1l12,-4l14,-3l16,1M2628,2238l18,-2l13,5l23,-6l9,5l11,-4l22,2l15,-2l18,4l8,-6l15,0l20,-1l13,3l15,3l18,-2l16,3l6,-2l18,-1M2636,2267l7,-4l18,5l19,-4l8,-1l20,0l18,1l12,4l9,-3l17,0l17,1l12,5l21,-6l11,0l16,0l19,0l14,0M2629,2302l17,-6l18,4l13,-7l18,4l11,3l20,-7l9,9l19,-6l16,1l17,4l9,0l20,-7l12,2l16,3l11,-2l21,4l7,-7M2637,2331l11,-3l15,0l11,1l20,-4l10,1l21,-2l15,6l9,-5l21,-2l14,8l11,-6l19,6l15,-5l13,2l17,2l16,-3l16,4M2764,2356l15,-3l18,3l20,-2l10,2l20,1l10,4l15,-5l11,5M2726,1968l0,28M2752,1963l-2,38M2786,1965l-8,29M2811,1970l5,28M2841,1963l-1,33M2875,1969l-6,26M2703,1996l5,34M2739,1996l1,36M2764,1996l4,27M2796,2001l-2,22M2824,2001l4,28M2860,1998l-4,25M2691,2028l-1,30M2721,2024l-2,35M2750,2027l1,28M2779,2029l2,31M2815,2028l0,31M2843,2024l-1,38M2680,2053l-1,38M2710,2060l2,30M2738,2057l-5,32M2768,2059l3,25M2798,2054l3,31M2829,2060l-6,30M2853,2056l7,34M2667,2085l-1,33M2689,2085l0,30M2718,2086l3,28M2754,2086l-5,35M2784,2084l-2,34M2814,2083l-2,37M2843,2091l-4,22M2643,2120l7,23M2674,2114l2,36M2704,2116l4,32M2736,2112l0,38M2764,2116l8,27M2793,2113l5,36M2823,2119l9,27M2854,2114l6,30M2662,2143l-3,34M2693,2150l0,29M2727,2145l-9,33M2756,2148l-1,34M2787,2144l-2,30M2813,2148l3,33M2841,2147l0,31M2680,2182l-7,27M2704,2178l4,27M2736,2179l6,23M2772,2180l-2,24M2795,2173l2,33M2824,2179l3,32M2859,2177l-6,27M2662,2212l-3,29M2691,2208l0,32M2723,2204l1,34M2752,2203l5,37M2785,2207l-5,27M2811,2212l2,24M2839,2207l7,30M2869,2205l-1,33M2646,2236l-3,27M2682,2235l-2,29M2702,2236l6,27M2739,2236l-1,32M2765,2234l-1,31M2800,2233l-7,38M2828,2239l-3,26M2862,2240l-2,25M2636,2267l-7,35M2661,2268l3,32M2688,2263l7,34M2726,2264l0,29M2747,2265l7,31M2781,2266l6,35M2814,2265l2,29M2841,2265l3,34M2874,2265l2,36M2646,2296l2,32M2677,2293l-3,36M2706,2300l-2,26M2735,2302l5,28M2770,2297l0,26M2796,2301l-1,24M2828,2296l1,30M2855,2297l4,33M2637,2331l-2,29M2663,2328l3,29M2694,2325l-2,29M2725,2324l-5,33M2749,2325l3,32M2784,2331l-5,22M2814,2331l3,23M2842,2328l5,29M2875,2327l-3,29M2797,2356l-1,32M2827,2356l3,30M2857,2361l-3,27" fill="none" stroke="#000" stroke-width="3.0"/></g>
<g clip-path="url(#cAL)"><path transform="scale(0.2)" d="M2981,1949l12,4l19,-3l12,-3M2825,1986l23,-5l13,-1l13,1l16,-1l22,-1l17,3l14,-2l16,5l23,-6l15,3l11,6l24,-5l9,4M2832,2022l9,-3l22,-5l15,5l13,1l17,-2l17,2l22,-6l15,6l22,-6l9,3l19,-1l15,-2l17,0l19,7M2825,2046l21,0l18,4l18,-1l11,-1l18,0l12,-1l22,5l15,3l19,-7l17,1l12,3l16,-4l24,-2l17,6M2823,2088l27,-9l14,9l10,-3l20,2l14,-3l23,2l16,2l19,-8l14,0l14,4l22,-1l11,1l21,-2l11,7l18,-4M2832,2115l13,0l21,7l13,-9l17,4l16,3l13,-1l18,1l23,-4l14,-2l18,0l13,4l15,-1l23,-1l12,6l21,-6M2829,2152l20,2l9,-3l25,-6l14,6l11,-4l15,1l27,6l14,2l17,-1l13,-7l14,2l20,5l19,-1l13,-8l24,2l15,4M2826,2179l23,2l15,4l17,2l10,0l25,-2l14,0l14,-1l20,3l12,-1l23,0l8,3l19,-9l22,-1l13,6l22,-1l16,5l15,-7M2826,2220l18,0l15,-5l17,-3l13,5l20,-2l21,-1l15,3l15,-3l17,4l15,1l15,-2l18,1l22,-4l20,5l14,2l13,0l19,-7M2840,2254l17,-2l22,-2l17,5l12,0l25,-3l8,-3l21,7l18,-5l10,-1l20,-3l19,9l18,-3l17,-6l17,1l10,8l17,-9M2841,2285l19,0l22,2l8,-4l25,3l15,3l14,-4l15,0l20,1l20,-5l10,2l17,4l19,-2l21,-4l12,8l17,-5l22,-2M2848,2323l15,-2l15,-5l16,-1l19,7l19,-8l9,4M2843,2351l23,-1l8,1l16,-3l26,3l16,0l13,1l14,-5M2857,1946l4,34M2892,1947l-2,33M2928,1953l1,29M2960,1947l-1,38M2993,1953l4,29M3024,1947l8,36M2848,1981l-7,38M2874,1981l4,38M2912,1979l-4,39M2943,1980l4,34M2982,1979l2,35M3008,1988l4,28M3041,1987l3,27M2863,2014l1,36M2891,2020l2,28M2925,2020l-2,27M2962,2020l-2,35M2993,2017l3,32M3027,2014l-3,34M2846,2046l4,33M2882,2049l-8,36M2911,2048l-3,36M2945,2052l2,36M2979,2048l1,32M3008,2052l8,31M3048,2046l0,36M2864,2088l2,34M2894,2087l2,30M2931,2086l-6,33M2966,2080l0,36M2994,2084l4,30M3027,2084l-1,33M3059,2089l2,33M2845,2115l4,39M2879,2113l4,32M2912,2120l-4,27M2943,2120l7,34M2980,2114l1,41M3011,2118l-3,32M3049,2116l-2,38M3082,2116l2,32M2858,2151l6,34M2897,2151l-6,36M2923,2148l7,37M2964,2156l0,31M2994,2148l5,38M3028,2155l-2,25M3060,2146l1,39M3099,2152l0,37M2849,2181l-5,39M2881,2187l-5,25M2916,2185l-7,30M2944,2184l1,33M2976,2186l1,32M3007,2189l0,28M3048,2179l-1,35M3083,2184l-2,37M2859,2215l-2,37M2889,2217l7,38M2930,2214l3,38M2960,2214l2,42M2992,2219l-2,31M3025,2218l4,38M3067,2219l-3,28M3094,2221l-3,35M2879,2250l3,37M2908,2255l7,31M2941,2249l3,36M2980,2251l-1,35M3010,2247l-1,36M3047,2253l-2,32M3081,2248l-3,41M3108,2247l9,35M2860,2285l3,36M2890,2283l4,32M2930,2289l2,25M2959,2285l0,35M2999,2281l0,39M3026,2287l2,31M3066,2281l1,35M3095,2284l-3,29M2878,2316l-4,35M2913,2322l3,29M2941,2318l4,34M2866,2350l-9,34M2890,2348l2,41M2932,2351l-8,35" fill="none" stroke="#000" stroke-width="3.0"/></g>
<g clip-path="url(#cGA)"><path transform="scale(0.2)" d="M3050,1937l10,7l17,-7l8,7l14,-2l8,-2l19,-1l6,1l14,4l15,-3l7,-3l15,3l11,-2l16,5M3001,1965l12,-1l17,0l11,4l8,-1l12,-3l10,3l12,-3l17,-2l7,1l18,1l9,0l14,-2l11,4l8,-3l17,3l13,-1l6,1l19,2M2999,1991l17,-2l7,-3l12,-1l15,3l9,-1l16,5l13,-3l9,0l15,1l7,-1l12,-2l15,4l9,0l17,1l13,-3l6,-3l18,6l10,-7l15,1M3001,2014l15,-2l11,2l15,-4l6,6l12,-5l16,3l14,-3l7,-1l13,6l9,-5l13,5l18,0l12,-3l8,0l15,-4l7,6l16,-1l14,0l7,1l14,-2l13,-1M3016,2034l10,2l9,4l16,-5l11,-1l14,2l14,3l5,2l16,-8l13,5l10,1l12,0l14,1l11,-2l11,2l14,-4l11,2l8,-1l14,-1l16,0l7,2l15,-4l12,5l8,-1M3015,2065l14,-5l9,0l13,-2l11,5l14,-5l11,5l13,-2l14,3l11,-2l10,2l9,-3l14,-2l16,5l12,0l5,-1l17,-1l7,-3l12,-2l14,6l10,-1l17,-2l10,1l11,2l16,-4l8,-2M3025,2085l11,-4l11,4l13,1l14,1l11,0l13,0l9,-6l12,7l17,-3l10,3l15,0l12,-6l8,2l13,1l14,1l8,2l17,-7l8,5l11,-1l14,-3l14,4l13,1l12,-5l6,0l13,3l13,3M3039,2110l8,-4l12,6l17,-3l8,2l12,1l12,-1l15,0l9,0l16,-3l11,-3l11,2l16,3l10,-3l8,6l12,-6l11,3l17,-4l8,3l14,2l9,1l18,-6l11,5l12,1l12,-7l9,6l11,-6M3047,2132l14,1l15,2l8,-4l13,0l12,-1l11,2l17,-2l13,-1l9,6l9,-1l12,-5l16,5l12,0l13,-2l7,-1l12,0l13,3l13,-4l15,3l6,-1l14,1l10,2l18,-4l11,0l13,2l8,-1l14,2M3050,2157l14,-1l12,0l8,-1l18,2l12,2l6,-4l18,4l9,0l11,-1l14,2l14,-2l6,1l11,1l18,0l9,-3l13,-2l11,3l15,1l10,0l13,-3l12,3l7,-3l16,-2l12,6l8,0l13,-4l11,1M3061,2178l11,4l18,0l6,3l17,-3l10,0l10,0l13,-3l10,1l15,2l13,-4l10,1l15,-1l11,-1l12,4l12,-1l10,1l10,-1l15,-2l11,6l10,-7l16,0l10,0l14,6l8,-3l12,4l11,-5M3065,2206l12,-4l7,3l18,1l6,-3l11,3l13,-3l11,4l13,-5l16,3l10,3l15,-2l6,2l17,0l8,-1l13,0l17,0l10,-2l12,2l11,0l10,1l14,-7l11,0l15,4l11,2l13,-3l12,0M3075,2228l14,0l10,-3l8,6l15,-6l15,6l12,-6l6,6l19,-3l9,0l10,1l13,-3l16,1l11,4l8,1l14,-6l8,1l18,6l6,-3l17,2l9,-4l11,3l12,-1l18,1l6,-2l14,-2M3071,2253l18,2l8,-5l14,2l15,0l10,3l9,1l14,-7l13,4l8,-4l18,2l6,1l11,-1l16,1l11,0l10,1l14,-2l11,1l16,-1l9,1l13,2l9,-5l18,8l6,-7l15,5M3083,2275l16,0l15,2l7,-3l17,1l7,4l17,0l5,-6l14,3l16,0l13,3l11,-3l11,-1l9,5l17,-5l9,3l14,-3l9,3l16,-4l9,6l13,-4l8,2M3086,2303l13,-6l10,0l10,8l18,-4l9,2l15,-2l12,-2l12,3l8,-3l12,2l11,-2l14,5l13,-4l14,2l13,-4l10,4M3291,2299l10,-1l14,1l10,-1M3102,1920l-3,22M3123,1915l3,24M3147,1915l-1,29M3168,1920l0,18M3194,1916l0,23M3014,1939l-1,25M3039,1938l2,30M3060,1944l1,20M3085,1944l-2,20M3107,1940l0,23M3132,1940l2,24M3161,1941l-2,25M3183,1941l1,25M3210,1944l-7,22M3030,1964l-7,22M3049,1967l1,21M3071,1967l4,25M3100,1962l-3,27M3125,1964l-6,25M3148,1962l-2,29M3167,1963l5,29M3197,1965l-6,21M3222,1968l-3,17M3016,1989l0,23M3035,1985l7,25M3059,1987l1,24M3088,1989l2,22M3112,1990l-2,26M3131,1987l1,29M3155,1991l7,22M3185,1989l0,20M3209,1992l-1,22M3234,1986l-5,29M3027,2014l-1,22M3048,2016l3,19M3076,2014l0,22M3097,2010l-2,31M3119,2011l5,27M3150,2016l-4,23M3170,2013l1,25M3192,2015l4,21M3222,2014l-7,23M3243,2013l2,23M3264,2015l3,19M3035,2040l3,20M3062,2034l0,29M3090,2039l-3,24M3111,2033l3,31M3134,2039l1,25M3160,2040l-2,19M3182,2040l4,24M3207,2038l1,24M3229,2036l-2,21M3252,2038l-1,24M3279,2039l-1,22M3300,2035l5,24M3029,2060l-4,25M3051,2058l-4,27M3076,2058l-2,29M3100,2061l-2,26M3125,2062l-6,26M3144,2061l2,27M3174,2064l-1,18M3191,2063l3,22M3215,2059l1,29M3241,2063l0,23M3268,2060l-2,22M3289,2063l4,24M3313,2057l-2,25M3036,2081l3,29M3060,2086l-1,26M3085,2087l-1,24M3107,2081l1,30M3136,2085l-4,26M3161,2088l-2,17M3181,2084l5,26M3208,2086l-4,27M3233,2081l-6,29M3252,2085l0,24M3280,2086l-5,26M3305,2082l-1,29M3324,2085l4,20M3047,2106l0,26M3076,2109l0,26M3096,2112l1,19M3123,2111l-3,21M3148,2108l2,21M3170,2107l-2,27M3196,2107l0,27M3216,2107l5,25M3244,2106l-4,25M3266,2111l0,19M3293,2106l-6,26M3316,2112l-5,23M3337,2111l3,20M3359,2110l2,22M3061,2133l3,23M3084,2131l0,24M3109,2130l5,29M3137,2130l1,29M3159,2135l-1,23M3180,2129l6,29M3208,2134l-5,26M3228,2131l2,26M3253,2134l1,24M3281,2133l-2,26M3301,2133l3,26M3329,2131l-2,23M3353,2133l-6,27M3375,2134l-4,23M3076,2156l-4,26M3102,2157l-6,28M3120,2155l3,27M3147,2159l-1,20M3172,2160l-1,22M3192,2159l2,20M3221,2160l-1,17M3243,2155l1,25M3269,2159l-5,21M3292,2156l-2,28M3311,2156l5,21M3339,2160l1,23M3360,2156l0,28M3090,2182l-6,23M3113,2182l-5,21M3133,2182l-1,21M3156,2180l0,22M3184,2178l-2,30M3209,2178l-6,30M3232,2181l-4,26M3254,2181l4,26M3279,2178l1,29M3300,2177l1,31M3326,2177l0,24M3348,2180l4,27M3371,2179l6,25M3077,2202l-2,26M3102,2206l-3,19M3119,2206l3,19M3143,2207l6,18M3172,2205l2,23M3197,2206l-4,23M3220,2208l2,19M3241,2207l0,25M3268,2205l-5,22M3291,2207l-4,23M3315,2201l-2,27M3341,2205l-5,25M3365,2204l-5,25M3089,2228l0,27M3107,2231l4,21M3137,2231l-1,24M3155,2231l4,18M3183,2228l-3,21M3206,2226l-2,26M3233,2231l-2,21M3255,2226l-3,27M3281,2233l-4,19M3304,2232l-2,20M3324,2231l0,18M3354,2231l-6,19M3097,2250l2,25M3126,2252l-5,22M3145,2256l0,23M3172,2253l-5,20M3198,2251l-1,25M3215,2251l6,25M3242,2252l-1,28M3266,2251l1,27M3293,2251l-3,27M3315,2254l0,26M3342,2257l-6,21M3114,2277l-5,20M3138,2275l-1,26M3162,2279l-1,22M3181,2276l4,26M3210,2279l-5,22M3232,2275l-2,29M3258,2275l-1,27M3281,2275l-1,27M3306,2274l-5,24M3328,2276l-3,22" fill="none" stroke="#000" stroke-width="3.0"/></g>
<g clip-path="url(#cFL)"><path transform="scale(0.2)" d="M2911,2278l13,4l29,-5M2969,2274l14,1l18,5l26,-1l11,0l25,-5l15,6l21,1l21,-4M3150,2278l17,3l23,-4l15,1l28,2l18,2l16,-10l14,7l19,-7l23,2l23,5l19,-6l18,6M2906,2315l27,1l12,-3l15,7l26,-7l23,-2l14,4l15,-4l26,5l16,-4l19,1l16,4l23,0l17,-8l18,6l16,0l24,-2l20,0l9,3l18,2l20,0l28,1l15,-4l17,-3l25,5l19,-6M2905,2355l20,-7l21,0l15,8l22,-1l15,-8l28,4l17,-2l14,4l22,-1l17,0l24,2l12,1l18,2l25,-5l19,-1l18,5l11,-10l19,9l29,-8l19,3l10,7l22,-7l18,-3l17,1l16,10l21,-7l27,0M3063,2390l18,3l20,-6l17,4M3213,2386l13,2l26,5l13,-4l17,2l22,-4l24,4l15,-7l12,0l21,2l23,7l22,-7l14,3M3253,2430l16,-3l17,-2l17,8l24,-9l15,7l13,-8l26,9l14,-7l16,7l22,-2l25,2l17,-3M3270,2469l10,-2l22,2l19,2l22,-8l14,-2l25,0l21,3l15,3l11,2l19,-8l28,4M3262,2500l23,-2l16,7l17,-3l22,6l21,-5l18,4l17,-10l21,-1l18,4l13,6l26,-4l20,1M3290,2536l10,6l21,1l17,-2l23,1l14,1l24,-2l19,-5l20,5l15,-7l18,5l17,-3l21,6M3323,2577l12,0l26,1l22,4l19,-6l8,6l23,-8l20,5l21,-3l20,4l10,-3l29,4M3340,2610l17,3l22,5l24,-2l15,1l13,2l26,-7l20,1l17,6l18,-6l18,2M3360,2647l22,5l19,-2l12,-2l18,6l17,-6l27,10l16,-9l23,8l16,-7M3403,2686l16,2l14,2l16,1l22,-3l15,4l21,-4l24,7M2987,2240l-4,35M3027,2234l0,45M3062,2235l1,39M3103,2236l-4,45M3172,2239l-5,42M3205,2243l0,35M3244,2236l7,46M3289,2242l-8,37M3320,2243l3,31M3363,2243l2,30M2924,2282l9,34M2969,2274l-9,46M3001,2280l8,31M3038,2279l0,32M3078,2280l2,32M3120,2277l-5,40M3150,2278l5,31M3190,2277l-1,38M3233,2280l0,33M3267,2272l-7,46M3300,2272l8,47M3346,2279l-6,33M2945,2313l1,35M2986,2313l-3,42M3023,2315l3,36M3064,2316l-7,37M3099,2313l-3,39M3138,2317l-6,38M3173,2315l2,37M3213,2313l-1,43M3242,2316l0,39M3280,2318l10,32M3323,2315l-1,35M3365,2317l-8,31M3396,2309l-2,42M2925,2348l-2,38M2961,2356l7,38M2998,2347l5,39M3043,2349l-8,36M3079,2352l2,41M3120,2354l-2,37M3150,2357l6,30M3194,2351l-2,37M3223,2346l3,42M3271,2347l-6,42M3300,2357l4,30M3340,2347l3,37M3373,2358l3,28M3421,2351l0,35M3101,2387l-2,36M3252,2393l1,37M3282,2391l4,34M3328,2391l-1,33M3355,2384l0,39M3399,2393l-4,32M3435,2389l-2,41M3269,2427l1,42M3303,2433l-1,36M3342,2431l1,32M3381,2432l1,29M3411,2432l7,35M3458,2432l-10,29M3280,2467l5,31M3321,2471l-3,31M3357,2461l4,42M3403,2464l-7,33M3429,2469l6,31M3476,2465l-2,37M3301,2505l-1,37M3340,2508l-2,33M3379,2507l-4,36M3417,2496l1,40M3448,2506l5,28M3494,2503l-6,33M3321,2543l2,34M3361,2542l0,36M3399,2541l3,35M3438,2541l-5,33M3471,2539l3,37M3509,2542l-5,35M3335,2577l5,33M3383,2582l-4,36M3410,2582l8,35M3453,2579l4,33M3494,2580l0,39M3357,2613l3,34M3403,2616l-2,34M3431,2619l0,35M3477,2613l-2,45M3512,2613l2,44M3382,2652l1,38M3413,2648l6,40M3448,2648l1,43M3491,2649l-5,43M3433,2690l-3,34M3471,2688l4,44M3507,2688l-2,40" fill="none" stroke="#000" stroke-width="3.0"/></g>
<g clip-path="url(#cSC)"><path transform="scale(0.2)" d="M3247,1893l18,4l14,-1l16,-6M3306,1889l15,7l24,-2M3169,1931l10,-2l20,-4l18,2l9,-4l14,-2l16,5l20,-4l20,1l16,-1l13,5l10,1l19,3l15,-7l16,6l16,-3l15,-6l21,4l14,6l16,-2M3162,1963l15,-4l17,-5l16,0l17,5l16,-4l15,8l20,0l11,-4l24,0l15,-5l13,7l18,-4l11,4l16,-4l23,4l11,-7l19,9l17,-3l15,-3l13,0l15,-2M3184,1994l15,-4l9,-2l24,2l10,-1l22,0l9,1l15,2l24,0l17,-7l12,10l20,-6l7,1l17,0l24,4l16,-9l14,9l12,-2l20,-1l8,-2l20,2M3212,2023l18,-1l13,4l21,-9l17,9l9,-4l17,-4l21,6l13,-4l18,2l12,1l21,4l16,-3l15,-2l17,2l11,0l18,-5l19,2M3249,2055l17,-2l9,-3l22,9l10,-2l14,-1l24,0l8,1l19,-6l19,6l15,-4l18,-2l13,1l15,6l15,-5M3275,2083l16,2l21,3l13,3l20,-6l12,5l20,-8l14,5l18,-3l10,6l23,-7M3311,2119l18,-2l11,2l19,-6l11,8l14,-4l21,-3l14,5M3340,2154l16,-7l15,1l18,7M3167,1898l2,33M3195,1895l4,30M3225,1896l1,27M3265,1897l-9,29M3295,1890l1,33M3321,1896l4,31M3356,1895l-2,36M3390,1894l-5,36M3416,1895l0,26M3455,1894l-4,37M3179,1929l-2,30M3217,1927l-7,27M3240,1921l3,34M3276,1922l2,41M3312,1922l1,37M3335,1928l6,33M3369,1924l1,37M3401,1927l8,34M3437,1925l2,38M3467,1929l4,28M3194,1954l5,36M3227,1959l5,31M3258,1963l6,26M3289,1959l-1,33M3328,1954l1,31M3359,1957l2,32M3386,1957l-1,33M3420,1954l5,31M3456,1960l-5,32M3484,1957l-5,32M3208,1988l4,35M3242,1989l1,37M3273,1990l8,36M3312,1992l-5,26M3341,1995l0,25M3368,1990l3,33M3409,1994l-1,30M3439,1994l1,30M3471,1991l-2,28M3230,2022l1,29M3264,2017l2,36M3290,2022l7,37M3328,2024l-7,32M3359,2022l-6,35M3392,2027l-1,30M3423,2022l1,29M3451,2024l1,34M3275,2050l0,33M3307,2057l5,31M3345,2056l0,29M3372,2051l5,31M3406,2053l3,31M3437,2052l5,31M3291,2085l2,30M3325,2091l4,26M3357,2090l2,23M3391,2087l-7,30M3419,2090l0,29M3340,2119l0,35M3370,2121l1,27M3405,2114l3,40M3356,2147l0,30" fill="none" stroke="#000" stroke-width="3.0"/></g>
<g clip-path="url(#cNC)"><path transform="scale(0.2)" d="M3472,1743l11,0l19,-3l10,0l18,1l13,-3l9,5l16,-7l15,6l16,-8l18,5l13,1l12,1l14,-5M3354,1767l15,-2l18,-1l14,7l9,-7l17,2l16,1l16,-3l13,6l15,-6l16,6l15,-7l8,0l20,4l8,0l13,0l21,4l15,-2l7,1l21,0l8,0l21,0l11,1M3227,1791l16,3l11,6l15,-9l15,9l20,-7l10,-2l12,9l18,-7l14,7l15,-7l15,1l13,6l9,-7l20,5l14,1l13,-4l11,-3l15,6l18,-6l16,2l8,-1l20,6l12,-5l15,2l16,1l8,-4l20,3l14,2l12,2l12,-5l18,-1M3218,1826l16,-5l12,6l16,1l14,-6l7,6l14,-3l18,1l18,0l10,0l15,-5l17,4l12,3l16,-1l12,-3l14,4l14,0l17,-4l8,3l16,-5l12,-1l20,3l12,3l18,-1l10,-4l19,2l9,3l20,-1l14,2l8,-7l17,5l10,0l19,-4M3175,1853l13,3l12,-2l19,-5l11,0l14,7l14,-1l13,-6l15,7l11,-2l19,0l11,1l18,1l13,-5l18,-2l12,5l8,-3l15,4l18,-1l14,0l14,1l17,-6l16,1l6,3l19,-3l12,3l15,-3l19,7l6,-1l16,-1l17,1l16,-6l16,3l15,1l14,-6M3132,1881l14,0l14,-3l16,6l11,-4l11,-1l12,-1l17,0l18,6l12,-4l12,2l14,-2l13,5l19,-4l15,0l17,4l13,-1l9,1l14,-1l21,-5l9,2l16,3l17,-5l12,2l9,-3l18,3l15,1l15,-4l10,4l22,-4l10,3l16,2l15,0l9,-3l13,-2l19,7l17,-4M3084,1912l20,0l7,0l16,-3l20,0l7,4l21,1l14,-4l15,1l14,2l13,-5l9,-1l14,5l14,-1l16,-3l15,5l20,-1l13,-7l7,5l18,1l17,2l11,-2l15,-4l18,-1l14,8l8,-1l20,-4l11,0l10,3l17,-1l20,-4l8,2l14,5l21,-5l10,-4l18,1l9,0l12,5M3090,1938l9,4l18,-2l15,-2l13,4l17,-6l14,2l11,-1l18,-3l12,2l16,-2M3319,1939l11,-4l18,1l12,-1l13,7M3397,1939l22,-1l14,-4l14,7l9,-3l18,1l12,1l17,-4l12,1l9,-2l17,7l14,-5l15,4M3445,1967l16,-3l8,6l17,-7l14,2l14,-2l16,3l15,1l15,-4M3482,1711l1,32M3512,1710l0,30M3543,1706l0,32M3575,1714l-7,22M3603,1706l-4,28M3629,1711l1,29M3388,1743l-1,21M3415,1739l-5,25M3445,1736l-2,31M3472,1743l0,27M3502,1740l1,30M3530,1741l-4,22M3552,1743l2,24M3583,1742l5,29M3617,1739l-7,31M3642,1741l-3,29M3256,1766l-2,34M3286,1769l-2,31M3314,1766l0,25M3346,1766l-2,27M3369,1765l4,28M3401,1771l0,29M3427,1766l3,32M3459,1764l-2,31M3487,1764l-4,34M3518,1763l-1,31M3546,1767l-1,32M3567,1767l5,29M3603,1769l-7,24M3631,1770l-1,28M3660,1770l-6,25M3243,1794l3,33M3269,1791l7,31M3304,1793l-7,32M3326,1800l7,26M3358,1800l0,21M3388,1794l-1,34M3410,1793l5,31M3444,1799l-1,29M3468,1792l0,35M3501,1792l-5,29M3525,1793l3,34M3557,1794l-1,28M3588,1797l-4,30M3616,1796l2,32M3642,1800l1,26M3672,1794l0,28M3204,1821l-4,33M3234,1821l-4,28M3262,1828l-4,27M3283,1828l3,28M3315,1826l1,28M3343,1826l2,30M3375,1825l1,24M3403,1827l-7,24M3429,1828l0,26M3460,1824l-3,31M3484,1822l6,28M3516,1824l-1,26M3546,1826l-4,24M3575,1824l-8,32M3604,1826l-4,30M3626,1821l6,32M3653,1826l8,22M3155,1854l5,24M3188,1856l-1,24M3219,1849l-9,29M3244,1856l1,28M3271,1849l-2,33M3297,1854l-1,31M3327,1855l3,26M3358,1851l2,33M3388,1854l-5,30M3411,1855l2,26M3443,1854l3,25M3474,1849l-7,29M3496,1853l4,29M3527,1853l-2,29M3561,1857l-4,24M3583,1855l5,28M3616,1850l-6,28M3647,1854l-1,27M3119,1885l-8,27M3146,1881l1,28M3176,1884l-1,30M3198,1879l6,32M3227,1878l4,30M3257,1880l-3,32M3283,1880l1,28M3315,1881l4,31M3347,1885l-8,25M3369,1885l5,28M3404,1879l-4,28M3429,1884l3,30M3458,1881l2,28M3485,1881l-4,31M3515,1878l3,29M3547,1878l-7,36M3573,1883l-2,22M3597,1880l1,26M3629,1885l3,23M3104,1912l-5,30M3127,1909l5,29M3154,1913l8,23M3189,1910l-2,27M3218,1913l-1,23M3240,1907l0,28M3268,1911l1,26M3299,1913l3,26M3332,1905l-2,30M3357,1911l3,24M3385,1911l0,24M3418,1906l1,32M3440,1913l7,28M3471,1909l3,30M3498,1911l5,25M3526,1909l-2,26M3561,1909l-6,28M3589,1906l-5,35M3090,1938l0,30M3117,1940l-5,24M3145,1942l-3,20M3176,1938l-5,27M3205,1934l0,32M3348,1936l-7,33M3433,1934l-8,32M3456,1938l5,26M3486,1940l0,23M3515,1937l-1,26M3541,1942l4,25M3469,1970l4,28M3500,1965l4,28M3530,1966l-3,32" fill="none" stroke="#000" stroke-width="3.0"/></g>
<g clip-path="url(#cTN)"><path transform="scale(0.2)" d="M3062,1804l17,5l10,-3l12,3l16,-6l7,4l19,-4l14,1l10,1l11,2l13,0l18,-3l12,1l15,5l7,-8l14,3l16,4M2829,1830l10,2l18,3l9,-4l12,5l12,-4l15,0l12,3l13,-6l15,4l13,0l12,-3l12,0l17,-2l12,3l12,3l12,-5l17,3l8,-2l15,5l12,-6l17,-1l11,6l17,-3l10,5l13,-5l9,4l12,-3l18,0l14,-1l14,3l14,-6l12,7l11,-1M2729,1858l11,2l9,-1l16,3l14,-1l14,-2l11,3l15,-4l12,-1l12,4l9,-5l18,5l11,-2l16,3l7,-7l16,2l12,5l14,-3l17,-3l11,4l14,-2l13,1l6,-3l19,-2l13,8l13,-2l9,2l14,-4l15,-2l10,-1l15,4l12,2l11,1l13,-5l14,-1l15,0l17,6l11,-2l10,-1l16,3l14,-2M2722,1883l17,3l8,-4l18,-1l13,3l11,3l11,-5l16,6l10,-4l15,2l16,1l7,0l21,-1l12,-4l9,0l17,3l13,0l12,0l10,-2l13,-1l12,6l18,-2l12,0l15,-6l10,5l8,0l15,-4l11,1l15,-1l16,4l13,2l13,-2l11,-2l18,4l9,-2l11,2l14,-2M2722,1912l13,-2l15,-3l10,6l14,0l18,-2l9,1l17,-1l10,-2l15,-2l15,5l7,-3l12,3l16,-3l18,0l8,5l13,-7l15,1l8,4l18,-2l13,3l16,-6l10,-1l13,7l9,-6l16,2l11,-1l13,2l12,4l15,-4l11,2l14,-5l11,4l21,-3M2698,1939l18,-7l8,3l12,3l18,2l7,0l20,0l13,-3l9,3l12,-6l11,1l16,3l15,-1l9,2l17,-6l10,2l14,2l16,-4l10,3l14,3l11,-7l15,7l15,-1l13,-2l14,-2l7,5l12,-4l12,2l14,-4l18,6l9,1l17,0l7,0l19,-7M2702,1964l14,2l8,-7l13,6l17,1l12,-4l13,3l14,-2l14,3l5,-2l18,-3l10,3l19,-3l5,0l16,-3l14,1l10,1l15,4l13,-2l11,-1l18,2l10,-2l14,0l16,2l14,1l7,0l17,-1l9,3l19,0l13,0l9,-5l10,3l19,-5M2700,1987l13,3l10,-5l12,5l19,0l12,1l12,-5l16,1l6,-1l16,2l9,1l20,-1l13,3l9,-2l15,2l14,1M2908,1991l14,-5l9,1M3140,1777l3,26M3164,1779l3,26M3193,1780l-2,27M3217,1778l4,27M3249,1779l-6,23M2841,1809l-2,23M2869,1810l-3,21M2892,1803l-2,29M2920,1804l-3,31M2943,1804l2,29M2974,1807l-4,23M2996,1803l3,25M3021,1808l2,26M3047,1809l5,23M3079,1809l-4,26M3101,1809l3,19M3124,1807l8,24M3157,1804l-2,27M3178,1807l-2,25M3209,1804l-1,27M3236,1810l0,18M3257,1805l2,29M2749,1836l0,23M2778,1831l1,30M2805,1835l-1,27M2829,1830l2,27M2857,1835l-5,21M2878,1836l3,23M2905,1832l-1,23M2930,1829l2,33M2958,1833l5,23M2982,1830l6,28M3011,1831l-4,25M3035,1829l4,33M3060,1830l1,32M3087,1829l3,27M3115,1834l0,25M3142,1836l-4,26M3164,1835l1,21M3194,1832l3,30M3222,1834l-4,25M3248,1835l0,25M2740,1860l-1,26M2765,1862l0,19M2793,1859l-4,28M2819,1858l-3,30M2843,1861l-2,25M2870,1861l-6,26M2897,1862l0,20M2920,1857l3,28M2946,1859l2,26M2974,1860l-3,22M3001,1859l0,27M3026,1854l2,26M3052,1860l-6,25M3075,1858l-3,24M3100,1855l3,30M3127,1861l2,24M3151,1857l7,30M3180,1856l-2,31M3208,1860l-3,21M3234,1862l-1,20M2747,1882l3,25M2778,1884l-4,29M2800,1882l1,30M2826,1884l2,25M2857,1887l1,25M2885,1886l-8,26M2906,1882l5,27M2936,1885l-4,22M2958,1883l-3,29M2983,1888l3,25M3013,1886l-1,20M3038,1885l-4,22M3061,1881l0,27M3087,1881l-1,33M3116,1887l-4,25M3140,1883l-3,28M3167,1885l-1,23M2711,1909l5,23M2735,1910l1,28M2760,1913l1,27M2792,1911l2,26M2818,1911l-3,23M2843,1907l-1,31M2865,1909l1,30M2893,1909l0,26M2919,1914l4,19M2947,1908l0,31M2973,1910l0,29M3002,1907l-1,29M3025,1913l-3,26M3050,1909l-4,28M3074,1910l4,29M3101,1910l3,30M3126,1907l4,26M2724,1935l0,24M2754,1940l0,26M2781,1940l-2,25M2803,1940l4,26M2826,1935l4,26M2857,1937l2,24M2883,1933l-3,25M2907,1937l-3,23M2933,1936l-1,26M2958,1932l3,31M2988,1938l-3,23M3015,1934l0,30M3034,1935l5,28M3060,1933l7,33M3087,1940l2,21M3111,1940l7,19M2716,1966l-3,24M2737,1965l-2,25M2766,1962l0,29M2793,1963l1,24M2812,1964l4,24M2840,1964l5,24M2864,1961l3,28M2894,1959l2,33M2919,1964l3,22M2943,1961l5,24M2971,1961l1,27M3001,1963l-4,24M3022,1964l6,27M3048,1966l4,18M3080,1966l-4,21M3099,1964l4,26M2700,1987l-4,26M2723,1985l3,31M2754,1990l-4,28M2778,1986l0,24M2800,1986l1,26M2825,1989l3,24M2858,1991l-5,23M2882,1991l-4,26" fill="none" stroke="#000" stroke-width="3.0"/></g>
<g clip-path="url(#cKY)"><path transform="scale(0.2)" d="M3007,1625l7,1l17,5l8,-2l11,-3l14,2l10,-1l9,1l14,-3M2991,1653l13,-1l11,-2l14,0l9,3l14,-4l9,2l13,-1l13,4l13,-2l5,-2l15,1l10,-3l14,2l12,3l12,-4l7,1l12,4M2969,1671l11,5l16,-1l6,-3l17,4l8,0l15,-3l8,-2l13,7l9,-3l12,-4l14,6l12,0l8,-4l15,4l14,-6l9,5l9,2l14,-2l11,-3M2951,1697l10,0l13,3l9,-5l11,2l11,3l11,-2l9,-2l16,0l9,-1l14,4l13,1l11,-1l9,-5l12,5l14,0l7,-3l14,0l11,5l12,-6l9,4l13,-3l12,2l13,1M2902,1717l12,7l14,0l7,-6l14,5l8,-4l13,-2l9,4l13,2l12,-2l11,-4l13,6l10,-3l11,1l13,-1l13,4l12,-3l14,2l5,1l16,-3l7,2l12,-5l10,0l15,4l8,0l12,2l16,-5l11,-1l8,2l15,3M2823,1746l11,0l7,-1l11,-5l14,4l16,-4l5,2l11,-1l18,2l6,-2l13,1l15,3l8,0l9,0l15,0l13,-3l8,-2l12,0l12,4l9,3l17,-4l7,0l12,3l13,-4l14,-1l7,6l18,-7l8,4l9,-3l11,1l15,5l8,-2l12,-1l17,-4l11,6l10,-3l12,-3M2818,1764l18,3l9,-3l11,3l8,2l14,-1l11,-1l14,-1l14,-1l6,0l10,1l18,4l8,-3l11,-2l14,0l11,1l11,0l8,-1l16,2l8,1l14,0l8,0l12,-1l15,2l12,-6l13,4l10,2l11,-1l11,2l9,-6l16,4l9,0l8,-2l15,-1l10,1l10,3M2809,1786l14,4l11,-4l7,2l13,-1l11,6l11,-4l13,-1l13,0l10,-1l10,1l16,-1l7,5l12,-2l15,-4l10,6l13,-3l7,-3l18,5l7,0l15,-2l9,0l14,2l6,2l13,-4l17,3l5,-2l17,-3l8,4l12,0l10,-4l12,0l16,0l8,-1l9,2M2752,1810l9,6l16,-2l13,-5l10,0l13,0l8,4l10,0l12,-2l15,3l12,-3l7,3l16,0l11,-4l7,-1l16,4l9,-4l9,4l15,1l9,-4l14,4l14,-2l6,1l14,-1l11,2l9,-2l15,1l9,-1l16,-2l11,3l9,-4l10,3l11,2l12,1l13,0l12,-1M2740,1838l14,-5l10,0l8,3l18,0l11,0l6,0l13,-4l13,4l8,-1l14,-2l9,5l15,-1l11,-1l15,-1l10,-2l8,-1l15,6l13,-3l5,0l15,-1l9,1l12,1l13,-1l8,3l15,-5l10,0l10,5l15,-5l9,1l12,3l16,-5l8,3M2737,1860l12,0l16,2l13,0l12,-6l6,2l16,2l7,-5l11,6l14,-1l12,-3l11,4l15,-3l8,-2l11,5M2913,1861l9,-5l16,6M2740,1880l10,1l17,3M2776,1884l14,-6l10,5M3015,1603l-1,23M3042,1602l-3,27M3063,1604l1,24M3088,1605l-5,23M3007,1625l-3,27M3031,1631l-2,19M3050,1626l2,23M3074,1627l0,23M3097,1625l3,27M3119,1631l1,20M3140,1627l4,23M3166,1629l2,20M2991,1653l5,22M3015,1650l4,26M3038,1653l4,20M3061,1651l2,27M3087,1654l-3,17M3105,1650l5,27M3130,1648l3,29M3156,1653l0,23M3175,1650l4,26M2960,1671l1,26M2980,1676l3,19M3002,1672l3,28M3027,1676l-2,20M3050,1671l0,24M3072,1675l5,25M3098,1677l-1,17M3118,1673l5,26M3147,1671l-3,25M3165,1678l2,17M3190,1673l-1,23M2927,1701l1,23M2951,1697l-2,26M2974,1700l-4,17M2994,1697l-2,26M3016,1698l-1,19M3041,1696l-3,24M3064,1699l-2,21M3088,1699l-1,22M3109,1699l-3,25M3130,1696l-1,27M3155,1701l-4,17M3176,1699l-2,23M3201,1698l1,21M3227,1700l-6,20M2844,1724l-3,21M2867,1723l-1,21M2888,1721l-1,21M2914,1724l2,19M2935,1718l0,24M2957,1719l1,26M2979,1721l3,24M3004,1721l-1,19M3028,1723l-1,21M3049,1721l4,22M3075,1724l-3,22M3101,1723l-2,18M3122,1721l2,19M3141,1718l0,23M3166,1722l1,25M3186,1724l1,20M3213,1718l2,28M2834,1746l2,21M2852,1740l4,27M2882,1740l-4,28M2898,1741l5,25M2922,1741l1,24M2950,1745l1,25M2967,1745l3,20M2995,1742l0,24M3015,1740l-1,25M3036,1747l2,21M3060,1743l0,25M3085,1742l2,27M3106,1747l6,20M3132,1744l1,24M3152,1742l1,22M3175,1745l3,23M3204,1740l-3,25M3225,1743l-4,26M2818,1764l5,26M2845,1764l-4,24M2864,1769l1,24M2889,1767l0,21M2917,1765l-5,22M2933,1766l5,21M2959,1767l-2,23M2984,1765l-2,27M3006,1766l-4,20M3030,1767l-3,24M3052,1768l-1,21M3072,1767l-1,26M3099,1763l2,29M3122,1769l1,18M3144,1770l-1,21M3169,1768l-4,19M3186,1766l3,20M3211,1766l3,23M2766,1790l-5,26M2784,1793l6,16M2809,1786l4,23M2834,1786l-3,27M2854,1787l4,27M2876,1789l1,25M2902,1788l2,22M2922,1788l5,25M2945,1792l0,21M2972,1786l-3,24M2995,1789l2,23M3020,1791l-3,21M3042,1789l-5,23M3065,1791l-4,21M3084,1789l4,24M3106,1790l1,22M3131,1791l-1,24M3153,1787l2,27M3181,1787l-1,29M2752,1810l2,23M2777,1814l-5,22M2800,1809l1,27M2821,1813l-1,19M2843,1811l-2,24M2870,1811l-6,27M2893,1814l-3,22M2911,1809l4,24M2936,1809l2,29M2960,1814l-4,21M2983,1814l-3,21M3003,1813l2,22M3028,1814l0,19M3052,1813l-4,25M3077,1810l-5,24M3097,1809l3,23M3118,1814l3,20M3143,1815l4,21M2764,1833l1,29M2790,1836l0,20M2807,1836l5,24M2833,1836l-3,25M2855,1833l1,24M2879,1837l3,21M2905,1835l-4,26M2923,1832l-1,24M2951,1835l-6,21M2971,1834l-3,24M2992,1836l1,26M3013,1838l1,20M3038,1833l4,25M3063,1833l-2,25M3084,1837l2,19M2749,1860l1,21M2778,1862l-2,22M2796,1858l4,25M2819,1855l2,27M2844,1860l3,25M2890,1856l4,25" fill="none" stroke="#000" stroke-width="3.0"/></g>
<g clip-path="url(#cVA)"><path transform="scale(0.2)" d="M3400,1541l14,5l14,-4l9,2l13,3l11,-2l15,-3l8,-1l17,5M3385,1571l13,-6l12,2l12,3l12,1l14,-1l13,1l15,-4l9,0l18,1l10,-3l14,3M3372,1591l15,5l15,-5l13,-1l7,1l14,3l16,3l9,-3l15,1l9,-2l13,3l11,0l17,1M3347,1617l18,-2l12,6l9,-1l15,-1l8,-3l13,-1l19,5l12,-4l7,5l16,0l13,-6l11,7l12,0l14,-7l8,3l20,-2l9,3l12,2l11,-5M3327,1642l10,5l12,-4l13,2l9,-2l15,-4l17,3l11,2l10,1l16,-5l8,3l14,2l11,-4l14,1l10,-1l16,4l9,-4l15,5l15,0l14,-3l10,4l10,-5M3314,1667l14,3l12,-1l9,-4l12,5l16,0l9,-6l13,8l16,-7l8,3l17,0l6,0l13,4l15,-7l15,5l9,1l18,-6l10,-1l8,2l14,-2l17,1l7,6l12,-7l14,2M3301,1695l15,-1l9,-2l16,3l12,0l8,-5l14,2l11,2l16,1l7,-5l17,0l7,5l13,0l19,-4l8,1l15,2l15,-1l7,2l14,-4l16,1l11,0l12,4l9,-4l16,3l15,-3l10,-2M3202,1719l8,-3l16,4l13,-4l12,5l11,1l17,-6l6,3l17,1l7,-4l16,6l8,-4l13,0l20,-1l11,0l7,-2l13,7l12,-1l19,-1l9,2l16,-1l10,-2l14,-5l7,8l18,-2l9,-2l15,0l9,1l14,1l16,-2l7,-1l13,-2l13,2l12,-2l18,2l12,4M3201,1741l8,4l18,-3l11,1l14,-1l9,-2l12,1l14,5l11,-2l15,-4l12,7l14,-2l7,0l19,-2l7,1l15,-4l12,0l17,4l11,0l14,-2l7,4l14,-5l16,-1l12,-1l11,7l11,-3l11,1l15,0l15,-4l11,6l13,1l11,-6l9,0l13,5M3152,1769l12,1l7,-3l16,2l13,-2l16,4l11,-5l8,2l13,-4l14,5l12,-5l12,3l14,3l9,-2l15,-1l10,1l12,-3l19,1l6,5l18,-6l13,5l7,0l13,-1l12,1l19,-5l9,2l10,0l19,-1l10,0l14,0M3126,1796l15,-2l7,-2l15,4l12,-6l15,5l10,-4l12,4l9,-4l13,5l15,-3l10,-3l14,5l12,-3l17,-2l9,6l15,-6l12,1l13,0l10,1l11,5l18,-7l10,7M3113,1817l11,0l14,0l15,1l11,-1l8,0l14,3l17,1M3216,1821l7,-6l11,4l18,-4l8,6M3412,1517l2,29M3436,1516l1,28M3464,1516l-3,29M3485,1519l-1,22M3400,1541l-2,24M3428,1542l-6,28M3450,1547l-2,23M3476,1542l0,25M3501,1546l2,22M3385,1571l2,25M3410,1567l5,23M3434,1571l2,23M3461,1571l0,23M3485,1567l0,26M3513,1565l-4,31M3372,1591l5,30M3402,1591l-1,28M3422,1591l0,24M3452,1597l1,19M3476,1595l0,26M3498,1596l2,26M3526,1597l0,18M3547,1595l7,21M3572,1596l3,25M3336,1615l1,32M3365,1615l-3,30M3386,1620l0,19M3409,1616l5,28M3441,1620l-1,20M3460,1621l2,24M3489,1615l-2,27M3512,1622l1,23M3534,1618l3,28M3563,1619l3,24M3327,1642l1,28M3349,1643l0,22M3371,1643l6,27M3403,1642l-4,30M3424,1645l-1,23M3448,1643l-2,25M3473,1641l1,24M3497,1641l1,30M3522,1641l4,23M3552,1646l-4,18M3576,1647l-4,24M3314,1667l2,27M3340,1669l1,26M3361,1670l0,20M3386,1664l0,30M3415,1665l-6,25M3440,1668l-7,27M3459,1672l6,19M3489,1670l-1,24M3516,1665l-6,30M3534,1666l6,26M3565,1665l-2,31M3584,1664l4,31M3228,1697l-2,23M3251,1692l0,29M3279,1693l0,23M3301,1695l1,25M3325,1692l0,30M3353,1695l-7,23M3375,1692l2,25M3402,1695l-5,27M3426,1690l2,30M3446,1695l7,26M3473,1692l4,22M3503,1693l-1,27M3524,1691l2,27M3551,1692l-2,28M3572,1692l0,25M3603,1692l-5,25M3626,1694l2,23M3210,1716l-1,29M3239,1716l-1,27M3262,1722l-1,18M3285,1719l2,27M3309,1716l4,24M3333,1718l6,27M3366,1717l-1,26M3384,1715l3,25M3409,1721l7,23M3437,1722l4,20M3463,1719l-1,22M3484,1722l6,17M3511,1718l1,25M3535,1719l3,25M3565,1718l-1,28M3585,1715l3,26M3610,1715l0,31M3176,1746l-5,21M3201,1741l-1,26M3227,1742l0,24M3252,1742l-4,22M3273,1741l1,23M3298,1744l2,26M3325,1747l-1,20M3346,1745l0,20M3372,1744l-1,27M3399,1740l3,30M3427,1744l-5,25M3448,1746l5,19M3478,1740l-6,27M3501,1746l0,20M3523,1744l-1,28M3553,1740l-1,30M3577,1747l-2,23M3597,1741l1,27M3137,1767l4,27M3164,1770l-1,26M3187,1769l3,26M3216,1771l-4,24M3235,1768l-1,28M3262,1769l-3,21M3286,1767l-1,25M3309,1768l2,28M3334,1768l4,23M3365,1766l-4,26M3389,1765l1,25M3409,1770l5,21M3434,1770l0,25M3462,1767l-2,23M3491,1766l-2,27M3126,1796l-2,21M3148,1792l5,26M3175,1790l-3,27M3200,1791l3,30M3221,1791l2,24M3249,1793l3,22M3273,1795l0,23M3302,1790l-5,31M3326,1790l2,25M3351,1791l0,23M3113,1817l0,25M3138,1817l-4,25M3164,1817l0,24M3186,1820l0,23" fill="none" stroke="#000" stroke-width="3.0"/></g>
<g clip-path="url(#cWV)"><path transform="scale(0.2)" d="M3261,1451l14,4l12,-3M3240,1476l17,5l13,-1l14,-2M3232,1511l16,0l8,-1l13,-6l19,4l10,2M3394,1510l16,1l15,-1l11,-6l19,7M3228,1538l20,-6l9,5l18,-6l6,7l21,0l13,-5l17,2l7,0l13,4l22,-6l13,-2l11,3l17,-1l13,0l12,4l13,-3M3215,1563l12,-4l21,4l6,-2l16,1l13,5l18,-4l12,2l15,-4l13,-1l16,2l9,-2l16,3l16,2l15,-4l12,4l11,-2l19,3M3189,1587l8,3l20,0l9,4l19,0l14,-6l14,7l13,-5l13,3l11,-1l15,-2l19,2l16,-1l8,2l16,1l12,-3l14,3l18,-3M3155,1621l22,-4l7,3l13,-4l15,4l15,0l17,1l10,-6l21,4l10,2l19,-3l11,-1l10,4l14,0l19,-3l12,4l10,-1l16,2M3141,1643l23,6l13,-3l6,4l17,0l15,0l19,-3l5,1l23,0l11,-2l12,0l14,5l16,-9l11,8l14,-6l18,-1l10,6M3148,1676l13,1l14,1l10,-7l20,8l13,-1l12,-5l15,3l11,-1l14,1l16,-3l13,6l11,-2l21,-1l13,3l9,-5l20,1M3159,1703l19,1l8,-4l19,3l8,3l20,-1l6,-2l19,-3l17,4l13,-2l13,0l12,3l17,2l14,-4M3185,1734l19,-7l13,6l11,2l16,-1l10,-6l15,0l14,2l19,-3l9,5M3261,1451l-4,30M3240,1476l8,35M3270,1480l-1,24M3415,1475l-5,36M3436,1475l0,29M3256,1510l1,27M3288,1508l-7,30M3311,1506l4,27M3340,1510l-1,25M3371,1506l3,27M3394,1510l4,24M3425,1510l3,23M3455,1511l-2,23M3248,1532l0,31M3275,1531l-5,31M3302,1538l-1,25M3332,1535l-4,26M3352,1539l5,23M3387,1531l-5,32M3415,1533l-2,28M3440,1537l-4,26M3204,1560l-7,30M3227,1559l-1,35M3254,1561l5,27M3283,1567l3,23M3313,1565l-3,27M3341,1560l3,32M3366,1560l2,33M3398,1565l-2,26M3425,1565l3,26M3189,1587l-5,33M3217,1590l-5,30M3245,1594l-1,27M3273,1595l2,24M3299,1593l5,25M3325,1590l0,31M3360,1591l-2,27M3384,1594l-4,27M3410,1594l-2,26M3177,1617l0,29M3197,1616l3,34M3227,1620l7,27M3254,1615l8,33M3285,1621l0,25M3315,1617l0,25M3339,1621l1,23M3370,1622l-2,27M3164,1649l-3,28M3183,1650l2,21M3215,1650l3,28M3239,1648l6,28M3273,1646l-3,30M3299,1651l0,28M3326,1650l5,26M3358,1643l-5,31M3175,1678l3,26M3205,1679l0,24M3230,1673l3,32M3256,1675l2,25M3286,1673l2,29M3310,1677l3,28M3344,1679l0,24M3186,1700l-1,34M3213,1706l4,27M3239,1703l5,31M3275,1704l-6,24M3301,1702l1,25M3330,1707l-4,25M3204,1727l-1,36M3228,1735l-2,28M3254,1728l3,27M3283,1730l4,27" fill="none" stroke="#000" stroke-width="3.0"/></g>
<g clip-path="url(#cOH)"><path transform="scale(0.2)" d="M3200,1373l14,-2l19,-1l12,-3l11,4l16,-3M3022,1393l8,7l19,-3l14,1l8,0l20,3l8,-3l22,3l11,-2M3142,1397l19,4l10,-2l12,0l19,2l16,-7l13,0l15,4l13,-2l11,-2M2975,1423l15,-2l18,7l7,-6l15,-1l21,4l6,-2l19,-1l17,3l10,-1l16,0l8,2l20,-4l13,3l14,4l11,-5l17,3l16,-3l14,-1l8,1l21,-3l12,2M2978,1451l15,5l15,0l12,-1l17,-2l14,-4l13,6l9,-2l15,3l19,-3l11,-4l10,4l20,-3l8,6l21,-7l12,3l16,-2l9,4l19,-5l9,8l12,-3l20,2M2981,1480l14,0l7,0l18,-3l15,6l11,-2l17,1l11,-3l19,-2l11,5l13,2l14,-4l14,0l14,-1l16,0l11,4l11,-2l20,4l12,-3l18,-4l6,1l21,4M2976,1508l18,3l10,-1l12,1l19,-1l10,-1l19,0l12,-2l16,-1l13,6l12,-1l15,-1l9,2l15,-7l15,5l16,2l18,-2l6,2l16,-6l13,7l20,-6l15,4M2989,1537l19,-2l10,6l16,-6l16,4l10,-1l13,-1l12,2l22,2l6,0l21,-2l15,1l10,-7l11,3l19,2l10,-1l16,4l13,0l17,-4l15,4l12,-5M2993,1562l9,7l15,-4l13,4l15,-6l16,0l11,0l21,0l6,-2l22,7l13,-3l12,0l14,-2l16,2l10,0l18,-4l11,2l17,-1l11,1l19,1M2989,1596l21,-1l5,2l14,-1l17,1l20,-7l7,6l12,-4l17,0l18,-3l14,1l8,5l17,-5l14,4l11,-2l14,2l16,0l14,-4l16,7M3002,1620l14,2l19,-4l10,7l16,-2l12,0l14,0l18,1l15,-3l12,-2l14,-2l15,4l15,-3l7,3l16,-4l19,6M3047,1651l17,-5l9,7l13,0l14,-3l20,-5l13,3l14,0l10,-2l14,4l18,-3l15,3M3228,1337l5,33M3255,1338l1,33M3077,1370l-6,28M3103,1371l-4,27M3157,1366l4,35M3187,1368l-4,31M3214,1371l4,23M3245,1367l1,31M3005,1400l3,28M3030,1400l0,21M3063,1398l-6,25M3091,1401l2,24M3121,1401l-2,23M3142,1397l5,25M3171,1399l3,30M3202,1401l0,26M3231,1394l1,29M3259,1396l2,25M2990,1421l3,35M3015,1422l5,33M3051,1425l0,24M3076,1422l-3,31M3103,1424l4,29M3127,1426l1,27M3160,1425l-4,31M3185,1424l4,28M3218,1424l-4,30M3240,1424l2,33M3273,1423l1,33M3008,1456l-6,24M3037,1453l-2,30M3064,1455l-1,27M3088,1456l5,21M3118,1449l-1,35M3148,1450l-3,30M3177,1449l-2,30M3205,1450l-8,31M3233,1449l-4,33M3254,1454l-1,25M2995,1480l-1,31M3020,1477l-4,34M3046,1481l-1,28M3074,1479l2,28M3104,1482l1,30M3131,1480l1,30M3159,1479l-3,26M3186,1483l1,29M3217,1485l-6,27M3247,1478l-7,35M3274,1483l1,28M3004,1510l4,25M3035,1510l-1,25M3064,1509l-4,29M3092,1506l-7,33M3117,1511l-4,30M3141,1512l8,28M3171,1510l-1,26M3205,1510l-6,27M3227,1506l1,35M3260,1507l0,34M3018,1541l-1,24M3050,1539l-5,24M3073,1537l-1,26M3107,1541l-8,20M3134,1539l0,26M3159,1533l1,30M3189,1538l-3,27M3215,1541l0,22M3245,1537l-2,26M3272,1536l0,33M3002,1569l8,26M3030,1569l-1,27M3061,1563l5,27M3093,1563l-8,29M3121,1568l-1,21M3146,1565l-4,30M3176,1565l-3,29M3204,1561l-6,33M3232,1562l-4,28M3015,1597l1,25M3046,1597l-1,28M3073,1596l0,27M3102,1592l3,32M3134,1590l-2,29M3159,1590l2,31M3184,1592l-1,29M3214,1594l4,29M3035,1618l0,35M3061,1623l3,23M3087,1623l-1,30M3120,1621l0,24M3146,1617l1,31M3176,1618l-5,32M3199,1617l5,33M3073,1653l2,27M3100,1650l2,25M3133,1648l-2,30M3157,1646l-2,34M3189,1647l-5,30" fill="none" stroke="#000" stroke-width="3.0"/></g>
<g clip-path="url(#cIN)"><path transform="scale(0.2)" d="M2956,1408l18,0l8,-7M2819,1429l16,0l9,0l12,1l14,-4l12,3l16,4l13,-7l7,6l19,-2l12,-3l6,4l16,-3l13,1l12,-2l9,6l19,0M2821,1453l16,2l7,0l16,1l10,-5l17,7l7,-7l11,7l16,-6l14,2l10,3l15,-4l13,-2l8,5l14,0l17,-3l9,2M2819,1480l18,0l9,-1l9,-2l18,1l11,0l15,4l13,-1l10,-2l9,-1l12,4l18,-6l12,2l13,0l10,1l13,-3l9,3l15,-3M2819,1508l11,-1l19,-4l7,2l15,-3l14,5l11,-2l16,-1l7,-1l18,1l12,2l10,0l11,-5l16,7l10,-4l16,3l6,-6l12,6M2824,1526l9,-1l13,2l14,6l9,-3l14,-2l14,0l8,3l15,-3l14,-2l11,4l11,-1l11,3l20,-6l11,4l11,1l14,-2l7,3M2820,1556l13,-4l9,-1l15,4l11,3l14,0l13,-4l14,1l9,-2l18,2l14,-5l6,7l12,0l18,-1l9,-5l12,1l12,5l12,-4M2831,1581l19,-3l7,2l16,2l12,-1l10,1l15,0l9,-3l16,2l9,-1l11,3l15,-7l15,-1l13,7l9,-1l10,-1l17,-5M2831,1601l15,-1l10,8l14,-3l11,-4l17,2l13,4l14,0l5,-5l13,4l18,-3l12,-1l12,3l7,-2l20,3l8,1l10,1l13,-2M2835,1628l10,-1l12,2l11,2l14,-5l16,0l9,5l10,-4l20,3l13,-1l7,-2l15,5l8,-3l17,-4l8,7l14,-1l18,-4l6,5M2834,1654l10,2l18,2l9,0l9,-1l18,1l10,-7l10,0l14,0l14,5l12,-5l12,1l10,-1l13,4l15,1l17,-4l6,0l13,6M2832,1677l17,4l12,0l12,-2l8,-3l14,1l16,5l10,-5l10,-1l18,1l13,4l11,1l11,0l9,0l14,0l14,1M2834,1708l14,-6l8,1l12,3l15,-2l12,-3l17,4l7,2l17,-3l13,2l7,-4l18,4l10,-3l15,0M2820,1728l14,4l11,-2l11,1l17,2l13,-4l7,2l17,-5l14,3l12,2l7,0l12,-1l16,-1M2819,1756l15,1l15,-6l10,6l15,-3l11,-2l9,3l13,2M2849,1404l-5,25M2868,1402l2,24M2892,1408l6,25M2918,1405l0,27M2944,1406l5,21M2974,1408l-3,20M2995,1401l1,26M2835,1429l2,26M2856,1430l4,26M2882,1429l5,29M2911,1426l-6,32M2937,1430l-2,24M2955,1431l5,22M2984,1429l-3,27M3005,1433l7,20M2844,1455l2,24M2870,1451l3,27M2894,1451l5,31M2921,1452l1,27M2945,1457l-2,25M2973,1451l0,27M2995,1456l1,23M3021,1455l-3,24M2837,1480l-7,27M2855,1477l1,28M2884,1478l1,29M2912,1481l0,23M2931,1478l6,26M2961,1476l-2,30M2986,1478l0,30M3009,1476l3,31M2849,1503l-3,24M2871,1502l-2,28M2896,1505l1,23M2919,1503l1,25M2949,1506l-4,24M2970,1501l-3,31M2996,1504l2,26M3018,1501l5,28M2833,1525l0,27M2860,1533l-3,22M2883,1528l-1,30M2905,1531l4,24M2934,1526l2,29M2956,1529l0,28M2987,1526l-1,30M3009,1531l-2,21M2842,1551l8,27M2868,1558l5,24M2895,1554l0,28M2918,1553l1,26M2950,1550l-6,30M2968,1557l2,19M2995,1551l3,31M3019,1557l-2,23M2857,1580l-1,28M2885,1581l-4,20M2910,1582l1,25M2935,1581l-5,21M2955,1583l6,20M2985,1575l0,30M3007,1581l5,25M3034,1575l-4,33M2846,1600l-1,27M2870,1605l-2,26M2898,1603l0,23M2925,1607l-8,20M2943,1606l7,23M2973,1602l-1,30M2992,1603l5,22M3020,1607l-1,24M2857,1629l5,29M2882,1626l-2,31M2907,1631l1,20M2937,1630l-5,21M2957,1627l1,24M2980,1629l0,22M3005,1632l3,24M3037,1627l-6,25M2844,1656l5,25M2871,1658l2,21M2898,1658l-3,19M2918,1651l3,26M2946,1656l3,21M2970,1652l3,30M2993,1655l0,27M3025,1652l-4,31M2861,1681l-5,22M2881,1676l2,28M2911,1682l1,23M2931,1676l5,28M2962,1681l-6,21M2984,1682l0,21M3007,1682l4,24M2848,1702l-3,28M2868,1706l5,27M2895,1701l-2,30M2919,1707l5,22M2949,1706l-6,25M2974,1706l-3,23M2834,1732l0,25M2856,1731l3,26M2886,1729l-1,23M2910,1726l-3,31M2936,1731l-4,23M2955,1730l3,27M2849,1751l-2,26M2874,1754l-1,28M2894,1755l2,27" fill="none" stroke="#000" stroke-width="3.0"/></g>
<g clip-path="url(#cIL)"><path transform="scale(0.2)" d="M2762,1368l18,2l12,-8M2805,1364l14,6l19,1M2629,1394l20,-1l14,4l9,-3l14,5l21,-6l12,0l17,-2l15,7l8,-4l19,-3l10,8l17,-7l11,0l21,5M2643,1427l15,0l21,-7l9,2l12,6l15,-5l21,4l8,-4l15,5l18,-8l13,6l11,2l18,-1l13,0l16,-5M2629,1449l20,2l11,0l10,6l24,0l7,-5l13,0l22,-2l11,1l14,-2l18,8l16,-5l7,-2l20,-1l17,1l14,-1M2618,1480l11,-2l18,3l9,-3l22,7l10,-5l12,0l16,6l20,0l8,0l15,-4l16,-1l15,-3l12,8l15,-8l20,7l13,0l11,0M2601,1510l16,4l16,-4l17,5l12,-8l16,7l10,-4l14,2l19,-5l13,0l13,0l11,2l18,0l11,3l20,-2l10,2l18,-3l14,-2l10,7M2592,1541l7,3l20,0l16,-4l11,-3l13,0l12,3l16,-2l16,4l14,-2l13,1l18,-2l16,4l11,-3l13,3l15,-3l14,3l22,0l13,-5l7,0M2584,1574l21,-6l12,2l13,3l20,-4l9,-4l15,3l19,1l13,4l13,0l9,-6l19,-2l18,4l12,-1l11,3l18,-2l16,-3l12,2l15,-2l17,6M2586,1598l14,2l16,-5l14,8l17,-5l16,1l12,2l18,-1l14,2l15,-7l13,5l16,2l9,-1l18,0l12,-6l15,1l19,7l11,-6l15,2l10,0M2600,1626l16,-1l13,2l18,3l11,-5l17,-2l14,1l15,5l18,-6l11,5l15,3l15,0l10,-6l21,-2l11,0l18,7l7,0l19,-6l13,4M2635,1660l12,-8l12,6l16,2l11,-4l19,4l15,-5l13,-3l17,3l10,1l20,1l12,-5l11,0l18,1l15,0l17,0l10,4M2671,1686l21,-2l9,0l13,-3l15,1l20,7l14,-2l17,2l7,0l20,-1l9,-4l21,-3l12,3l10,6M2660,1710l17,5l8,4l19,-7l19,2l7,-1l15,0l14,1l17,-3l13,3l17,0l18,4l6,-5l23,5l13,-2M2687,1746l15,-3l15,3l16,-2l18,-5l14,2l11,-2l12,5l16,2l20,-6l7,0l21,-1l12,4M2704,1777l19,-6l8,6l15,-6l19,5l14,-3l15,-3l14,2l16,1l7,-2l18,-2l13,-1M2730,1805l13,0l22,-5l13,3l14,-3l16,4l11,-2l18,1l15,-4M2729,1829l22,-2l6,7l22,-8l14,2l16,0l12,-1M2645,1367l4,26M2675,1370l-3,24M2703,1369l4,24M2737,1362l-1,29M2762,1368l-3,26M2792,1362l-4,37M2819,1370l-3,22M2663,1397l-5,30M2686,1399l2,23M2719,1393l-4,30M2751,1398l-7,25M2778,1391l-1,29M2805,1392l-4,36M2837,1397l-5,30M2643,1427l6,24M2679,1420l-9,37M2700,1428l1,24M2736,1427l0,23M2759,1428l2,21M2790,1426l5,26M2819,1427l3,22M2629,1449l0,29M2660,1451l-4,27M2694,1457l-6,23M2714,1452l2,34M2747,1451l-3,35M2779,1457l-4,24M2802,1450l0,36M2839,1450l-2,35M2618,1480l-1,34M2647,1481l3,34M2678,1485l0,29M2700,1480l2,32M2736,1486l-2,21M2759,1482l-1,27M2790,1478l-3,34M2817,1478l0,34M2850,1485l-1,22M2601,1510l-2,34M2633,1510l2,30M2662,1507l-3,30M2688,1510l-1,28M2721,1507l-4,33M2747,1507l1,32M2776,1509l-1,31M2807,1510l-4,30M2835,1509l4,34M2859,1514l0,24M2619,1544l-2,26M2646,1537l4,32M2671,1540l3,28M2703,1542l3,31M2730,1541l-2,26M2764,1543l1,26M2788,1543l0,28M2817,1543l5,23M2852,1538l-3,28M2605,1568l-5,32M2630,1573l0,30M2659,1565l4,34M2693,1569l0,31M2719,1573l3,22M2747,1565l4,37M2777,1568l1,33M2806,1569l-1,27M2834,1568l1,29M2866,1572l-6,27M2616,1595l0,30M2647,1598l0,32M2675,1601l0,22M2707,1602l-3,27M2735,1600l-2,28M2760,1601l3,30M2790,1595l4,28M2824,1603l-1,27M2850,1599l-1,25M2629,1627l6,33M2658,1625l1,33M2689,1624l-3,32M2722,1623l-2,32M2748,1631l2,24M2773,1625l7,32M2805,1623l-2,29M2830,1630l6,23M2862,1628l1,29M2647,1652l1,36M2675,1660l-4,26M2705,1660l-4,24M2733,1652l-4,30M2760,1656l3,31M2792,1652l-5,37M2821,1653l-5,31M2853,1653l-4,31M2692,1684l-7,35M2714,1681l9,33M2749,1689l-4,24M2780,1689l-4,22M2807,1688l-1,26M2837,1681l-7,32M2859,1690l7,26M2677,1715l-5,32M2704,1712l-2,31M2730,1713l3,31M2759,1714l6,27M2789,1714l-1,30M2824,1718l0,22M2853,1718l-1,21M2717,1746l6,25M2751,1739l-5,32M2776,1739l3,34M2804,1746l4,26M2831,1740l0,31M2731,1777l-1,28M2765,1776l0,24M2794,1770l-2,30M2824,1773l-5,29M2849,1769l3,30M2743,1805l8,22M2778,1803l1,23M2808,1804l1,24M2837,1803l-5,25M2793,1828l1,29" fill="none" stroke="#000" stroke-width="3.0"/></g>
<g clip-path="url(#cWI)"><path transform="scale(0.2)" d="M2518,1053l11,2l25,1l15,3l23,-7l12,2l24,5l13,0l15,-2M2514,1095l19,-7l15,2l25,4l20,1l12,-7l16,5l21,-3l15,0l18,1l22,-2l18,6l13,0l29,-10M2482,1125l20,1l16,4l13,-2l18,-5l17,6l27,-1l12,-7l20,11l21,-8l9,3l21,0l26,-5l13,1l16,0l23,9l13,0l25,0l17,-8M2474,1159l25,1l17,3l22,-4l18,4l18,1l8,-6l27,9l19,-5l17,1l13,3l20,2l19,-8l14,0l24,5l14,3l18,-8l23,3l15,-5l24,0l9,11M2484,1203l15,0l14,-8l19,8l24,0l19,-5l10,6l23,2l16,-9l21,-2l19,3l14,4l15,3l18,0l27,-1l14,-2l22,-5l18,1l17,-1l12,4l28,-5M2509,1240l27,-1l20,0l18,-4l16,7l22,-2l9,-8l21,2l16,-2l25,7l15,-3l21,-2l10,5l18,-7l18,10l28,0l14,-10l13,7l18,-1M2556,1278l12,-5l23,1l13,-1l15,4l20,-7l25,0l13,-1l23,4l12,-5l21,11l20,-6l20,-1l21,6l11,-1l18,-7l17,-2M2565,1309l26,-5l19,2l14,0l22,6l15,-5l19,6l22,2l13,-5l19,-4l24,-2l18,11l14,-10l17,8l12,-9l24,11M2582,1347l23,0l25,-5l11,9l15,-2l25,-4l21,-4l8,5l25,6l12,-3l27,-8l16,8l21,2l19,-8M2601,1382l24,5l21,-3l9,-6l30,3l10,-1l20,6l22,-3l16,-5l17,-1l24,4l9,3l25,0M2548,1016l6,40M2589,1019l3,33M2621,1017l7,42M2529,1055l4,33M2569,1059l4,35M2604,1054l1,34M2641,1059l1,31M2680,1058l-5,33M2719,1055l-4,40M2514,1095l4,35M2548,1090l1,33M2593,1095l0,33M2621,1093l4,39M2657,1090l-2,37M2697,1089l5,33M2728,1095l3,28M2776,1086l-9,46M2502,1126l-3,34M2531,1128l7,31M2566,1129l8,35M2605,1121l4,46M2646,1124l-1,39M2676,1127l2,41M2715,1123l-4,37M2754,1132l-5,36M2792,1132l-2,31M2830,1126l-1,32M2516,1163l-3,32M2556,1163l0,40M2582,1158l3,46M2628,1162l-4,35M2658,1166l6,32M2697,1160l-4,45M2735,1165l3,39M2767,1160l7,37M2805,1158l4,39M2838,1169l11,27M2499,1203l3,35M2532,1203l4,36M2575,1198l-1,37M2608,1206l4,34M2645,1195l-3,39M2678,1202l5,37M2711,1205l8,29M2752,1202l-5,30M2792,1198l1,44M2821,1201l-1,38M2556,1239l0,39M2590,1242l1,32M2621,1232l-2,45M2658,1232l6,38M2698,1236l2,37M2729,1239l4,40M2765,1242l8,30M2807,1232l-2,45M2568,1273l-3,36M2604,1273l6,33M2639,1270l7,42M2677,1269l3,44M2712,1268l3,42M2753,1273l5,31M2794,1278l-4,27M2823,1270l-4,34M2591,1304l-9,43M2624,1306l6,36M2661,1307l-5,42M2702,1315l0,26M2734,1306l1,46M2776,1315l-2,26M2807,1313l4,38M2605,1347l-4,35M2641,1351l5,33M2681,1345l4,36M2710,1346l5,40M2747,1349l6,29M2790,1349l4,32M2625,1387l-1,28M2655,1378l3,37M2695,1380l0,35M2737,1383l-4,33M2770,1377l4,37M2803,1384l8,37" fill="none" stroke="#000" stroke-width="3.0"/></g>
<g clip-path="url(#cMI)"><path transform="scale(0.2)" d="M2729,990l14,7l15,-6l18,6l14,-7M2694,1022l19,4l14,3l15,-7l24,4M2856,1022l19,3l16,-3l19,9l16,-9l10,1l19,0l11,0M2618,1063l16,-1l11,-1l18,2l18,-10l17,2l13,3l24,2l14,-6l9,5l16,-5l15,3l18,-2l21,6l11,0l20,1l15,-5l20,-2l11,6l14,-3l19,-3l14,-2l14,3l24,4l10,-2l13,-1l24,-4M2638,1093l7,-1l16,-3l20,5l14,-4l22,5l16,-2l11,-8l13,8l21,-2l14,4l23,-4l9,1l19,0l19,-4l16,2l8,4l19,-7l17,2l18,4l17,1l17,-7l13,1l18,5M2733,1127l11,-7l18,-1l18,7l18,-4l17,-4l11,7l15,-2l12,2M2903,1119l23,7l14,-6l14,6l17,0l19,-1l11,0l12,0l26,0l15,0M2761,1155l20,-1l17,6l8,-2l22,-3M2871,1151l16,0l23,2l14,-2l9,0l20,8l19,-5l11,-3l18,7l15,-4l18,5l12,-3l21,0M2870,1191l22,-2l10,-3l17,-1l20,2l10,-5l21,8l12,-1l16,1l25,1l6,-3l18,-1l17,2l20,-4M2853,1219l18,1l14,-3l24,6l10,-1l23,-4l12,-4l18,2l14,0l19,4l15,-1l10,4l22,-4l17,-2l15,2l17,2M2863,1254l8,-5l16,-4l21,5l9,-1l22,-3l15,-1l16,8l11,-4l23,0l9,1l23,-4l17,7l10,-2l22,-3l10,4l17,-2l21,-1M2856,1278l21,7l17,-6l8,1l17,7l21,0l11,-6l20,5l14,-4l20,-3l10,-1l19,3l17,-1l10,3l16,1l18,3l14,-5l19,3M2869,1310l21,0l14,4l18,1l15,-3l12,5l20,-2l17,-2l19,-1l12,5l14,-4l14,5l17,1l24,-3l12,1l20,-3l8,4M2874,1346l13,-4l21,7l12,-3l18,4l21,-5l15,1l11,3l14,-5l21,6l18,-6l15,6l14,-1l17,-5l19,5l9,-2l13,-2M2872,1377l16,-1l20,-1l10,5l17,-3l15,0l22,6l9,-2l19,2l16,-3l22,1l7,0l23,-3l13,4l15,-5l13,-1M2862,1410l9,3l23,-1l13,-3l12,4l21,-2l15,-2l14,0l20,1l15,0l15,-5l16,0l18,2l13,5l18,3l14,-10M2860,1445l12,0l14,-6l24,4l16,3M2746,965l-3,32M2780,960l-4,37M2729,990l-2,39M2758,991l8,35M2886,989l5,33M2925,996l1,26M2953,997l2,26M2649,1025l-4,36M2677,1029l4,24M2713,1026l-2,32M2742,1022l7,32M2773,1023l1,31M2806,1025l1,30M2846,1028l-7,33M2875,1025l-1,32M2910,1031l-5,30M2936,1023l2,32M2966,1023l0,33M2999,1024l1,34M2634,1062l4,31M2663,1063l-2,26M2698,1055l-3,35M2735,1060l-2,33M2758,1059l-1,34M2789,1057l3,38M2828,1061l-4,31M2859,1062l3,26M2894,1055l-8,39M2919,1058l3,31M2952,1053l5,41M2990,1060l-3,28M3013,1057l8,36M2645,1092l3,31M2681,1094l3,29M2717,1095l1,28M2744,1085l0,35M2778,1091l2,35M2815,1091l0,27M2843,1092l-2,31M2878,1090l1,30M2905,1087l-2,32M2940,1093l0,27M2974,1087l-3,39M3005,1093l-4,32M3030,1088l9,37M2762,1119l-1,36M2798,1122l0,38M2826,1125l2,30M2887,1126l0,25M2926,1126l-2,25M2954,1126l-1,33M2990,1125l-7,26M3013,1125l3,29M3054,1125l-8,31M2781,1154l-7,33M2806,1158l-1,31M2910,1153l-8,33M2933,1151l6,36M2972,1154l-2,36M3001,1158l-3,32M3034,1159l-5,29M3067,1156l-3,33M2892,1189l-7,28M2919,1185l0,37M2949,1182l5,32M2982,1189l4,27M3023,1191l-3,28M3047,1187l5,32M3084,1185l0,34M2871,1220l0,29M2909,1223l-1,27M2942,1218l-3,28M2972,1216l-2,37M3005,1220l-1,29M3030,1223l6,23M3069,1217l-6,34M3101,1221l-6,31M2887,1245l7,34M2917,1249l2,38M2954,1245l-3,36M2981,1249l4,33M3013,1250l2,28M3053,1253l-2,27M3085,1248l-8,36M3112,1250l-3,32M2877,1285l-8,25M2902,1280l2,34M2940,1287l-3,25M2971,1286l-2,29M3005,1279l0,33M3034,1281l-3,32M3061,1283l1,36M3095,1287l3,30M3128,1285l-2,33M2890,1310l-3,32M2922,1315l-2,31M2949,1317l10,28M2986,1313l-1,36M3017,1317l3,33M3045,1318l8,32M3086,1316l-2,28M3118,1314l-6,33M2908,1349l0,26M2938,1350l-3,27M2974,1346l-2,37M2999,1344l1,39M3038,1344l0,37M3067,1349l1,29M3103,1349l-7,28M3125,1345l4,34M2888,1376l6,36M2918,1380l1,33M2950,1377l5,32M2981,1381l8,29M3016,1380l3,25M3045,1381l8,26M3081,1382l3,33M2871,1413l1,32M2907,1409l3,34M2940,1411l-7,33M2969,1409l4,30M3004,1410l1,33M3035,1405l-4,41M3066,1412l4,32" fill="none" stroke="#000" stroke-width="3.0"/></g>
<g clip-path="url(#cPA)"><path transform="scale(0.2)" d="M3515,1285l19,0l15,0l14,-6M3361,1311l15,6l16,-7l16,4l16,4l14,-7l16,7l12,-7l20,3l14,1l12,-6l23,8l15,0l13,-8l18,4l19,5M3245,1341l17,0l17,6l22,-4l6,7l21,-1l13,-2l15,-2l14,3l20,-8l14,10l17,0l20,-4l12,0l15,2l18,-8l15,7l18,-3l15,-4l13,4l22,5l15,-3l13,-3l17,2M3238,1373l15,8l12,-8l13,0l19,-1l17,8l14,-2l16,0l14,-2l18,-3l18,2l16,-2l9,4l22,1l14,-1l13,-2l21,-1l9,4l15,-5l22,8l18,-4l9,0l18,3l14,-7l18,8M3237,1407l14,-2l16,6l12,-8l16,8l12,-1l17,-6l16,-1l20,1l16,6l10,-3l18,6l20,-9l17,9l15,0l14,-7l10,-2l21,7l21,-1l7,0l16,-5l22,-1l16,2l16,6l11,-9l12,8M3236,1436l17,2l12,2l14,4l14,-4l17,0l18,2l18,0l9,1l20,-5l11,6l21,0l15,-2l16,-7l13,3l15,5l23,-6l16,2l12,-1l20,-2l10,4l16,-2l15,5l13,-8l19,9l16,-6M3247,1468l17,-1l19,0l13,2l17,-1l14,4l13,0l18,3l17,-3l19,0l11,-3l13,-3l15,6l25,-4l13,8l17,-3l16,-7l13,4l12,-3l19,-1l12,4l20,5l20,-8l10,9M3252,1507l17,-6l12,-2l14,8l13,0l21,-2l11,0l17,-3l16,4l15,-4l20,0l15,-3l19,4l14,2l17,-5l10,-1l19,-1l18,4l13,-3l13,3M3249,1539l17,-9l19,6l11,-2l17,-3l17,4l16,-2l9,0l20,5M3418,1282l6,36M3449,1282l5,36M3488,1282l-2,32M3515,1285l-3,24M3549,1285l1,32M3579,1281l2,32M3277,1314l2,33M3311,1315l-4,35M3343,1309l-2,38M3376,1317l-6,31M3408,1314l-4,36M3438,1311l3,35M3466,1311l2,37M3500,1315l1,32M3535,1317l-1,23M3563,1309l6,40M3600,1318l-3,25M3238,1343l0,30M3262,1341l3,32M3301,1343l-4,29M3328,1349l0,29M3356,1345l2,31M3390,1340l4,35M3421,1350l-2,27M3453,1346l2,31M3486,1340l3,34M3519,1344l-6,29M3547,1344l6,33M3584,1346l-4,34M3253,1381l-2,24M3278,1373l1,30M3314,1380l-7,30M3344,1378l-4,25M3376,1373l0,37M3410,1373l-6,40M3441,1378l0,35M3468,1375l2,31M3498,1378l3,33M3535,1381l-6,29M3562,1377l5,27M3594,1373l5,39M3267,1411l-2,29M3295,1411l-2,29M3324,1404l4,38M3360,1404l-5,39M3386,1407l0,37M3424,1404l-2,38M3456,1413l-5,25M3480,1404l9,33M3522,1410l-5,28M3545,1405l2,35M3583,1406l-5,37M3610,1403l0,41M3253,1438l-6,30M3279,1444l4,23M3310,1440l3,28M3346,1442l-6,30M3375,1438l0,34M3407,1444l-2,25M3438,1435l-5,37M3466,1443l5,33M3505,1439l-1,27M3537,1436l-8,31M3563,1438l-3,32M3591,1435l9,32M3264,1467l5,34M3296,1469l-1,38M3327,1472l2,33M3358,1475l-1,27M3394,1472l-6,30M3418,1466l5,33M3458,1468l-2,37M3488,1473l-5,26M3517,1470l3,32M3548,1466l-2,36M3580,1475l-2,23M3281,1499l4,37M3308,1507l5,24M3340,1505l6,28M3373,1506l2,32M3408,1502l-6,35M3442,1503l1,36M3473,1500l-1,34M3502,1498l0,33M3533,1499l1,38M3266,1530l1,32M3296,1534l5,34M3330,1535l-4,26M3355,1533l-1,35" fill="none" stroke="#000" stroke-width="3.0"/></g>
<g clip-path="url(#cNY)"><path transform="scale(0.2)" d="M3487,1050l23,-1l13,-1l24,-4l10,2l25,0l18,5l10,-7l25,-1M3471,1083l18,5l12,-4l17,-4l29,4l8,5l27,-6l15,0l21,4l15,-8M3437,1114l21,10l15,-5l20,-1l13,-3l19,0l14,4l20,4l17,-2l25,3l18,1l18,-5l12,-4M3436,1160l21,-5l11,3l17,-4l26,4l8,-2l21,3l20,-3l23,0l14,-5l21,0l19,9l16,-5M3411,1191l28,1l7,5l21,-1l26,-6l13,0l16,4l20,-4l20,-1l18,8l17,-2l12,-4l19,-3l19,4l21,-1M3304,1225l26,3l15,-1l16,0l14,3l19,-7l25,8l15,2l12,-1l24,0l17,-10l22,3l10,-2l22,0l24,1l16,-1l17,10l15,-4l16,-3l16,-1l21,-3M3294,1263l13,-1l21,1l12,-1l20,4l25,-2l9,-1l18,-5l17,6l17,4l20,-7l17,1l19,5l21,-7l21,5l20,0l15,2l12,1l27,0l16,-8l20,7l17,-2M3293,1301l13,-2l23,3l14,-1l14,-5l25,6l22,-6l14,-1l21,7l10,2l21,-2l16,3l25,-9l9,-1l17,4l23,-2l17,0l16,-1l26,1l11,5l17,-3l23,1l21,-4M3271,1337l22,1l10,-4l27,2l14,-3l20,-2l16,1l12,-2l23,10M3430,1341l18,-9l26,7M3560,1334l13,0l27,6l9,-7l22,-1l23,9l17,-8l16,-2M3523,1007l0,41M3558,1011l-1,35M3594,1012l6,39M3510,1049l-9,35M3547,1044l0,40M3582,1046l0,37M3610,1044l8,43M3449,1078l9,46M3489,1088l4,30M3518,1080l7,35M3555,1089l4,34M3597,1083l4,41M3633,1079l4,41M3473,1119l-5,39M3506,1115l5,43M3539,1119l1,40M3576,1121l7,35M3619,1125l-1,26M3457,1155l-11,42M3485,1154l8,36M3519,1156l3,38M3560,1156l2,33M3597,1151l0,44M3637,1160l-9,28M3323,1193l7,35M3366,1196l-5,31M3398,1190l-4,33M3439,1192l-5,41M3467,1196l3,36M3506,1190l3,35M3542,1190l-1,33M3580,1197l1,26M3609,1191l4,38M3647,1192l-2,33M3304,1225l3,37M3345,1227l-5,35M3375,1230l10,34M3419,1231l-7,27M3446,1232l0,36M3487,1222l-4,40M3519,1223l4,37M3565,1224l-1,41M3598,1233l-7,35M3629,1226l5,34M3328,1263l1,39M3360,1266l-3,30M3394,1263l10,33M3429,1264l10,38M3466,1261l4,41M3502,1267l9,29M3544,1265l-7,34M3579,1267l-2,30M3618,1268l1,29M3654,1267l-7,32M3306,1299l-3,35M3343,1301l1,32M3382,1302l-2,30M3418,1295l-3,45M3449,1304l-1,28M3486,1305l0,32M3520,1295l7,42M3560,1297l0,37M3593,1296l7,44M3630,1302l1,30M3670,1300l1,33M3293,1338l2,37M3330,1336l-3,40M3364,1331l-6,46M3392,1330l9,39M3573,1334l6,34M3609,1333l8,43M3654,1341l-1,28" fill="none" stroke="#000" stroke-width="3.0"/></g>
<g clip-path="url(#cLI)"><path transform="scale(0.2)" d="M3746,1293l11,11l18,-2M3665,1343l17,1l16,-10l21,5l22,-2l24,0l22,4M3644,1377l13,7l29,-10l19,1l19,9M3682,1293l0,51M3717,1295l2,44M3757,1304l8,33M3665,1343l-8,41M3698,1334l7,41M3741,1337l4,39M3644,1377l-3,45M3686,1374l1,47" fill="none" stroke="#000" stroke-width="3.0"/></g>
<g clip-path="url(#cNJ)"><path transform="scale(0.2)" d="M3577,1327l23,-5l14,4l14,-3M3567,1356l15,1l10,-6l22,-1l13,4l15,0l15,0l14,4M3570,1380l8,5l20,2l14,0l19,-1l12,-5l10,0l17,2M3577,1410l21,0l13,8l10,-5l23,2l9,3l16,-8M3579,1447l20,-6l16,7l15,-2l11,-3l18,4l10,-4M3566,1477l15,2l14,-4l13,1l22,-5l12,0l12,2l15,-1M3562,1504l19,-3l13,5l21,-2l7,-3l16,-1l19,5l12,4M3608,1538l16,-8l16,-1l16,1M3600,1322l-8,29M3628,1323l-1,31M3653,1325l4,29M3582,1357l-4,28M3614,1350l-2,37M3642,1354l1,27M3570,1380l0,37M3598,1387l0,23M3631,1386l-10,27M3653,1381l0,37M3611,1418l4,30M3644,1415l-3,28M3669,1410l0,33M3599,1441l-4,34M3630,1446l0,25M3659,1447l-5,26M3581,1479l0,22M3608,1476l7,28M3642,1471l-4,29M3669,1472l0,37M3594,1506l-1,27M3622,1501l2,29M3657,1505l-1,25M3640,1529l2,31" fill="none" stroke="#000" stroke-width="3.0"/></g>
<g clip-path="url(#cDE)"><path transform="scale(0.2)" d="M3577,1453l13,2l22,2M3546,1488l15,-2l16,-3l13,1l19,-1M3546,1514l17,-1l16,3l10,-4l15,0l15,-3M3561,1542l19,1l14,3l15,-4l13,-1l20,4M3562,1578l14,-4l21,-4l8,3l16,3l19,-3M3577,1453l0,30M3561,1486l2,27M3590,1484l-1,28M3579,1516l1,27M3604,1512l5,30M3594,1546l3,24M3622,1541l-1,35M3576,1574l-2,33M3605,1573l1,28M3640,1573l-5,29" fill="none" stroke="#000" stroke-width="3.0"/></g>
<g clip-path="url(#cMD)"><path transform="scale(0.2)" d="M3434,1492l14,-1l12,-4l18,6l13,-4l19,1l17,-1l6,1l22,5l16,-3l14,2M3323,1517l21,8l10,-7l14,6l17,-5l13,6l21,-8l14,7l14,1l12,-4l19,-1l16,2l12,4l14,-8l17,5l13,-2l16,4l17,-7l10,6M3331,1550l10,-1l16,4l14,-2l21,4M3447,1554l18,-1l11,-2l14,-4l14,0l22,4l11,4l14,-7l16,5l20,1l13,0l10,-1M3473,1579l19,7l13,-7l22,0l14,-2l11,6l12,3l17,-2l21,1l12,-8l13,1l15,1M3474,1613l17,0l12,3l23,-6l16,-2l8,0l16,3l14,3l19,-7l18,7l15,-5l6,-2M3567,1639l16,1l11,0l16,3l15,0l17,-4M3566,1671l18,3l16,-4l14,1l11,2M3447,1458l1,33M3475,1465l3,28M3511,1457l-1,33M3538,1465l-5,25M3563,1457l8,35M3347,1488l-3,37M3372,1496l-4,28M3402,1490l-4,35M3434,1492l-1,32M3460,1487l-1,34M3491,1489l3,33M3527,1489l-7,29M3555,1495l-5,26M3585,1494l-2,24M3323,1517l8,33M3354,1518l3,35M3385,1519l7,36M3419,1517l-6,30M3447,1525l0,29M3478,1520l-2,31M3506,1526l-2,21M3537,1523l0,32M3566,1525l1,28M3593,1524l7,30M3341,1549l1,33M3371,1551l5,33M3465,1553l-4,28M3490,1547l2,39M3526,1551l1,28M3551,1548l1,35M3587,1554l-6,30M3610,1553l4,24M3639,1553l3,26M3505,1579l-2,37M3541,1577l1,31M3564,1586l2,25M3602,1585l-3,22M3627,1578l5,31M3491,1613l3,32M3526,1610l1,35M3550,1608l3,29M3580,1614l3,26M3617,1614l-7,29M3638,1607l4,32M3594,1640l6,30M3625,1643l0,30M3584,1674l-4,28M3614,1671l0,29" fill="none" stroke="#000" stroke-width="3.0"/></g>
<g clip-path="url(#cVT)"><path transform="scale(0.2)" d="M3566,1020l21,11l29,-11l36,3l16,3l25,5l21,0M3592,1077l25,-6l21,2l27,0l25,3l38,-2M3603,1123l14,8l28,1l32,-1l22,2l22,-2M3588,1177l40,3l24,-5l22,4l19,0l24,-2M3615,972l1,48M3662,972l6,54M3722,977l-8,54M3587,1031l5,46M3652,1023l-14,50M3693,1031l-3,45M3617,1071l0,60M3665,1073l12,58M3645,1132l7,43M3699,1133l-6,46M3628,1180l-15,51M3674,1179l-5,47" fill="none" stroke="#000" stroke-width="3.0"/></g>
<g clip-path="url(#cNH)"><path transform="scale(0.2)" d="M3696,968l19,-5l20,0M3669,1015l19,-4l32,5l21,-5l19,-2M3669,1064l23,2l25,-2l19,5l30,-2M3668,1116l23,2l18,1l32,-3l20,5l34,-14M3673,1158l20,5l25,4l18,-1l26,4l23,-5M3672,1211l27,-2l24,12M3715,963l5,53M3688,1011l4,55M3741,1011l-5,58M3717,1064l-8,55M3766,1067l-5,54M3691,1118l2,45M3741,1116l-5,50M3795,1107l-10,58M3718,1167l5,54M3762,1170l7,35" fill="none" stroke="#000" stroke-width="3.0"/></g>
<g clip-path="url(#cME)"><path transform="scale(0.2)" d="M3718,833l41,-17l60,10l21,3l68,-14M3718,914l49,10l31,-19l64,13l34,0l51,0M3692,995l37,4l45,6l50,5l23,-17l42,-2l49,-3M3730,1075l50,3l34,-2l35,-4M3762,748l-3,68M3859,745l-19,84M3819,826l-21,79M3908,815l-12,103M3767,924l7,81M3862,918l-15,75M3947,918l-9,70M3729,999l1,76M3824,1010l-10,66M3889,991l9,93M3780,1078l-18,83" fill="none" stroke="#000" stroke-width="3.0"/></g>
<g clip-path="url(#cMA)"><path transform="scale(0.2)" d="M3757,1149l20,0l25,-9M3675,1181l19,3l14,-3l20,-2l18,-3l19,4l21,5l12,-8l21,6M3638,1215l22,-1l11,2l18,-4l16,1l27,6l12,-9l16,9l24,-2l16,-8l12,6l17,-1l24,2M3635,1249l27,-5l15,3l12,0l18,-2l18,0l17,9l24,-9l19,0l12,0l15,6l18,-2l25,0l14,4l21,-4M3715,1147l-7,34M3746,1150l0,26M3777,1149l9,36M3657,1179l3,35M3694,1184l-5,28M3728,1179l4,40M3765,1180l-5,39M3798,1177l2,32M3837,1183l-8,31M3638,1215l-3,34M3671,1216l6,31M3705,1213l2,32M3744,1210l-2,44M3784,1217l1,28M3812,1215l0,36M3853,1216l2,33M3662,1244l-7,43M3689,1247l7,35M3725,1245l-2,34M3766,1245l-5,35M3797,1245l-3,37M3830,1249l3,37M3869,1253l-7,37" fill="none" stroke="#000" stroke-width="3.0"/></g>
<g clip-path="url(#cCT)"><path transform="scale(0.2)" d="M3635,1252l15,0l14,-9l22,9l12,-10l24,7l14,0l18,4l19,-4M3634,1282l14,-3l23,6l18,2l18,-6l17,7l13,-2l15,-4l24,-2M3632,1316l15,2l20,-5l17,10l18,-7l22,-1l13,4l16,1M3698,1214l0,28M3740,1213l-4,36M3650,1252l-2,27M3686,1252l3,35M3722,1249l2,39M3754,1253l-2,29M3671,1285l-4,28M3707,1281l-5,35M3737,1286l0,33M3647,1318l5,34M3684,1323l-1,27M3724,1315l-4,34" fill="none" stroke="#000" stroke-width="3.0"/></g>
<g clip-path="url(#cRI)"><path transform="scale(0.2)" d="M3724,1247l15,-5l17,-2l16,5l16,-4l12,2M3740,1272l22,-1l9,-2l18,3l14,5M3739,1307l18,-5l15,-3l12,2M3755,1216l1,24M3790,1210l-2,31M3739,1242l1,30M3772,1245l-1,24M3800,1243l3,34M3762,1271l-5,31M3789,1272l-5,29" fill="none" stroke="#000" stroke-width="3.0"/></g><path d="M160.1,141.7 L159.1,145.0 L158.7,149.4 L159.5,159.0 L159.2,165.7 L159.1,169.8 L157.0,176.6 M160.1,141.7 L164.4,145.2 L172.2,149.8 L176.8,150.7 L179.2,152.2 L176.8,156.6 L172.3,162.0 L172.9,168.1 L178.1,165.9 L180.6,161.1 L183.9,155.3 L182.8,147.4 L184.7,142.9 L183.3,138.2 M157.0,176.6 L154.5,188.7 L148.9,202.1 L145.2,211.0 L139.9,220.3 L135.1,227.4 L134.9,233.9 L135.1,241.5 M135.1,241.5 L134.0,245.3 L131.4,257.1 L125.4,264.6 L127.5,272.6 L127.2,284.2 L126.3,289.8 L131.6,302.2 L136.0,311.7 L134.7,317.2 L138.2,326.5 L140.2,329.7 L137.8,332.4 L136.8,337.0 L141.8,348.9 L145.1,355.9 L146.8,362.2 L145.5,368.5 L147.0,370.6 L156.7,373.7 L161.4,377.3 L163.7,380.8 L170.6,383.8 L170.8,388.3 L173.6,388.8 L176.9,392.1 L182.3,399.9 L182.2,408.1 L183.3,411.2 M136.6,311.9 L139.3,318.6 L138.3,317.5 L138.5,310.1 L140.1,308.9 L144.6,309.3 L138.1,309.1 L136.4,310.3 M790.4,187.8 L787.9,192.9 L782.2,197.3 L780.5,199.6 L773.1,202.8 L766.8,209.9 L760.7,217.6 L757.8,228.2 L757.6,231.6 L761.0,234.6 L757.7,240.3 L763.3,244.5 L766.1,247.5 L772.3,247.3 L771.7,243.6 L768.2,242.1 L770.4,243.2 L773.0,249.0 L765.3,251.9 L760.4,253.7 L759.5,254.8 L752.7,259.2 L740.7,263.4 L732.6,268.0 L730.1,270.5 L729.9,277.0 L731.0,278.9 L731.9,284.7 L730.4,297.3 L726.3,305.4 L717.7,301.5 L717.0,293.4 L717.7,301.5 L724.4,308.1 L726.4,313.3 L725.5,320.5 L724.8,322.8 L720.1,337.1 L719.0,334.0 L717.5,322.1 L710.6,314.7 L710.4,308.1 L711.0,299.8 L705.7,304.3 L707.1,310.5 L710.3,318.8 L713.6,324.6 L713.6,330.4 L716.4,339.6 L720.5,340.3 L723.4,345.3 L729.2,354.7 L732.6,365.0 L726.8,370.0 L722.1,377.7 L709.6,383.8 L706.3,393.5 L698.5,395.2 L695.0,398.3 L692.0,407.1 L684.8,415.9 L677.4,424.7 L672.8,429.6 L670.3,439.0 L669.1,452.4 L673.1,463.2 L681.5,478.1 L688.3,486.0 L694.3,500.6 L700.9,516.0 L701.6,527.5 L700.2,536.2 L692.6,540.0 L688.3,537.5 L678.8,529.9 L671.3,521.2 L667.1,513.6 L660.6,504.8 L657.4,498.7 L657.8,487.1 L651.0,480.8 L643.4,472.9 L632.8,468.7 L629.0,471.7 L618.3,476.7 L611.9,470.7 L600.2,467.2 L590.6,469.1 L586.5,470.3 L579.7,471.9 L578.3,464.7 L578.1,470.4 L573.9,470.0 L564.1,470.9 L558.2,474.6 L563.2,476.6 L560.9,482.5 L566.4,488.6 L565.4,493.5 L561.9,494.6 L555.8,489.4 L550.3,491.5 L544.8,494.3 L536.1,490.8 L528.8,487.2 L520.3,486.9 L506.1,485.1 L498.4,486.2 L489.3,488.9 L485.2,493.1 L478.2,498.9 L468.4,504.8 L457.0,511.3 L450.5,517.8 L447.5,530.9 L450.4,542.3 L451.9,547.9 M730.5,276.8 L737.6,275.0 L747.5,269.8 L753.5,262.8 L746.4,266.0 L737.3,269.3 L732.1,273.1 L730.5,276.8 M699.2,538.8 L693.7,546.5 L685.3,550.5 L681.0,552.1 M545.4,473.2 L547.9,477.9 L553.5,478.2 L555.4,474.8 L551.7,472.7 L545.4,473.2 M689.5,506.5 L690.7,512.9 L687.2,514.3 L685.6,509.6 L689.5,506.5 M268.4,279.2 L272.8,288.9 L270.6,295.0 L265.4,289.3 L263.1,281.5 L268.4,279.2 M534.2,189.8 L526.9,194.4 L519.7,199.8 L513.5,205.9 L508.2,211.3 L509.4,212.6 L516.0,211.4 L521.9,207.8 L527.2,213.0 L532.8,213.4 L538.1,209.8 L543.3,206.1 L547.8,200.8 L554.5,196.4 L550.6,201.3 L548.2,205.6 L549.1,208.8 L560.4,210.9 L569.4,211.5 L576.2,207.5 L586.8,204.1 L591.4,207.9 M534.2,189.8 L537.9,182.2 L545.9,175.7 L555.3,172.4 L566.2,174.4 L580.1,181.7 L585.5,185.1 L588.5,195.3 L590.5,201.5 L591.4,207.9 M591.4,207.9 L599.4,213.3 L603.6,214.3 L594.8,216.4 L591.3,218.2 L582.8,215.6 L574.2,219.1 L565.7,223.3 L560.6,234.3 L557.0,243.6 L561.9,235.8 L567.1,230.4 L565.7,238.7 L563.3,248.6 L561.0,260.1 L560.6,268.2 L562.6,276.1 L567.1,287.5 L571.2,289.4 L575.4,286.6 L580.4,275.7 L579.7,264.5 L576.2,255.3 L576.8,245.5 L577.9,235.6 L579.6,230.6 L584.4,236.5 L585.5,232.3 L584.9,227.5 L588.9,222.9 L591.8,219.6 L602.7,224.2 L608.0,229.1 L610.5,237.7 L608.9,246.1 L606.9,252.8 L611.3,246.5 L616.1,244.1 L621.3,250.6 L624.0,259.9 L623.2,266.6 L619.2,271.2 L618.2,276.3 L615.4,281.9 L625.9,283.2 L636.8,283.0 L649.2,272.2 L657.2,265.9 L664.2,260.8 L665.4,254.9 M662.4,248.9 L668.5,246.9 L678.8,244.7 L690.8,239.5 L692.6,231.7 L690.4,227.3 L694.8,221.3 L704.6,210.6 M603.6,214.3 L609.7,210.1 L620.6,207.6 L629.9,209.2 L636.0,211.4 L644.3,218.9 L648.1,227.2 L640.7,231.0 L627.1,222.8 L632.0,227.7 L630.9,234.4 L631.8,253.8 L624.0,259.9 M619.2,271.2 L621.1,275.8 L626.1,276.7 L633.5,270.6 L647.6,262.4 L658.5,256.2 L665.2,254.1 M662.4,248.9 L656.2,244.4 L668.8,237.0 L683.4,233.0 L690.4,227.3 M735.4,172.3 L741.1,160.5 L746.1,147.1 L753.9,136.1 L757.8,127.2 L764.5,120.6 L776.8,117.2 L789.1,113.6 L797.1,116.7 M749.6,154.5 L751.3,145.5 L757.2,135.9 L768.6,126.1 L782.4,116.9 L794.5,115.9 L798.5,120.5 L788.2,133.0 L778.2,137.3 L784.2,137.8 L796.1,142.1 L800.9,145.5 L807.5,156.9 L816.5,158.6 L812.9,161.7 L809.6,172.4 L798.7,178.9 L791.0,184.2 L790.4,187.8 M812.9,161.7 L827.6,159.5 L838.7,156.8 L847.2,148.1 L850.3,138.0 L850.1,152.1 L845.3,161.1 L828.8,178.0 L818.2,192.3 L811.1,203.5 L802.5,194.6 L814.2,175.0 L817.0,169.6 L812.9,161.7 M810.5,152.3 L810.0,144.7 L823.5,149.0 L832.1,152.5 L818.2,153.7 L810.5,152.3 M455.7,154.0 L460.3,147.5 L458.2,139.3 L452.1,131.1 L448.1,121.2 L441.2,108.0 L435.1,114.5 L444.0,127.8 L451.0,139.3 L454.1,149.1 L455.7,154.0 M439.5,158.8 L441.6,152.3 L435.6,144.0 L431.7,132.5 L427.6,135.7 L432.4,145.6 L436.4,155.5 L439.5,158.8 M473.7,170.5 L477.3,165.2 L483.7,168.3 L479.7,176.5 L478.7,179.0 M544.9,164.4 L539.0,158.4 L542.9,154.8 L547.7,160.9 L544.9,164.4 M180.2,137.3 L180.1,132.2 L175.3,122.3 L168.2,113.2 L163.3,104.8 L155.0,96.9 L146.9,88.9 L146.7,80.2 L147.5,71.7 L143.5,65.0 M172.3,146.8 L164.3,140.1 L155.3,129.6 L148.2,117.0 L140.9,105.9 L136.9,92.3 L148.5,99.9 L162.8,113.2 L167.8,125.1 L174.1,137.2 L172.3,146.8 M118.0,64.2 L114.8,45.2 L112.0,26.1 L123.7,30.9 L118.5,46.7 L118.0,64.2 M183.3,411.2 L187.6,423.4 L189.0,437.7 L192.0,446.6 L192.8,460.0 L205.5,475.8 L208.3,491.3 L195.4,491.2 L202.8,496.8 L213.2,512.1 L228.3,528.1 L230.4,541.8 L228.8,551.5 L236.6,559.5 L249.8,573.3 L257.4,584.8 M257.4,584.8 L265.6,575.5 L254.4,563.1 L250.0,551.6 L243.5,530.6 L236.2,516.1 L233.8,506.8 L228.1,494.9 L220.3,477.8 L211.0,462.0 L209.4,448.5 L208.6,441.8 L211.5,430.8 L214.5,429.8 M214.5,429.8 L221.7,436.1 L227.2,440.4 L234.3,451.5 L235.1,463.2 L238.7,475.3 L242.3,484.1 L250.1,493.6 L254.8,500.6 L262.4,508.7 L272.1,523.3 L276.2,542.0 L286.2,551.6 L294.1,560.9 L303.4,571.9 L311.1,586.0 L320.6,598.7 L326.7,616.0 M451.9,547.9 L447.4,558.7 L443.6,571.9 L442.7,588.4 L441.0,605.0 L447.9,621.7 L449.4,630.1 M234.5,474.6 L237.4,483.3 L234.0,481.9 L234.5,474.6 M221.2,468.9 L225.9,478.8 L221.7,473.9 L221.2,468.9" fill="none" stroke="#000" stroke-width="1.6" stroke-linejoin="round" stroke-linecap="round"/><path d="M157.0,176.6 L163.1,179.5 L168.3,183.6 L167.9,191.0 L173.1,193.3 L181.8,193.6 L185.2,195.9 L191.1,195.8 L197.3,196.6 L206.7,196.0 L210.5,195.8 L232.9,201.0 L233.1,194.1 L242.2,153.4 M232.9,201.0 L236.5,208.4 L232.9,212.6 L230.0,217.7 L224.5,223.9 L226.1,227.5 L224.8,233.0 L223.4,237.6 L217.7,263.4 M135.1,241.5 L140.9,243.2 L146.6,245.0 L152.4,246.7 L158.2,248.3 L164.0,250.0 L169.8,251.6 L175.6,253.1 L181.4,254.7 L187.3,256.2 L193.1,257.6 L199.0,259.1 L204.8,260.5 L210.7,261.8 L216.6,263.2 L222.4,264.5 L228.3,265.8 L234.2,267.0 L240.1,268.2 L246.0,269.4 L252.0,270.5 L257.9,271.6 L263.8,272.7 L269.7,273.8 L275.7,274.8 L281.6,275.8 L287.6,276.7 M183.3,255.1 L171.3,301.6 L224.0,379.2 M224.0,379.2 L223.5,381.6 L225.6,388.5 L228.1,392.3 L221.9,396.8 L217.9,404.2 L219.5,411.1 L215.8,414.9 M224.0,379.2 L224.9,371.2 L225.7,363.2 L229.1,362.3 L234.9,362.6 L252.5,270.6 M183.3,411.2 L215.8,414.9 L213.8,418.3 L261.0,445.6 L300.0,451.1 L300.9,443.9 L323.8,446.5 M322.9,442.9 L323.8,446.5 L327.7,452.3 L335.4,458.7 L343.4,466.8 L346.4,475.9 L348.5,484.2 L355.9,489.7 L359.9,492.5 L364.7,495.7 L367.1,492.1 L372.3,487.6 L378.3,482.3 L383.8,484.2 L392.3,483.9 L398.3,491.4 L404.2,502.2 L406.8,510.5 L417.9,522.2 L418.4,530.4 L427.7,540.5 L436.5,543.9 L446.7,546.4 L451.9,547.9 M252.5,155.6 L249.1,171.5 L249.0,172.3 L251.0,181.0 L254.8,184.3 L257.1,189.7 L260.8,196.5 L259.4,206.6 L260.7,211.7 L264.6,212.7 L268.0,225.1 L273.2,234.5 L279.8,233.8 L288.8,235.5 L293.7,237.1 L285.1,292.5 M237.5,349.2 L243.9,350.4 L250.3,351.6 L256.8,352.7 L263.2,353.8 L269.6,354.8 L276.1,355.9 L282.6,356.9 L289.0,357.8 L295.5,358.7 L302.0,359.6 L308.5,360.4 L314.9,361.2 L321.4,362.0 L327.9,362.7 L334.4,363.4 L340.9,364.1 L347.4,364.7 L353.9,365.3 L360.5,365.8 L367.0,366.3 L373.5,366.8 L380.0,367.2 L386.5,367.6 L393.1,368.0 L399.6,368.3 L406.1,368.6 L412.6,368.8 L419.2,369.1 L425.7,369.2 L432.2,369.4 L438.8,369.5 L445.3,369.6 L451.8,369.6 L458.4,369.6 L464.9,369.5 L471.4,369.5 L478.0,369.3 L484.5,369.2 M309.0,296.0 L288.5,449.6 M285.1,292.5 L291.1,293.4 L297.0,294.3 L303.0,295.2 L309.0,296.0 L315.0,296.8 L321.0,297.5 L327.0,298.2 L333.0,298.9 L339.0,299.5 L345.0,300.2 L351.0,300.8 L357.0,301.3 L363.0,301.8 L369.0,302.3 L375.1,302.8 L381.1,303.2 L387.1,303.6 L393.1,303.9 M369.0,302.3 L379.0,173.9 M295.0,229.1 L300.6,230.0 L306.2,230.8 L311.8,231.6 L317.5,232.4 L323.1,233.1 L328.8,233.8 L334.4,234.5 L340.1,235.2 L345.7,235.8 L351.4,236.3 L357.0,236.9 L362.7,237.4 L368.3,237.9 L374.0,238.4 M371.5,270.4 L377.4,270.8 L383.3,271.2 L389.2,271.6 L395.1,271.9 L401.0,272.3 L407.0,272.5 L412.9,272.8 L418.8,273.0 L424.7,273.2 L430.6,273.3 L436.5,273.4 M393.1,303.9 L389.6,367.8 M392.3,319.9 L398.6,320.2 L404.9,320.5 L411.3,320.8 L417.6,321.0 L424.0,321.2 L430.3,321.3 L436.7,321.5 L443.0,321.5 L449.4,321.6 L455.7,321.6 L462.1,321.6 L468.5,321.5 L474.8,321.4 M377.5,367.1 L371.4,447.1 M322.9,442.9 L329.8,443.6 L336.7,444.3 L343.6,444.9 L350.6,445.5 L357.5,446.1 L364.4,446.6 L371.4,447.1 M376.9,375.0 L383.4,375.5 L389.8,375.8 L396.2,376.2 L402.6,376.5 L409.1,376.7 L415.5,377.0 M415.5,377.0 L414.5,408.0 M414.5,408.0 L419.7,410.8 L424.9,414.1 L432.8,415.9 L441.4,419.2 L452.1,421.7 L459.4,420.1 L464.8,421.6 L471.4,419.9 L477.4,419.4 L487.8,423.0 L493.7,424.2 L494.5,449.3 M494.5,449.3 L498.8,457.1 L501.8,465.1 L499.8,473.2 L500.1,481.3 L498.4,486.2 M484.5,369.2 L484.7,377.2 L487.7,394.7 L487.8,423.0 M474.8,321.4 L477.5,328.6 L483.8,335.6 L484.5,369.2 M474.8,321.4 L469.3,312.2 L467.7,305.5 L466.9,297.5 L464.2,289.5 L460.6,281.6 L451.7,276.8 L444.7,277.2 L436.5,273.4 M460.6,281.6 L460.5,265.5 L460.3,236.6 L459.0,226.3 L456.3,215.7 L456.0,209.2 L455.7,201.2 L452.5,193.1 L452.5,185.0 L451.6,176.8 M375.2,223.3 L381.2,223.7 L387.1,224.1 L393.1,224.5 L399.1,224.9 L405.1,225.2 L411.1,225.4 L417.1,225.7 L423.1,225.9 L429.1,226.0 L435.1,226.2 L441.0,226.3 L447.0,226.3 L453.0,226.3 L459.0,226.3 M460.5,265.5 L466.6,265.5 L472.7,265.4 L478.8,265.3 L484.8,265.1 L490.9,264.9 L497.0,264.7 L503.1,264.4 L509.2,264.1 L515.2,263.8 L521.3,263.4 M180.2,137.3 L190.8,140.4 L201.4,143.3 L212.1,146.1 L222.7,148.8 L233.4,151.4 L244.2,153.8 L254.9,156.1 L265.7,158.4 L276.6,160.4 L287.4,162.4 L298.3,164.2 L309.1,165.9 L320.0,167.5 L331.0,169.0 L341.9,170.3 L352.8,171.5 L363.8,172.6 L374.8,173.6 L385.8,174.4 L396.7,175.1 L407.7,175.7 L418.8,176.2 L429.8,176.5 L440.8,176.7 L451.8,176.8 L462.8,176.8 L473.8,176.6 M473.8,176.6 L473.7,170.5 L476.9,171.7 L478.7,179.0 L480.3,181.4 L487.9,181.9 L492.2,183.4 L501.3,182.2 L504.6,184.5 L508.0,185.9 L518.9,187.7 L524.4,189.7 L529.8,188.5 L534.2,189.8 M507.2,212.7 L506.6,222.4 L500.2,229.2 L502.7,235.5 L502.0,244.4 L507.9,246.5 L517.6,255.6 L521.3,263.4 M521.3,263.4 L522.6,271.4 L529.0,279.0 L535.5,286.5 L535.2,289.8 L527.2,295.9 L526.5,303.2 L522.1,309.9 L522.1,313.4 L522.8,321.1 L527.6,328.8 L538.7,336.0 L537.9,342.5 L542.9,350.1 L549.1,356.1 L549.5,360.9 L554.3,365.3 L550.5,373.6 L550.3,378.5 L548.6,381.8 L544.7,390.1 L542.0,398.4 L538.6,406.7 L533.9,415.0 L532.4,423.2 L532.9,431.2 L534.8,439.1 L531.9,447.4 L529.7,455.6 L528.8,463.7 M469.3,312.2 L475.4,312.1 L481.5,312.0 L487.6,311.8 L493.7,311.6 L499.8,311.4 L505.9,311.1 L512.0,310.8 L518.1,310.5 L522.1,313.4 M529.0,279.0 L535.8,278.5 L542.5,277.9 L549.2,277.4 L555.9,276.8 L562.6,276.1 M484.7,377.2 L491.9,377.0 L499.1,376.7 L506.3,376.4 L513.5,376.1 L520.6,375.7 L527.8,375.3 L535.0,374.8 L542.2,374.3 L539.9,382.5 L548.6,381.8 M494.0,433.1 L501.8,432.8 L509.6,432.5 L517.4,432.1 L525.2,431.7 L532.9,431.2 M528.8,463.7 L537.4,463.2 L546.0,462.6 L554.6,461.9 L554.0,466.8 L558.2,474.6 M542.0,398.4 L548.7,397.9 L555.5,397.3 L562.2,396.7 L568.9,396.1 L575.7,395.4 L582.4,394.7 L589.1,394.0 L595.8,393.2 L602.5,392.4 L609.2,391.5 L615.9,390.6 L622.6,389.7 L629.3,388.7 L635.9,387.7 M550.5,373.6 L569.1,371.9 L568.8,369.1 L582.4,368.9 L624.7,363.5 L650.0,359.4 M650.2,360.2 L656.9,359.1 L663.6,357.9 L670.2,356.6 L676.9,355.4 L683.6,354.0 L690.2,352.7 L696.9,351.3 L703.5,349.9 L710.2,348.4 L716.8,346.9 L723.4,345.3 M650.0,359.4 L648.2,365.4 L646.3,369.8 L640.0,371.6 L629.3,379.0 L622.5,381.6 L619.9,386.8 L620.3,390.0 M569.5,396.0 L571.0,397.5 L570.4,412.1 L570.8,444.3 L572.3,460.4 L573.9,470.0 M603.4,392.2 L607.4,407.9 L613.1,425.8 L617.0,434.2 L619.7,455.0 L622.3,459.6 L641.2,458.5 L659.2,456.2 L661.8,459.3 L662.0,456.0 L665.5,452.2 L669.1,452.4 M586.5,470.3 L584.0,459.2 L591.1,458.5 L598.3,457.7 L605.4,456.8 L612.6,455.9 L619.7,455.0 M635.9,387.7 L636.7,392.4 L641.6,398.2 L645.0,402.5 L651.3,408.0 L655.7,410.5 L662.4,417.5 L666.8,423.3 L672.8,429.6 M635.9,387.7 L645.8,382.9 L662.1,380.9 L664.4,382.9 L666.3,385.9 L680.8,383.2 L698.5,395.2 M624.7,363.5 L635.5,355.3 L644.2,349.4 L643.9,345.1 L634.3,336.1 L633.8,332.6 M653.1,293.3 L652.5,302.2 L651.8,308.8 L645.9,314.7 L638.1,324.1 L633.8,332.6 L628.4,330.5 L619.4,329.5 L608.8,325.3 L604.8,325.9 L605.7,330.6 L601.0,332.8 L594.3,340.1 L592.0,342.0 L582.6,348.0 L572.5,348.3 L567.3,351.2 L566.9,356.1 L562.4,362.9 L554.3,365.3 M567.1,287.5 L571.8,333.1 L570.9,339.6 L568.6,347.9 L567.3,351.2 M575.4,286.6 L599.1,283.7 L615.4,281.9 M599.1,283.7 L604.8,325.9 M657.2,265.9 L658.0,270.2 L709.3,259.1 L713.7,262.1 L719.4,267.3 L730.1,270.5 M649.2,272.2 L655.7,307.7 M655.7,307.7 L662.1,306.6 L668.5,305.3 L674.8,304.1 L681.2,302.8 L687.5,301.4 L693.8,300.1 L700.2,298.7 L706.5,297.2 L712.8,295.7 L718.5,315.3 L726.4,313.3 M668.3,305.4 L669.9,313.5 L675.1,309.2 L684.0,303.3 L688.5,304.0 L690.7,307.3 M690.7,307.3 L683.3,312.5 L678.5,320.0 L672.1,326.1 L668.4,333.4 L662.4,342.6 L654.1,346.6 L643.9,345.1 M690.7,307.3 L693.9,308.6 L698.4,311.7 L700.8,313.6 L699.7,320.4 L704.1,322.7 L713.6,324.6 M730.1,270.5 L719.4,267.3 M719.4,267.3 L716.6,276.2 L720.1,282.8 L721.0,289.1 L717.0,293.4 L712.8,295.7 M720.0,206.7 L723.6,222.3 L726.3,228.3 L730.1,241.4 L730.5,252.9 L732.6,268.0 L730.1,270.5 M740.3,201.1 L741.4,209.1 L738.1,218.4 L736.9,227.1 L739.5,239.1 L730.2,241.7 M739.5,239.1 L753.3,235.7 L757.6,231.6 M757.8,228.2 L754.0,225.5 L750.3,214.9 L743.5,195.1 M730.5,252.9 L750.1,248.0 L754.9,246.6 L759.3,249.8 L760.4,253.7 M750.1,248.0 L752.7,259.2 M704.6,210.6 L740.3,201.1 L743.5,195.1 L748.2,180.2 L748.6,170.0 L753.2,155.9 L758.3,160.2 L764.6,154.8 L770.0,156.4 L777.6,179.3 L784.3,183.9 L790.4,187.8 M527.2,213.0 L532.7,219.1 L546.9,221.1 L553.9,223.7 L559.1,230.5 L560.6,234.3 M665.4,254.9 L662.4,248.9 M704.6,210.6 L706.2,205.3 L690.9,204.9 L676.2,200.8 L665.3,198.3 L646.5,188.9 L630.1,110.8 M753.2,155.9 L759.5,146.2 L768.2,141.6 L778.2,137.3 M814.2,163.8 L816.5,158.6 M473.8,176.6 L472.6,114.5 L488.4,97.4 M407.6,175.7 L410.2,93.7 M316.0,166.9 L327.7,85.7 M273.2,159.8 L269.8,142.6 L265.6,131.7 L255.5,114.5 L244.6,98.6 L237.6,85.0 L232.1,66.5 M208.3,491.3 L228.1,494.9 M300.0,451.1 L293.2,462.1 L292.3,480.0 L288.6,497.5 L284.3,520.0 L285.7,531.7 L276.2,542.0 M285.7,531.7 L303.0,548.6 L319.3,565.2 L325.3,580.8 L322.4,595.5 M295.2,526.3 L314.9,535.1 L337.5,529.0 L344.2,536.2 L362.0,534.2 M359.9,492.5 L360.8,509.6 L359.6,527.5 L362.0,534.2 M362.0,534.2 L352.3,546.7 L354.2,560.0 L371.6,569.4 M410.8,517.9 L398.9,526.5 L395.5,537.8 L395.0,549.2 L402.1,557.8 L406.1,571.1 M417.9,523.9 L420.4,538.6 L415.8,546.7 L415.5,558.2 L413.6,571.3 L414.6,587.9 L409.6,601.0 M371.6,569.4 L386.6,570.3 L406.1,571.1 M371.6,569.4 L353.9,584.8 L343.9,595.7 M406.1,571.1 L401.0,585.8 L408.0,604.3 L420.0,616.3 M386.6,570.3 L380.8,594.8 L384.5,611.7" fill="none" stroke="#000" stroke-width="1.5" stroke-linejoin="round" stroke-linecap="round"/><path d="M715.0,508.8 L719.7,505.5 L729.1,506.0 L724.4,508.8 L718.8,511.6 M730.1,504.1 L733.8,501.3 L739.5,501.3 L745.1,506.0 L745.1,511.6 L743.2,517.3 M736.6,511.6 L739.5,514.5 M722.5,498.5 L728.2,500.4 M733.4,520.1 L737.6,523.9 L735.7,526.7 M731.9,529.5 L737.6,535.2 L743.2,543.6 L746.1,550.2 L744.2,554.9 L741.4,552.1 L738.5,546.5 L732.9,542.7 L729.1,540.8 L731.9,535.2 L731.9,529.5 M741.4,531.9 L747.9,528.6 M749.8,521.1 L755.5,522.0 L761.1,525.8 L762.5,531.4 L763.9,533.3 M766.8,533.3 L771.5,531.9 M752.6,532.4 L755.5,538.0 L762.1,542.7 L770.5,548.4 L777.1,551.2 M768.6,530.5 L773.4,534.2 L776.2,538.0 M779.0,546.5 L782.8,550.2 L789.4,556.8 M789.4,536.1 L790.3,539.9 M780.9,542.7 L786.5,544.6 M773.4,557.8 L775.2,566.2" fill="none" stroke="#000" stroke-width="2" stroke-linejoin="round" stroke-linecap="round"/><path d="M168.8,133.9 L174.7,136.3 L179.4,141.0 L182.9,143.4 L184.1,149.2 L181.8,156.3 L178.2,162.2 L177.1,165.7 L171.2,166.9 L170.0,162.2 L173.5,158.6 L177.1,155.1 L178.2,150.4 L174.7,146.9 L171.2,144.5Z" fill="#000"/><path d="M147.6,121.0 L152.4,125.7 L157.1,131.6 L165.3,137.5 L171.2,143.4 L174.7,145.7 M162.9,121.0 L168.8,123.4 L174.7,125.7 L180.6,125.7 L179.4,130.4 L181.8,136.3 L182.9,143.4 M148.8,122.2 L161.8,125.7 M153.5,128.1 L160.6,132.8 M170.0,128.1 L177.1,136.3" fill="none" stroke="#000" stroke-width="3" stroke-linejoin="round" stroke-linecap="round"/></g><rect x="112.9" y="121.4" width="682.4" height="445.9" fill="none" stroke="#333" stroke-width="1.6"/><path d="M99.2,183.4 H112.9 M99.2,268.1 H112.9 M99.2,351.6 H112.9 M99.2,435.5 H112.9 M99.2,520.4 H112.9 M258.5,567.3 V581 M409.3,567.3 V581 M558.9,567.3 V581 M711.3,567.3 V581" stroke="#111" stroke-width="1.4"/><rect x="236.60" y="664.8" width="19.77" height="23.6" fill="#ffffff" stroke="#333" stroke-width="0.8"/><rect x="256.37" y="664.8" width="19.77" height="23.6" fill="#ffffff" stroke="#333" stroke-width="0.8"/><rect x="276.15" y="664.8" width="19.77" height="23.6" fill="#66b3ff" stroke="#333" stroke-width="0.8"/><rect x="295.92" y="664.8" width="19.77" height="23.6" fill="#a0cd5f" stroke="#333" stroke-width="0.8"/><rect x="315.69" y="664.8" width="19.77" height="23.6" fill="#c8ff6e" stroke="#333" stroke-width="0.8"/><rect x="335.46" y="664.8" width="19.77" height="23.6" fill="#00ff00" stroke="#333" stroke-width="0.8"/><rect x="355.24" y="664.8" width="19.77" height="23.6" fill="#ffff00" stroke="#333" stroke-width="0.8"/><rect x="375.01" y="664.8" width="19.77" height="23.6" fill="#ffbe32" stroke="#333" stroke-width="0.8"/><rect x="394.78" y="664.8" width="19.77" height="23.6" fill="#ffa000" stroke="#333" stroke-width="0.8"/><rect x="414.55" y="664.8" width="19.77" height="23.6" fill="#ff4600" stroke="#333" stroke-width="0.8"/><rect x="434.33" y="664.8" width="19.77" height="23.6" fill="#ff0000" stroke="#333" stroke-width="0.8"/><rect x="454.10" y="664.8" width="19.77" height="23.6" fill="#d23232" stroke="#333" stroke-width="0.8"/><rect x="473.87" y="664.8" width="19.77" height="23.6" fill="#8c2323" stroke="#333" stroke-width="0.8"/><rect x="493.65" y="664.8" width="19.77" height="23.6" fill="#f08264" stroke="#333" stroke-width="0.8"/><rect x="513.42" y="664.8" width="19.77" height="23.6" fill="#cd6e55" stroke="#333" stroke-width="0.8"/><rect x="533.19" y="664.8" width="19.77" height="23.6" fill="#e1a0e1" stroke="#333" stroke-width="0.8"/><rect x="552.96" y="664.8" width="19.77" height="23.6" fill="#aa4bc8" stroke="#333" stroke-width="0.8"/><rect x="572.74" y="664.8" width="19.77" height="23.6" fill="#7828c8" stroke="#333" stroke-width="0.8"/><rect x="592.51" y="664.8" width="19.77" height="23.6" fill="#00008c" stroke="#333" stroke-width="0.8"/><rect x="612.28" y="664.8" width="19.77" height="23.6" fill="#969696" stroke="#333" stroke-width="0.8"/><rect x="632.05" y="664.8" width="19.77" height="23.6" fill="#646464" stroke="#333" stroke-width="0.8"/><rect x="651.83" y="664.8" width="19.77" height="23.6" fill="#000000" stroke="#333" stroke-width="0.8"/><text x="111.5" y="28.1" font-family="Liberation Sans, sans-serif" font-size="17.6" text-anchor="start" fill="#000" style="white-space:pre">IWFAQRP Contiguous US Real Time WRF</text><text x="795.8" y="29.4" font-family="Liberation Sans, sans-serif" font-size="11.7" text-anchor="end" fill="#000" style="white-space:pre">Init: 2026-03-31_00:00:00</text><text x="116.2" y="105.9" font-family="Liberation Sans, sans-serif" font-size="11.7" text-anchor="start" fill="#000" style="white-space:pre">Vapor Pressure Deficit valid at 2026-04-03_03:00:00 UTC</text><text x="424.5" y="105.9" font-family="Liberation Sans, sans-serif" font-size="11.7" text-anchor="start" fill="#000" style="white-space:pre">(hPa)</text><text x="89.5" y="189.20000000000002" font-family="Liberation Sans, sans-serif" font-size="16.0" text-anchor="end" fill="#000" style="white-space:pre">45°N</text><text x="89.5" y="273.90000000000003" font-family="Liberation Sans, sans-serif" font-size="16.0" text-anchor="end" fill="#000" style="white-space:pre">40°N</text><text x="89.5" y="357.40000000000003" font-family="Liberation Sans, sans-serif" font-size="16.0" text-anchor="end" fill="#000" style="white-space:pre">35°N</text><text x="89.5" y="441.3" font-family="Liberation Sans, sans-serif" font-size="16.0" text-anchor="end" fill="#000" style="white-space:pre">30°N</text><text x="89.5" y="526.1999999999999" font-family="Liberation Sans, sans-serif" font-size="16.0" text-anchor="end" fill="#000" style="white-space:pre">25°N</text><text x="258.5" y="603.8" font-family="Liberation Sans, sans-serif" font-size="16.2" text-anchor="middle" fill="#000" style="white-space:pre">110°W</text><text x="409.3" y="603.8" font-family="Liberation Sans, sans-serif" font-size="16.2" text-anchor="middle" fill="#000" style="white-space:pre">100°W</text><text x="558.9" y="603.8" font-family="Liberation Sans, sans-serif" font-size="16.2" text-anchor="middle" fill="#000" style="white-space:pre">90°W</text><text x="711.3" y="603.8" font-family="Liberation Sans, sans-serif" font-size="16.2" text-anchor="middle" fill="#000" style="white-space:pre">80°W</text><text x="454.1" y="656.6" font-family="Liberation Sans, sans-serif" font-size="16.5" text-anchor="middle" fill="#000" style="white-space:pre">Vapor Pressure Deficit  (hPa)</text><text x="256.37" y="718.0" font-family="Liberation Sans, sans-serif" font-size="16.0" text-anchor="middle" fill="#000" style="white-space:pre">0</text><text x="295.92" y="718.0" font-family="Liberation Sans, sans-serif" font-size="16.0" text-anchor="middle" fill="#000" style="white-space:pre">10</text><text x="335.46" y="718.0" font-family="Liberation Sans, sans-serif" font-size="16.0" text-anchor="middle" fill="#000" style="white-space:pre">20</text><text x="375.01" y="718.0" font-family="Liberation Sans, sans-serif" font-size="16.0" text-anchor="middle" fill="#000" style="white-space:pre">30</text><text x="414.55" y="718.0" font-family="Liberation Sans, sans-serif" font-size="16.0" text-anchor="middle" fill="#000" style="white-space:pre">40</text><text x="454.1" y="718.0" font-family="Liberation Sans, sans-serif" font-size="16.0" text-anchor="middle" fill="#000" style="white-space:pre">50</text><text x="493.65" y="718.0" font-family="Liberation Sans, sans-serif" font-size="16.0" text-anchor="middle" fill="#000" style="white-space:pre">60</text><text x="533.19" y="718.0" font-family="Liberation Sans, sans-serif" font-size="16.0" text-anchor="middle" fill="#000" style="white-space:pre">70</text><text x="572.74" y="718.0" font-family="Liberation Sans, sans-serif" font-size="16.0" text-anchor="middle" fill="#000" style="white-space:pre">80</text><text x="612.28" y="718.0" font-family="Liberation Sans, sans-serif" font-size="16.0" text-anchor="middle" fill="#000" style="white-space:pre">90</text><text x="651.83" y="718.0" font-family="Liberation Sans, sans-serif" font-size="16.0" text-anchor="middle" fill="#000" style="white-space:pre">100</text><text x="113.8" y="821.2" font-family="Liberation Sans, sans-serif" font-size="10.5" text-anchor="start" fill="#000" style="white-space:pre">OUTPUT FROM WRF V4.6.1 MODEL</text><text x="113.8" y="832.9" font-family="Liberation Sans, sans-serif" font-size="10.5" text-anchor="start" fill="#000" style="white-space:pre">WE = 580 ; SN = 380 ; Levels = 38 ; Dis = 8km ; Phys Opt = 8 ; PBL Opt = 1 ; Cu Opt = 5</text></svg></body></html>
